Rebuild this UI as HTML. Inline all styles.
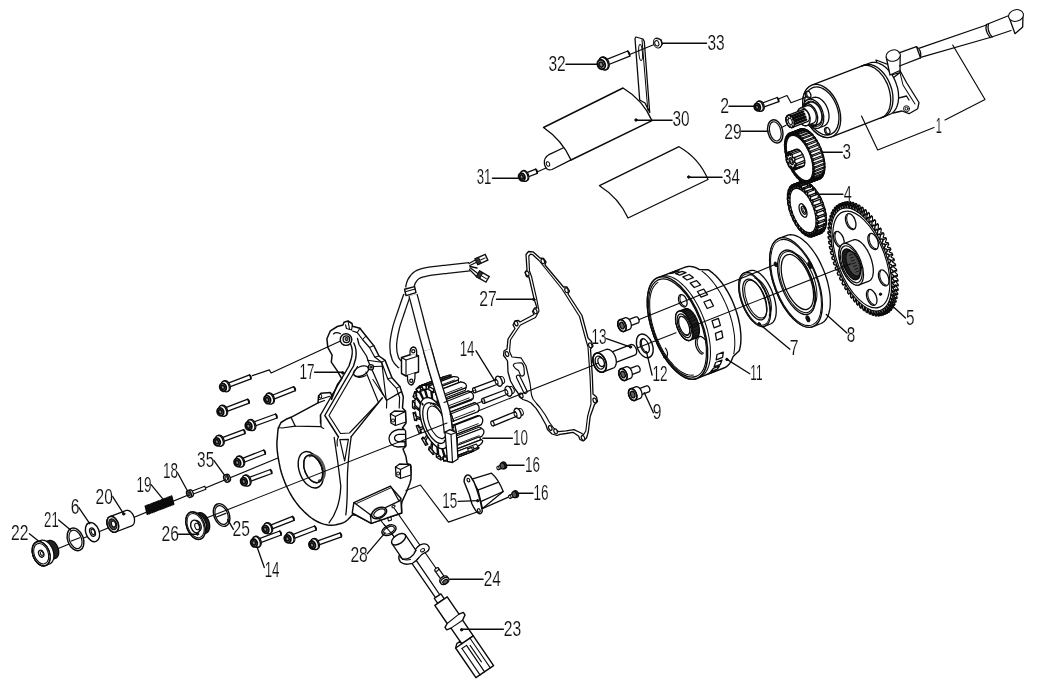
<!DOCTYPE html>
<html><head><meta charset="utf-8"><title>Exploded parts diagram</title>
<style>
html,body{margin:0;padding:0;background:#fff;}
svg{display:block;filter:grayscale(1)}
svg path,svg ellipse,svg circle,svg rect.s{stroke:#0a0a0a;stroke-linecap:round;stroke-linejoin:round}
svg text{font-family:"Liberation Sans",sans-serif;fill:#111;stroke:#fff;stroke-width:0.15px;paint-order:fill stroke}
</style></head><body>
<svg width="1052" height="691" viewBox="0 0 1052 691" fill="none">
<rect x="0" y="0" width="1052" height="691" fill="#fff" stroke="none"/>
<path d="M876.0,60.0 L899.0,68.7 L906.5,82.5 L919.0,102.5 L917.7,108.7 L909.0,113.7 L902.0,111.0 L893.0,113.0 Z" stroke-width="1.30" fill="#fff" />
<path d="M891.5,75.0 L900.0,72.5 L893.0,78.0 L896.5,98.7 L906.5,96.0 L909.0,100.0" stroke-width="1.30" fill="none" />
<path d="M899.0,68.7 L903.0,85.0 L915.0,104.0" stroke-width="1.04" fill="none" />
<circle cx="906.5" cy="108.7" r="3" fill="#fff"/>
<circle cx="906.5" cy="108.7" r="1.4" fill="none"/>
<path d="M882.9,117.1 L881.6,117.5 L880.3,117.7 L878.9,117.8 L877.4,117.7 L876.0,117.5 L874.5,117.1 L873.0,116.5 L871.5,115.8 L870.0,114.9 L868.6,113.9 L867.1,112.8 L865.7,111.5 L864.4,110.1 L863.1,108.5 L861.8,106.9 L860.7,105.2 L859.6,103.4 L858.6,101.5 L857.6,99.5 L856.8,97.5 L856.1,95.5 L855.5,93.4 L855.0,91.3 L854.6,89.3 L854.3,87.2 L854.1,85.1 L854.0,83.1 L854.1,81.2 L854.3,79.3 L854.6,77.5 L855.0,75.7 L855.5,74.1 L856.1,72.6 L856.9,71.2 L857.7,69.9 L858.6,68.7 L859.6,67.7 L860.7,66.8 L861.9,66.1 L863.2,65.5 L869.7,63.0 L871.0,62.6 L872.4,62.4 L873.8,62.3 L875.2,62.3 L876.7,62.6 L878.1,63.0 L879.6,63.6 L881.1,64.3 L882.6,65.1 L884.1,66.2 L885.5,67.3 L886.9,68.6 L888.3,70.0 L889.6,71.5 L890.8,73.2 L892.0,74.9 L893.1,76.7 L894.1,78.6 L895.0,80.5 L895.8,82.5 L896.5,84.6 L897.2,86.7 L897.7,88.7 L898.1,90.8 L898.4,92.9 L898.5,94.9 L898.6,96.9 L898.5,98.9 L898.3,100.8 L898.1,102.6 L897.6,104.3 L897.1,106.0 L896.5,107.5 L895.8,108.9 L894.9,110.2 L894.0,111.4 L893.0,112.4 L891.9,113.3 L890.7,114.0 L889.5,114.5 Z" stroke-width="1.30" fill="#fff" />
<ellipse cx="873.0" cy="91.3" rx="17.4" ry="27.6" transform="rotate(-21 873.0 91.3)" stroke-width="1.30" fill="#fff" />
<path d="M831.6,136.8 L830.3,137.2 L828.9,137.4 L827.5,137.5 L826.1,137.4 L824.6,137.2 L823.1,136.8 L821.7,136.2 L820.2,135.5 L818.7,134.6 L817.2,133.6 L815.8,132.5 L814.4,131.2 L813.0,129.8 L811.7,128.3 L810.5,126.6 L809.3,124.9 L808.2,123.1 L807.2,121.2 L806.3,119.2 L805.5,117.2 L804.7,115.2 L804.1,113.1 L803.6,111.0 L803.2,109.0 L802.9,106.9 L802.7,104.9 L802.7,102.8 L802.8,100.9 L802.9,99.0 L803.2,97.2 L803.6,95.5 L804.2,93.8 L804.8,92.3 L805.5,90.9 L806.3,89.6 L807.3,88.4 L808.3,87.4 L809.4,86.5 L810.6,85.8 L811.8,85.2 L864.1,65.2 L865.4,64.8 L866.8,64.5 L868.2,64.4 L869.6,64.5 L871.1,64.7 L872.5,65.1 L874.0,65.7 L875.5,66.4 L877.0,67.3 L878.5,68.3 L879.9,69.5 L881.3,70.7 L882.7,72.2 L884.0,73.7 L885.2,75.3 L886.4,77.0 L887.5,78.9 L888.5,80.7 L889.4,82.7 L890.2,84.7 L890.9,86.7 L891.6,88.8 L892.1,90.9 L892.5,93.0 L892.8,95.0 L892.9,97.1 L893.0,99.1 L892.9,101.0 L892.7,102.9 L892.5,104.7 L892.0,106.5 L891.5,108.1 L890.9,109.6 L890.2,111.1 L889.3,112.4 L888.4,113.5 L887.4,114.5 L886.3,115.4 L885.1,116.1 L883.9,116.7 Z" stroke-width="1.30" fill="#fff" />
<ellipse cx="821.7" cy="111.0" rx="17.4" ry="27.6" transform="rotate(-21 821.7 111.0)" stroke-width="1.30" fill="#fff" />
<path d="M881.5,117.6 L882.8,117.0 L884.0,116.3 L885.1,115.4 L886.1,114.4 L887.0,113.2 L887.8,112.0 L888.6,110.5 L889.2,109.0 L889.7,107.4 L890.1,105.6 L890.4,103.8 L890.6,101.9 L890.7,100.0 L890.6,98.0 L890.4,95.9 L890.1,93.9 L889.7,91.8 L889.2,89.7 L888.6,87.6 L887.9,85.6 L887.1,83.6 L886.1,81.6 L885.1,79.8 L884.0,77.9 L882.9,76.2 L881.6,74.6 L880.3,73.1 L879.0,71.6 L877.6,70.4 L876.1,69.2 L874.7,68.2 L873.2,67.3 L871.7,66.6 L870.2,66.0 L868.7,65.6 L867.3,65.4 L865.8,65.3 L864.4,65.4 L863.1,65.7 L861.8,66.1" stroke-width="1.30" fill="none" />
<ellipse cx="821.7" cy="111.0" rx="15.8" ry="25.0" transform="rotate(-21 821.7 111.0)" stroke-width="1.30" fill="none" />
<ellipse cx="808.2" cy="94.6" rx="2.5" ry="3.6" transform="rotate(-21 808.2 94.6)" stroke-width="1.30" fill="#fff" />
<path d="M807.5,91.5 L807.4,91.6 L807.3,91.7 L807.2,91.8 L807.1,91.9 L807.0,92.1 L806.9,92.2 L806.8,92.4 L806.8,92.6 L806.7,92.8 L806.7,93.0 L806.7,93.2 L806.7,93.4 L806.7,93.6 L806.7,93.8 L806.7,94.0 L806.7,94.2 L806.8,94.4 L806.8,94.7 L806.9,94.9 L806.9,95.1 L807.0,95.3 L807.1,95.5 L807.2,95.7 L807.3,95.9 L807.5,96.1 L807.6,96.2 L807.7,96.4 L807.9,96.5 L808.0,96.7 L808.2,96.8 L808.3,96.9 L808.5,97.0 L808.7,97.1 L808.8,97.2 L809.0,97.3 L809.2,97.3 L809.3,97.3 L809.5,97.4 L809.6,97.4 L809.8,97.4" stroke-width="1.04" fill="none" />
<ellipse cx="827.3" cy="131.0" rx="2.5" ry="3.6" transform="rotate(-21 827.3 131.0)" stroke-width="1.30" fill="#fff" />
<path d="M826.6,127.9 L826.5,128.0 L826.4,128.1 L826.3,128.2 L826.2,128.3 L826.1,128.5 L826.0,128.6 L825.9,128.8 L825.9,129.0 L825.8,129.2 L825.8,129.4 L825.8,129.6 L825.8,129.8 L825.8,130.0 L825.8,130.2 L825.8,130.4 L825.8,130.6 L825.9,130.8 L825.9,131.1 L826.0,131.3 L826.0,131.5 L826.1,131.7 L826.2,131.9 L826.3,132.1 L826.4,132.3 L826.6,132.5 L826.7,132.6 L826.8,132.8 L827.0,132.9 L827.1,133.1 L827.3,133.2 L827.4,133.3 L827.6,133.4 L827.8,133.5 L827.9,133.6 L828.1,133.7 L828.3,133.7 L828.4,133.7 L828.6,133.8 L828.7,133.8 L828.9,133.8" stroke-width="1.04" fill="none" />
<path d="M818.8,128.0 L818.1,128.2 L817.4,128.4 L816.6,128.4 L815.8,128.4 L815.0,128.2 L814.2,128.0 L813.4,127.7 L812.6,127.3 L811.7,126.8 L810.9,126.3 L810.1,125.6 L809.4,124.9 L808.6,124.1 L807.9,123.3 L807.2,122.4 L806.6,121.4 L806.0,120.4 L805.4,119.4 L804.9,118.3 L804.5,117.2 L804.1,116.1 L803.7,115.0 L803.4,113.8 L803.2,112.7 L803.1,111.5 L803.0,110.4 L802.9,109.3 L803.0,108.2 L803.1,107.2 L803.2,106.2 L803.5,105.2 L803.7,104.3 L804.1,103.5 L804.5,102.7 L804.9,102.0 L805.5,101.4 L806.0,100.8 L806.6,100.3 L807.3,99.9 L808.0,99.6 L813.1,97.6 L813.8,97.4 L814.6,97.3 L815.3,97.2 L816.1,97.3 L816.9,97.4 L817.7,97.6 L818.6,97.9 L819.4,98.3 L820.2,98.8 L821.0,99.4 L821.8,100.0 L822.6,100.7 L823.3,101.5 L824.0,102.3 L824.7,103.2 L825.4,104.2 L826.0,105.2 L826.5,106.2 L827.0,107.3 L827.5,108.4 L827.9,109.5 L828.2,110.7 L828.5,111.8 L828.7,113.0 L828.9,114.1 L829.0,115.2 L829.0,116.3 L829.0,117.4 L828.9,118.4 L828.7,119.4 L828.5,120.4 L828.2,121.3 L827.9,122.1 L827.4,122.9 L827.0,123.6 L826.5,124.3 L825.9,124.8 L825.3,125.3 L824.7,125.7 L824.0,126.0 Z" stroke-width="1.30" fill="#fff" />
<ellipse cx="813.4" cy="113.8" rx="9.6" ry="15.2" transform="rotate(-21 813.4 113.8)" stroke-width="1.30" fill="#fff" />
<ellipse cx="813.4" cy="113.8" rx="8.3" ry="13.2" transform="rotate(-21 813.4 113.8)" stroke-width="1.04" fill="none" />
<path d="M813.8,126.0 L813.3,126.2 L812.7,126.3 L812.1,126.3 L811.5,126.3 L810.9,126.2 L810.2,126.0 L809.6,125.8 L808.9,125.5 L808.3,125.1 L807.7,124.7 L807.1,124.2 L806.5,123.6 L805.9,123.0 L805.3,122.4 L804.8,121.7 L804.3,120.9 L803.8,120.2 L803.4,119.4 L803.0,118.5 L802.7,117.7 L802.3,116.8 L802.1,115.9 L801.9,115.0 L801.7,114.1 L801.6,113.2 L801.5,112.4 L801.5,111.5 L801.5,110.7 L801.6,109.9 L801.7,109.1 L801.9,108.4 L802.1,107.7 L802.4,107.0 L802.7,106.4 L803.0,105.8 L803.4,105.3 L803.9,104.9 L804.3,104.5 L804.8,104.2 L805.4,104.0 L809.6,102.4 L810.1,102.2 L810.7,102.1 L811.3,102.1 L811.9,102.1 L812.6,102.2 L813.2,102.4 L813.8,102.6 L814.5,102.9 L815.1,103.3 L815.7,103.7 L816.3,104.2 L816.9,104.8 L817.5,105.4 L818.1,106.0 L818.6,106.7 L819.1,107.4 L819.6,108.2 L820.0,109.0 L820.4,109.9 L820.7,110.7 L821.1,111.6 L821.3,112.5 L821.5,113.4 L821.7,114.3 L821.8,115.1 L821.9,116.0 L821.9,116.9 L821.9,117.7 L821.8,118.5 L821.7,119.3 L821.5,120.0 L821.3,120.7 L821.0,121.4 L820.7,122.0 L820.4,122.5 L820.0,123.0 L819.5,123.5 L819.1,123.9 L818.6,124.2 L818.0,124.4 Z" stroke-width="1.30" fill="#fff" />
<ellipse cx="809.6" cy="115.0" rx="7.4" ry="11.8" transform="rotate(-21 809.6 115.0)" stroke-width="1.30" fill="#fff" />
<path d="M806.5,103.6 L806.0,103.8 L805.5,104.1 L805.0,104.5 L804.6,104.9 L804.2,105.4 L803.8,106.0 L803.5,106.6 L803.2,107.2 L803.0,107.9 L802.8,108.7 L802.7,109.4 L802.6,110.3 L802.6,111.1 L802.6,111.9 L802.7,112.8 L802.8,113.7 L803.0,114.6 L803.2,115.5 L803.5,116.4 L803.8,117.2 L804.1,118.1 L804.5,118.9 L805.0,119.7 L805.4,120.5 L805.9,121.2 L806.5,121.9 L807.0,122.6 L807.6,123.2 L808.2,123.8 L808.8,124.2 L809.4,124.7 L810.1,125.0 L810.7,125.4 L811.3,125.6 L812.0,125.8 L812.6,125.9 L813.2,125.9 L813.8,125.9 L814.4,125.8 L814.9,125.6" stroke-width="1.17" fill="none" />
<path d="M807.6,103.1 L807.1,103.4 L806.6,103.7 L806.1,104.0 L805.7,104.5 L805.3,105.0 L804.9,105.5 L804.6,106.1 L804.3,106.8 L804.1,107.5 L803.9,108.2 L803.8,109.0 L803.7,109.8 L803.7,110.7 L803.7,111.5 L803.8,112.4 L803.9,113.3 L804.1,114.2 L804.3,115.0 L804.6,115.9 L804.9,116.8 L805.3,117.7 L805.6,118.5 L806.1,119.3 L806.5,120.1 L807.0,120.8 L807.6,121.5 L808.1,122.2 L808.7,122.8 L809.3,123.3 L809.9,123.8 L810.5,124.2 L811.2,124.6 L811.8,124.9 L812.5,125.2 L813.1,125.3 L813.7,125.4 L814.3,125.5 L814.9,125.4 L815.5,125.3 L816.1,125.2" stroke-width="1.17" fill="none" />
<path d="M808.7,102.7 L808.2,102.9 L807.7,103.2 L807.2,103.6 L806.8,104.1 L806.4,104.6 L806.0,105.1 L805.7,105.7 L805.5,106.4 L805.2,107.1 L805.1,107.8 L804.9,108.6 L804.9,109.4 L804.8,110.2 L804.9,111.1 L804.9,112.0 L805.1,112.8 L805.2,113.7 L805.4,114.6 L805.7,115.5 L806.0,116.4 L806.4,117.2 L806.8,118.1 L807.2,118.9 L807.7,119.6 L808.2,120.4 L808.7,121.1 L809.3,121.7 L809.8,122.3 L810.4,122.9 L811.0,123.4 L811.7,123.8 L812.3,124.2 L812.9,124.5 L813.6,124.7 L814.2,124.9 L814.8,125.0 L815.5,125.0 L816.1,125.0 L816.6,124.9 L817.2,124.7" stroke-width="1.17" fill="none" />
<path d="M807.1,125.5 L806.7,125.6 L806.2,125.7 L805.8,125.7 L805.3,125.7 L804.8,125.6 L804.3,125.5 L803.8,125.3 L803.3,125.1 L802.8,124.8 L802.3,124.4 L801.8,124.0 L801.3,123.6 L800.9,123.1 L800.4,122.6 L800.0,122.1 L799.6,121.5 L799.3,120.9 L798.9,120.2 L798.6,119.6 L798.3,118.9 L798.1,118.2 L797.9,117.5 L797.7,116.8 L797.6,116.1 L797.5,115.4 L797.4,114.7 L797.4,114.1 L797.4,113.4 L797.5,112.8 L797.6,112.1 L797.7,111.6 L797.9,111.0 L798.1,110.5 L798.3,110.0 L798.6,109.6 L798.9,109.2 L799.3,108.8 L799.7,108.6 L800.0,108.3 L800.5,108.1 L806.5,105.8 L807.0,105.7 L807.4,105.6 L807.9,105.5 L808.4,105.6 L808.9,105.6 L809.4,105.8 L809.9,106.0 L810.4,106.2 L810.9,106.5 L811.4,106.8 L811.9,107.2 L812.3,107.7 L812.8,108.1 L813.2,108.7 L813.6,109.2 L814.0,109.8 L814.4,110.4 L814.7,111.0 L815.1,111.7 L815.3,112.4 L815.6,113.1 L815.8,113.8 L816.0,114.5 L816.1,115.2 L816.2,115.9 L816.3,116.5 L816.3,117.2 L816.3,117.9 L816.2,118.5 L816.1,119.1 L816.0,119.7 L815.8,120.3 L815.6,120.8 L815.3,121.3 L815.0,121.7 L814.7,122.1 L814.4,122.4 L814.0,122.7 L813.6,123.0 L813.2,123.2 Z" stroke-width="1.30" fill="#fff" />
<ellipse cx="803.8" cy="116.8" rx="5.9" ry="9.3" transform="rotate(-21 803.8 116.8)" stroke-width="1.30" fill="#fff" />
<path d="M792.5,127.4 L792.2,127.5 L791.9,127.5 L791.6,127.5 L791.3,127.5 L790.9,127.4 L790.6,127.3 L790.3,127.2 L789.9,127.0 L789.6,126.8 L789.3,126.6 L789.0,126.3 L788.6,126.0 L788.3,125.7 L788.0,125.3 L787.8,125.0 L787.5,124.6 L787.2,124.1 L787.0,123.7 L786.8,123.2 L786.6,122.8 L786.4,122.3 L786.3,121.8 L786.2,121.3 L786.1,120.9 L786.0,120.4 L786.0,119.9 L785.9,119.5 L786.0,119.0 L786.0,118.6 L786.0,118.1 L786.1,117.8 L786.2,117.4 L786.4,117.0 L786.5,116.7 L786.7,116.4 L786.9,116.1 L787.1,115.9 L787.4,115.7 L787.6,115.6 L787.9,115.4 L802.8,109.7 L803.1,109.6 L803.4,109.5 L803.7,109.5 L804.1,109.6 L804.4,109.6 L804.7,109.7 L805.1,109.9 L805.4,110.0 L805.7,110.2 L806.1,110.5 L806.4,110.7 L806.7,111.0 L807.0,111.4 L807.3,111.7 L807.6,112.1 L807.8,112.5 L808.1,112.9 L808.3,113.4 L808.5,113.8 L808.7,114.3 L808.9,114.8 L809.0,115.2 L809.2,115.7 L809.3,116.2 L809.3,116.7 L809.4,117.2 L809.4,117.6 L809.4,118.1 L809.4,118.5 L809.3,118.9 L809.2,119.3 L809.1,119.7 L809.0,120.0 L808.8,120.4 L808.6,120.7 L808.4,120.9 L808.2,121.2 L808.0,121.4 L807.7,121.5 L807.4,121.6 Z" stroke-width="1.30" fill="#fff" />
<ellipse cx="790.2" cy="121.4" rx="3.8" ry="6.4" transform="rotate(-21 790.2 121.4)" stroke-width="1.30" fill="#fff" />
<path d="M790.0,116.8 L803.1,111.7" stroke-width="2.47" />
<path d="M791.0,119.2 L804.0,114.2" stroke-width="2.99" />
<path d="M792.0,122.0 L805.1,117.0" stroke-width="2.99" />
<path d="M793.0,124.6 L806.1,119.6" stroke-width="2.47" />
<ellipse cx="790.2" cy="121.4" rx="3.8" ry="6.4" transform="rotate(-21 790.2 121.4)" stroke-width="1.43" fill="#fff" />
<path d="M791.7,124.4 L793.0,126.9" stroke-width="1.04" />
<path d="M792.5,122.6 L794.3,123.6" stroke-width="1.04" />
<path d="M791.9,120.1 L793.2,119.1" stroke-width="1.04" />
<path d="M790.3,118.4 L790.4,115.9" stroke-width="1.04" />
<path d="M788.7,118.4 L787.4,115.9" stroke-width="1.04" />
<path d="M787.9,120.2 L786.1,119.2" stroke-width="1.04" />
<path d="M788.5,122.7 L787.2,123.7" stroke-width="1.04" />
<path d="M790.1,124.4 L790.0,126.9" stroke-width="1.04" />
<ellipse cx="790.2" cy="121.4" rx="1.9" ry="3.2" transform="rotate(-21 790.2 121.4)" stroke-width="1.04" fill="#fff" />
<path d="M886.2,57.0 L890.0,75.0 L900.0,70.5 L900.2,55.0 Z" stroke-width="1.30" fill="#fff" />
<ellipse cx="893.2" cy="55.6" rx="7.2" ry="5.6" transform="rotate(-15 893.2 55.6)" fill="#fff"/>
<path d="M899.0,52.8 L916.5,46.7 L920.5,57.8 L899.5,66.0" stroke-width="1.30" fill="none" />
<path d="M916.5,46.7 Q922,50 920.5,57.8" stroke-width="1.30" fill="none" />
<path d="M919.5,48.2 L986.5,25.0" stroke-width="1.30" />
<path d="M921.5,57.2 L990.0,37.5" stroke-width="1.30" />
<path d="M986.5,24.5 L1009.0,15.5" stroke-width="1.30" fill="none" />
<path d="M990.2,37.5 L1011.0,30.5" stroke-width="1.30" fill="none" />
<path d="M986.5,24.5 Q984.5,31 990.2,37.5" stroke-width="1.30" fill="none" />
<path d="M988.5,24 Q986.5,30.5 992.2,37" stroke-width="1.30" fill="none" />
<path d="M1009.0,17.0 L1015.0,33.7 L1022.7,27.0 L1023.0,14.0 Z" stroke-width="1.30" fill="#fff" />
<ellipse cx="1016" cy="15.5" rx="7.5" ry="5.8" transform="rotate(-15 1016 15.5)" fill="#fff"/>
<path d="M635.0,38.5 L636.0,37.0 L643.0,39.0 L644.3,41.5 L649.7,112.5 L645.0,103.0 L639.7,100.0 Z" stroke-width="1.30" fill="#fff" />
<path d="M642.0,39.5 L647.8,110.0" stroke-width="1.04" />
<ellipse cx="640.6" cy="52.5" rx="1.8" ry="8" transform="rotate(-4 640.6 52.5)" fill="#fff"/>
<path d="M563,148 L549.5,154.3 Q543,158 544.5,164.5 Q546.5,171.5 552,169.5 L571.5,159.7" stroke-width="1.30" fill="#fff" />
<ellipse cx="548" cy="164" rx="1.6" ry="2.4" transform="rotate(-20 548 164)"/>
<path d="M543.5,127.5 L623,88 Q643,100 652,120.7 L571,160 Q562,140 543.5,127.5 Z" stroke-width="1.43" fill="#fff" />
<path d="M599.5,185.7 L679,146.7 Q699,158 708,179.5 L628,218 Q619,198 599.5,185.7 Z" stroke-width="1.30" fill="#fff" />
<path d="M629.7,54.5 L656.0,43.7" stroke-width="1.17" />
<path d="M606.3,65.5 L629.8,56.2 L627.8,51.0 L604.3,60.3" stroke-width="1.30" fill="#fff" />
<path d="M629.8,56.2 Q630.2,53.0 627.8,51.0" stroke-width="1.30" fill="none" />
<ellipse cx="604.5" cy="63.2" rx="4.4" ry="6.6" transform="rotate(-21.6 604.5 63.2)" fill="#fff" stroke-width="1.30"/>
<ellipse cx="603.6" cy="63.6" rx="4.4" ry="6.6" transform="rotate(-21.6 603.6 63.6)" fill="#fff" stroke-width="1.43"/>
<ellipse cx="601.3" cy="64.5" rx="3.7" ry="4.8" transform="rotate(-21.6 601.3 64.5)" fill="#fff" stroke-width="1.95"/>
<ellipse cx="601.1" cy="64.6" rx="2.0" ry="2.6" transform="rotate(-21.6 601.1 64.6)" fill="#888" stroke-width="1.56"/>
<ellipse cx="657.5" cy="43" rx="4" ry="5" transform="rotate(-20 657.5 43)" fill="#fff"/>
<ellipse cx="656.8" cy="43.3" rx="2" ry="2.8" transform="rotate(-20 656.8 43.3)" fill="none"/>
<path d="M656,38.5 L661,39.5 L662.5,44 L660,47.5" stroke-width="1.17" fill="none" />
<path d="M537.0,172.0 L546.0,168.0" stroke-width="1.17" />
<path d="M526.6,177.5 L537.3,173.3 L535.7,169.1 L525.0,173.3" stroke-width="1.30" fill="#fff" />
<path d="M537.3,173.3 Q537.9,170.7 535.7,169.1" stroke-width="1.30" fill="none" />
<ellipse cx="525.0" cy="175.7" rx="3.6" ry="5.4" transform="rotate(-21.4 525.0 175.7)" fill="#fff" stroke-width="1.30"/>
<ellipse cx="524.1" cy="176.1" rx="3.6" ry="5.4" transform="rotate(-21.4 524.1 176.1)" fill="#fff" stroke-width="1.43"/>
<ellipse cx="521.8" cy="177.0" rx="3.0" ry="3.9" transform="rotate(-21.4 521.8 177.0)" fill="#fff" stroke-width="1.95"/>
<ellipse cx="521.6" cy="177.0" rx="1.6" ry="2.2" transform="rotate(-21.4 521.6 177.0)" fill="#888" stroke-width="1.56"/>
<path d="M762.1,107.7 L778.8,101.7 L777.2,97.5 L760.6,103.6" stroke-width="1.30" fill="#fff" />
<path d="M778.8,101.7 Q779.4,99.1 777.2,97.5" stroke-width="1.30" fill="none" />
<ellipse cx="760.6" cy="105.9" rx="3.4" ry="5.2" transform="rotate(-20.0 760.6 105.9)" fill="#fff" stroke-width="1.30"/>
<ellipse cx="759.6" cy="106.3" rx="3.4" ry="5.2" transform="rotate(-20.0 759.6 106.3)" fill="#fff" stroke-width="1.43"/>
<ellipse cx="757.3" cy="107.1" rx="2.9" ry="3.7" transform="rotate(-20.0 757.3 107.1)" fill="#fff" stroke-width="1.95"/>
<ellipse cx="757.1" cy="107.2" rx="1.6" ry="2.1" transform="rotate(-20.0 757.1 107.2)" fill="#888" stroke-width="1.56"/>
<path d="M779.5,98.5 L787.0,95.5 L791.0,102.8 L805.0,97.5" stroke-width="1.17" fill="none" />
<ellipse cx="775.3" cy="131.4" rx="7.4" ry="11.8" transform="rotate(-14 775.3 131.4)" fill="#fff" stroke-width="1.43"/>
<ellipse cx="775.3" cy="131.4" rx="5.6" ry="9.8" transform="rotate(-14 775.3 131.4)" fill="none" stroke-width="1.17"/>
<path d="M781.0,127.8 L786.0,125.3" stroke-width="1.17" />
<path d="M884.5,309.4 L886.8,313.4 L887.6,313.0 L886.4,308.5 L886.7,308.3 L889.1,312.1 L889.8,311.6 L888.3,307.0 L888.6,306.8 L891.1,310.3 L891.8,309.6 L890.1,305.1 L890.4,304.8 L892.9,308.1 L893.5,307.2 L891.7,302.7 L891.9,302.4 L894.5,305.3 L895.0,304.3 L893.0,300.0 L893.1,299.5 L895.8,302.2 L896.2,301.0 L894.0,296.9 L894.1,296.4 L896.8,298.6 L897.1,297.3 L894.8,293.4 L894.9,292.8 L897.6,294.7 L897.7,293.3 L895.3,289.6 L895.4,289.0 L898.0,290.5 L898.1,288.9 L895.5,285.5 L895.5,284.9 L898.1,285.9 L898.1,284.3 L895.5,281.2 L895.5,280.5 L898.0,281.2 L897.8,279.4 L895.2,276.6 L895.1,275.9 L897.5,276.2 L897.3,274.4 L894.6,271.9 L894.5,271.2 L896.7,271.0 L896.4,269.2 L893.7,267.1 L893.6,266.3 L895.7,265.7 L895.2,263.8 L892.6,262.2 L892.4,261.4 L894.3,260.4 L893.8,258.5 L891.2,257.2 L891.0,256.5 L892.8,255.0 L892.1,253.1 L889.6,252.3 L889.3,251.5 L890.9,249.7 L890.2,247.8 L887.8,247.4 L887.5,246.7 L888.8,244.4 L888.0,242.6 L885.7,242.6 L885.4,241.9 L886.5,239.3 L885.7,237.5 L883.5,237.9 L883.1,237.3 L884.0,234.3 L883.1,232.6 L881.1,233.5 L880.7,232.8 L881.3,229.5 L880.4,227.9 L878.5,229.2 L878.1,228.6 L878.5,225.0 L877.5,223.5 L875.8,225.2 L875.4,224.7 L875.6,220.9 L874.5,219.5 L873.1,221.6 L872.6,221.0 L872.5,217.0 L871.4,215.7 L870.2,218.2 L869.8,217.7 L869.4,213.5 L868.3,212.4 L867.3,215.2 L866.9,214.8 L866.3,210.4 L865.1,209.5 L864.4,212.6 L864.0,212.3 L863.1,207.8 L862.0,207.0 L861.5,210.4 L861.0,210.1 L859.9,205.6 L858.8,204.9 L858.6,208.7 L858.2,208.4 L856.8,203.9 L855.8,203.4 L855.8,207.3 L855.3,207.2 L853.8,202.7 L852.8,202.4 L853.0,206.5 L852.6,206.4 L850.9,201.9 L849.9,201.8 L850.4,206.1 L850.0,206.1 L848.1,201.7 L847.1,201.8 L847.9,206.2 L847.5,206.3 L845.4,202.0 L844.5,202.3 L845.5,206.8 L845.2,206.9 L842.9,202.8 L842.1,203.2 L843.3,207.8 L843.0,208.0 L840.6,204.1 L839.9,204.7 L841.3,209.3 L841.1,209.5 L838.6,205.9 L837.9,206.7 L839.6,211.2 L839.3,211.5 L836.8,208.2 L836.2,209.1 L838.0,213.5 L837.8,213.9 L835.2,210.9 L834.7,212.0 L836.7,216.3 L836.6,216.7 L833.9,214.1 L833.5,215.3 L835.7,219.4 L835.5,219.9 L832.9,217.6 L832.6,219.0 L834.9,222.9 L834.8,223.4 L832.1,221.5 L832.0,223.0 L834.4,226.7 L834.3,227.3 L831.7,225.8 L831.6,227.4 L834.2,230.8 L834.1,231.4 L831.6,230.3 L831.6,232.0 L834.2,235.1 L834.2,235.8 L831.7,235.1 L831.9,236.9 L834.5,239.7 L834.6,240.3 L832.2,240.1 L832.4,241.9 L835.1,244.4 L835.2,245.1 L833.0,245.3 L833.3,247.1 L836.0,249.2 L836.1,249.9 L834.0,250.6 L834.5,252.4 L837.1,254.1 L837.3,254.8 L835.3,255.9 L835.9,257.8 L838.5,259.1 L838.7,259.8 L836.9,261.3 L837.6,263.2 L840.1,264.0 L840.4,264.7 L838.8,266.6 L839.5,268.5 L841.9,268.9 L842.2,269.6 L840.9,271.9 L841.7,273.7 L844.0,273.7 L844.3,274.4 L843.2,277.0 L844.0,278.8 L846.2,278.3 L846.6,279.0 L845.7,282.0 L846.6,283.7 L848.6,282.8 L849.0,283.5 L848.4,286.7 L849.3,288.3 L851.2,287.0 L851.6,287.7 L851.2,291.2 L852.2,292.7 L853.9,291.0 L854.3,291.6 L854.1,295.4 L855.2,296.8 L856.6,294.7 L857.1,295.2 L857.2,299.3 L858.3,300.5 L859.5,298.1 L859.9,298.5 L860.3,302.8 L861.4,303.9 L862.4,301.1 L862.8,301.5 L863.4,305.8 L864.5,306.8 L865.3,303.7 L865.7,304.0 L866.6,308.5 L867.7,309.3 L868.2,305.9 L868.7,306.1 L869.8,310.7 L870.8,311.3 L871.1,307.6 L871.5,307.8 L872.9,312.4 L873.9,312.9 L873.9,308.9 L874.4,309.1 L875.9,313.6 L876.9,313.9 L876.7,309.8 L877.1,309.9 L878.8,314.3 L879.8,314.5 L879.3,310.2 L879.7,310.2 L881.6,314.5 L882.6,314.5 L881.8,310.1 L882.2,310.0 L884.3,314.2 L885.2,314.0 L884.2,309.5 Z" stroke-width="1.17" fill="#fff" />
<path d="M883.6,314.6 L887.2,313.2" stroke-width="1.30" />
<path d="M885.9,313.2 L889.4,311.9" stroke-width="1.30" />
<path d="M887.9,311.3 L891.4,310.0" stroke-width="1.30" />
<path d="M889.7,309.0 L893.2,307.6" stroke-width="1.30" />
<path d="M891.2,306.2 L894.7,304.8" stroke-width="1.30" />
<path d="M892.5,303.0 L896.0,301.6" stroke-width="1.30" />
<path d="M893.4,299.4 L897.0,298.0" stroke-width="1.30" />
<path d="M894.1,295.4 L897.7,294.0" stroke-width="1.30" />
<path d="M894.5,291.1 L898.0,289.7" stroke-width="1.30" />
<path d="M894.6,286.5 L898.1,285.1" stroke-width="1.30" />
<path d="M894.4,281.7 L897.9,280.3" stroke-width="1.30" />
<path d="M893.8,276.6 L897.4,275.3" stroke-width="1.30" />
<path d="M893.0,271.5 L896.6,270.1" stroke-width="1.30" />
<path d="M891.9,266.2 L895.5,264.8" stroke-width="1.30" />
<path d="M890.5,260.8 L894.1,259.4" stroke-width="1.30" />
<path d="M888.9,255.4 L892.5,254.1" stroke-width="1.30" />
<path d="M887.0,250.1 L890.6,248.8" stroke-width="1.30" />
<path d="M884.9,244.9 L888.4,243.5" stroke-width="1.30" />
<path d="M882.6,239.8 L886.1,238.4" stroke-width="1.30" />
<path d="M880.0,234.8 L883.6,233.5" stroke-width="1.30" />
<path d="M877.3,230.1 L880.9,228.8" stroke-width="1.30" />
<path d="M874.5,225.7 L878.0,224.3" stroke-width="1.30" />
<path d="M871.5,221.5 L875.1,220.2" stroke-width="1.30" />
<path d="M868.5,217.7 L872.0,216.4" stroke-width="1.30" />
<path d="M865.3,214.3 L868.9,213.0" stroke-width="1.30" />
<path d="M862.2,211.3 L865.7,210.0" stroke-width="1.30" />
<path d="M859.0,208.7 L862.6,207.4" stroke-width="1.30" />
<path d="M855.9,206.6 L859.4,205.3" stroke-width="1.30" />
<path d="M852.8,205.0 L856.3,203.6" stroke-width="1.30" />
<path d="M849.7,203.9 L853.3,202.5" stroke-width="1.30" />
<path d="M846.8,203.2 L850.4,201.9" stroke-width="1.30" />
<path d="M844.0,203.1 L847.6,201.7" stroke-width="1.30" />
<path d="M841.4,203.5 L845.0,202.1" stroke-width="1.30" />
<path d="M839.0,204.4 L842.5,203.0" stroke-width="1.30" />
<path d="M836.7,205.8 L840.3,204.4" stroke-width="1.30" />
<path d="M834.7,207.7 L838.3,206.3" stroke-width="1.30" />
<path d="M875.8,315.8 L879.3,314.4" stroke-width="1.30" />
<path d="M878.6,315.9 L882.1,314.5" stroke-width="1.30" />
<path d="M881.2,315.5 L884.7,314.1" stroke-width="1.30" />
<path d="M881.0,310.8 L883.2,314.8 L884.0,314.4 L882.8,309.9 L883.1,309.7 L885.5,313.5 L886.3,312.9 L884.8,308.4 L885.1,308.1 L887.6,311.7 L888.2,311.0 L886.6,306.5 L886.8,306.1 L889.4,309.4 L890.0,308.5 L888.1,304.1 L888.3,303.7 L891.0,306.7 L891.4,305.6 L889.4,301.4 L889.6,300.9 L892.3,303.6 L892.6,302.4 L890.5,298.2 L890.6,297.7 L893.3,300.0 L893.6,298.7 L891.2,294.7 L891.3,294.2 L894.0,296.1 L894.2,294.6 L891.8,290.9 L891.8,290.3 L894.4,291.8 L894.5,290.3 L892.0,286.9 L892.0,286.2 L894.6,287.3 L894.6,285.7 L891.9,282.5 L891.9,281.9 L894.4,282.5 L894.3,280.8 L891.6,278.0 L891.6,277.3 L893.9,277.5 L893.7,275.7 L891.0,273.3 L890.9,272.6 L893.2,272.3 L892.8,270.5 L890.2,268.4 L890.0,267.7 L892.1,267.1 L891.7,265.2 L889.0,263.5 L888.9,262.8 L890.8,261.7 L890.3,259.8 L887.7,258.6 L887.4,257.8 L889.2,256.4 L888.6,254.5 L886.0,253.6 L885.8,252.9 L887.4,251.0 L886.6,249.2 L884.2,248.7 L883.9,248.0 L885.3,245.8 L884.5,243.9 L882.2,244.0 L881.8,243.2 L883.0,240.6 L882.1,238.9 L879.9,239.3 L879.6,238.6 L880.5,235.6 L879.5,234.0 L877.5,234.8 L877.1,234.2 L877.8,230.9 L876.8,229.3 L875.0,230.6 L874.6,230.0 L875.0,226.4 L873.9,224.9 L872.3,226.6 L871.9,226.0 L872.0,222.2 L871.0,220.8 L869.5,222.9 L869.1,222.4 L869.0,218.4 L867.9,217.1 L866.7,219.6 L866.2,219.1 L865.9,214.9 L864.8,213.8 L863.8,216.6 L863.3,216.2 L862.7,211.8 L861.6,210.8 L860.8,214.0 L860.4,213.6 L859.5,209.2 L858.4,208.3 L857.9,211.8 L857.5,211.5 L856.4,207.0 L855.3,206.3 L855.0,210.0 L854.6,209.8 L853.3,205.2 L852.2,204.8 L852.2,208.7 L851.8,208.6 L850.3,204.0 L849.2,203.7 L849.5,207.9 L849.1,207.8 L847.3,203.3 L846.3,203.2 L846.8,207.5 L846.4,207.5 L844.5,203.1 L843.6,203.1 L844.3,207.6 L844.0,207.6 L841.9,203.4 L841.0,203.6 L842.0,208.1 L841.6,208.2 L839.4,204.2 L838.6,204.6 L839.8,209.1 L839.5,209.3 L837.1,205.5 L836.3,206.1 L837.8,210.6 L837.5,210.9 L835.0,207.3 L834.4,208.0 L836.0,212.5 L835.8,212.9 L833.2,209.6 L832.6,210.5 L834.5,214.9 L834.3,215.3 L831.6,212.3 L831.2,213.4 L833.2,217.6 L833.0,218.1 L830.3,215.4 L830.0,216.6 L832.1,220.8 L832.0,221.3 L829.3,219.0 L829.0,220.3 L831.4,224.3 L831.3,224.8 L828.6,222.9 L828.4,224.4 L830.8,228.1 L830.8,228.7 L828.2,227.2 L828.1,228.7 L830.6,232.1 L830.6,232.8 L828.0,231.7 L828.0,233.3 L830.7,236.5 L830.7,237.1 L828.2,236.5 L828.3,238.2 L831.0,241.0 L831.0,241.7 L828.7,241.5 L828.9,243.3 L831.6,245.7 L831.7,246.4 L829.4,246.7 L829.8,248.5 L832.4,250.6 L832.6,251.3 L830.5,251.9 L830.9,253.8 L833.6,255.5 L833.7,256.2 L831.8,257.3 L832.3,259.2 L834.9,260.4 L835.2,261.2 L833.4,262.6 L834.0,264.5 L836.6,265.4 L836.8,266.1 L835.2,268.0 L836.0,269.8 L838.4,270.3 L838.7,271.0 L837.3,273.2 L838.1,275.1 L840.4,275.0 L840.8,275.8 L839.6,278.4 L840.5,280.1 L842.7,279.7 L843.0,280.4 L842.1,283.4 L843.1,285.0 L845.1,284.2 L845.5,284.8 L844.8,288.1 L845.8,289.7 L847.6,288.4 L848.0,289.0 L847.6,292.6 L848.7,294.1 L850.3,292.4 L850.7,293.0 L850.6,296.8 L851.6,298.2 L853.1,296.1 L853.5,296.6 L853.6,300.6 L854.7,301.9 L855.9,299.4 L856.4,299.9 L856.7,304.1 L857.8,305.2 L858.8,302.4 L859.3,302.8 L859.9,307.2 L861.0,308.2 L861.8,305.0 L862.2,305.4 L863.1,309.8 L864.2,310.7 L864.7,307.2 L865.1,307.5 L866.2,312.0 L867.3,312.7 L867.6,309.0 L868.0,309.2 L869.3,313.8 L870.4,314.2 L870.4,310.3 L870.8,310.4 L872.3,315.0 L873.4,315.3 L873.1,311.1 L873.5,311.2 L875.3,315.7 L876.3,315.8 L875.8,311.5 L876.2,311.5 L878.1,315.9 L879.0,315.9 L878.3,311.4 L878.6,311.4 L880.7,315.6 L881.6,315.4 L880.6,310.9 Z" stroke-width="1.43" fill="#fff" />
<ellipse cx="861.3" cy="259.5" rx="25.0" ry="54.3" transform="rotate(-21 861.3 259.5)" stroke-width="1.17" fill="none" />
<ellipse cx="861.3" cy="259.5" rx="23.5" ry="51.0" transform="rotate(-21 861.3 259.5)" stroke-width="1.17" fill="none" />
<ellipse cx="850.7" cy="221.6" rx="4.7" ry="8.4" transform="rotate(-21 850.7 221.6)" stroke-width="1.30" fill="#fff" />
<path d="M847.7,214.7 L847.5,215.0 L847.3,215.2 L847.2,215.5 L847.1,215.9 L847.0,216.2 L846.9,216.6 L846.8,217.0 L846.8,217.4 L846.7,217.8 L846.7,218.2 L846.7,218.6 L846.8,219.1 L846.8,219.5 L846.9,220.0 L846.9,220.4 L847.0,220.9 L847.2,221.4 L847.3,221.8 L847.4,222.3 L847.6,222.8 L847.8,223.2 L848.0,223.7 L848.2,224.1 L848.4,224.5 L848.7,224.9 L848.9,225.3 L849.2,225.7 L849.5,226.1 L849.7,226.4 L850.0,226.8 L850.3,227.1 L850.6,227.4 L850.9,227.6 L851.2,227.9 L851.5,228.1 L851.8,228.3 L852.1,228.4 L852.5,228.5 L852.8,228.7 L853.1,228.7" stroke-width="1.04" fill="none" />
<ellipse cx="873.1" cy="241.5" rx="4.7" ry="8.4" transform="rotate(-21 873.1 241.5)" stroke-width="1.30" fill="#fff" />
<path d="M870.1,234.6 L869.9,234.8 L869.7,235.1 L869.6,235.4 L869.5,235.7 L869.4,236.1 L869.3,236.4 L869.2,236.8 L869.2,237.2 L869.1,237.6 L869.1,238.1 L869.1,238.5 L869.2,238.9 L869.2,239.4 L869.3,239.8 L869.3,240.3 L869.4,240.8 L869.6,241.2 L869.7,241.7 L869.8,242.2 L870.0,242.6 L870.2,243.1 L870.4,243.5 L870.6,244.0 L870.8,244.4 L871.1,244.8 L871.3,245.2 L871.6,245.6 L871.8,245.9 L872.1,246.3 L872.4,246.6 L872.7,246.9 L873.0,247.2 L873.3,247.5 L873.6,247.7 L873.9,247.9 L874.2,248.1 L874.5,248.3 L874.9,248.4 L875.2,248.5 L875.5,248.6" stroke-width="1.04" fill="none" />
<ellipse cx="883.7" cy="277.9" rx="4.7" ry="8.4" transform="rotate(-21 883.7 277.9)" stroke-width="1.30" fill="#fff" />
<path d="M880.7,271.0 L880.5,271.2 L880.3,271.5 L880.2,271.8 L880.1,272.2 L880.0,272.5 L879.9,272.9 L879.8,273.2 L879.8,273.6 L879.7,274.1 L879.7,274.5 L879.7,274.9 L879.8,275.4 L879.8,275.8 L879.9,276.3 L879.9,276.7 L880.0,277.2 L880.2,277.7 L880.3,278.1 L880.4,278.6 L880.6,279.1 L880.8,279.5 L881.0,280.0 L881.2,280.4 L881.4,280.8 L881.7,281.2 L881.9,281.6 L882.2,282.0 L882.4,282.4 L882.7,282.7 L883.0,283.0 L883.3,283.4 L883.6,283.6 L883.9,283.9 L884.2,284.1 L884.5,284.3 L884.8,284.5 L885.1,284.7 L885.4,284.8 L885.8,284.9 L886.1,285.0" stroke-width="1.04" fill="none" />
<ellipse cx="871.7" cy="297.4" rx="4.7" ry="8.4" transform="rotate(-21 871.7 297.4)" stroke-width="1.30" fill="#fff" />
<path d="M868.7,290.5 L868.6,290.8 L868.4,291.0 L868.3,291.3 L868.2,291.7 L868.0,292.0 L868.0,292.4 L867.9,292.8 L867.8,293.2 L867.8,293.6 L867.8,294.0 L867.8,294.4 L867.8,294.9 L867.9,295.3 L867.9,295.8 L868.0,296.3 L868.1,296.7 L868.2,297.2 L868.4,297.7 L868.5,298.1 L868.7,298.6 L868.9,299.0 L869.1,299.5 L869.3,299.9 L869.5,300.3 L869.7,300.7 L870.0,301.1 L870.3,301.5 L870.5,301.9 L870.8,302.2 L871.1,302.6 L871.4,302.9 L871.7,303.2 L872.0,303.4 L872.3,303.7 L872.6,303.9 L872.9,304.1 L873.2,304.2 L873.5,304.4 L873.8,304.5 L874.1,304.5" stroke-width="1.04" fill="none" />
<ellipse cx="838.9" cy="239.4" rx="4.7" ry="8.4" transform="rotate(-21 838.9 239.4)" stroke-width="1.30" fill="#fff" />
<path d="M835.9,232.5 L835.8,232.8 L835.6,233.1 L835.5,233.4 L835.3,233.7 L835.2,234.0 L835.2,234.4 L835.1,234.8 L835.0,235.2 L835.0,235.6 L835.0,236.0 L835.0,236.4 L835.0,236.9 L835.1,237.3 L835.1,237.8 L835.2,238.3 L835.3,238.7 L835.4,239.2 L835.6,239.7 L835.7,240.1 L835.9,240.6 L836.1,241.0 L836.3,241.5 L836.5,241.9 L836.7,242.3 L836.9,242.8 L837.2,243.2 L837.4,243.5 L837.7,243.9 L838.0,244.3 L838.3,244.6 L838.6,244.9 L838.9,245.2 L839.2,245.4 L839.5,245.7 L839.8,245.9 L840.1,246.1 L840.4,246.2 L840.7,246.4 L841.0,246.5 L841.3,246.6" stroke-width="1.04" fill="none" />
<path d="M859.1,284.8 L858.3,285.1 L857.5,285.2 L856.7,285.1 L855.8,285.0 L854.9,284.7 L853.9,284.2 L853.0,283.7 L852.0,283.0 L851.1,282.3 L850.1,281.4 L849.1,280.4 L848.2,279.3 L847.3,278.1 L846.4,276.9 L845.5,275.5 L844.7,274.1 L843.9,272.6 L843.1,271.1 L842.4,269.5 L841.8,267.9 L841.2,266.3 L840.6,264.7 L840.2,263.0 L839.8,261.4 L839.5,259.8 L839.2,258.2 L839.0,256.7 L838.9,255.2 L838.9,253.7 L838.9,252.3 L839.1,251.0 L839.3,249.8 L839.5,248.7 L839.9,247.6 L840.3,246.7 L840.8,245.9 L841.3,245.2 L841.9,244.6 L842.6,244.1 L843.3,243.8 L853.1,240.0 L853.9,239.8 L854.7,239.7 L855.5,239.7 L856.4,239.9 L857.3,240.2 L858.3,240.6 L859.2,241.1 L860.2,241.8 L861.1,242.6 L862.1,243.4 L863.1,244.4 L864.0,245.5 L864.9,246.7 L865.8,248.0 L866.7,249.3 L867.6,250.7 L868.3,252.2 L869.1,253.7 L869.8,255.3 L870.5,256.9 L871.0,258.5 L871.6,260.2 L872.0,261.8 L872.4,263.4 L872.7,265.0 L873.0,266.6 L873.2,268.2 L873.3,269.7 L873.3,271.1 L873.3,272.5 L873.1,273.8 L872.9,275.0 L872.7,276.2 L872.3,277.2 L871.9,278.1 L871.4,278.9 L870.9,279.7 L870.3,280.3 L869.6,280.7 L868.9,281.1 Z" stroke-width="1.30" fill="#fff" />
<ellipse cx="851.2" cy="264.3" rx="10.1" ry="22.0" transform="rotate(-21 851.2 264.3)" stroke-width="1.30" fill="#fff" />
<ellipse cx="851.2" cy="264.3" rx="9.0" ry="19.5" transform="rotate(-21 851.2 264.3)" stroke-width="1.17" fill="none" />
<ellipse cx="851.2" cy="264.3" rx="7.5" ry="16.3" transform="rotate(-21 851.2 264.3)" stroke-width="1.30" fill="#1a1a1a" />
<ellipse cx="853.3" cy="263.5" rx="6.1" ry="13.2" transform="rotate(-21 853.3 263.5)" stroke-width="1.04" fill="#4a4a4a" />
<path d="M858.7,277.1 L859.5,274.2" stroke-width="0.91" stroke="#ddd"/>
<path d="M859.3,275.8 L860.0,273.1" stroke-width="0.91" stroke="#ddd"/>
<path d="M859.7,274.2 L860.4,271.8" stroke-width="0.91" stroke="#ddd"/>
<path d="M859.9,272.4 L860.5,270.2" stroke-width="0.91" stroke="#ddd"/>
<path d="M859.9,270.3 L860.5,268.5" stroke-width="0.91" stroke="#ddd"/>
<path d="M859.6,268.1 L860.3,266.7" stroke-width="0.91" stroke="#ddd"/>
<path d="M859.2,265.8 L859.9,264.8" stroke-width="0.91" stroke="#ddd"/>
<path d="M858.5,263.5 L859.4,262.9" stroke-width="0.91" stroke="#ddd"/>
<path d="M857.7,261.2 L858.7,260.9" stroke-width="0.91" stroke="#ddd"/>
<path d="M856.7,259.0 L857.8,259.1" stroke-width="0.91" stroke="#ddd"/>
<path d="M855.6,256.9 L856.9,257.3" stroke-width="0.91" stroke="#ddd"/>
<path d="M854.3,255.0 L855.9,255.8" stroke-width="0.91" stroke="#ddd"/>
<path d="M853.0,253.3 L854.8,254.4" stroke-width="0.91" stroke="#ddd"/>
<path d="M851.7,251.9 L853.7,253.2" stroke-width="0.91" stroke="#ddd"/>
<path d="M850.3,250.8 L852.5,252.3" stroke-width="0.91" stroke="#ddd"/>
<path d="M849.0,250.0 L851.4,251.6" stroke-width="0.91" stroke="#ddd"/>
<path d="M847.7,249.6 L850.3,251.3" stroke-width="0.91" stroke="#ddd"/>
<path d="M846.5,249.5 L849.3,251.2" stroke-width="0.91" stroke="#ddd"/>
<path d="M849.4,255.4 L852.2,254.3" stroke-width="0.91" stroke="#ddd"/>
<path d="M850.5,258.2 L853.3,257.1" stroke-width="0.91" stroke="#ddd"/>
<path d="M851.5,261.0 L854.3,259.9" stroke-width="0.91" stroke="#ddd"/>
<path d="M852.6,263.8 L855.4,262.7" stroke-width="0.91" stroke="#ddd"/>
<path d="M853.7,266.6 L856.5,265.5" stroke-width="0.91" stroke="#ddd"/>
<path d="M854.8,269.4 L857.6,268.3" stroke-width="0.91" stroke="#ddd"/>
<path d="M855.8,272.2 L858.6,271.1" stroke-width="0.91" stroke="#ddd"/>
<path d="M813.0,236.5 L812.0,236.7 L811.0,236.9 L809.9,236.8 L808.8,236.6 L807.6,236.2 L806.5,235.7 L805.3,235.0 L804.0,234.2 L802.8,233.2 L801.6,232.1 L800.4,230.8 L799.2,229.5 L798.0,228.0 L796.9,226.4 L795.8,224.7 L794.7,222.9 L793.7,221.0 L792.8,219.1 L791.9,217.1 L791.1,215.1 L790.3,213.0 L789.6,211.0 L789.1,208.9 L788.6,206.8 L788.2,204.8 L787.8,202.8 L787.6,200.8 L787.5,199.0 L787.5,197.1 L787.5,195.4 L787.7,193.7 L787.9,192.2 L788.3,190.8 L788.7,189.5 L789.2,188.3 L789.8,187.2 L790.5,186.3 L791.3,185.6 L792.1,185.0 L793.0,184.5 L801.0,181.5 L801.9,181.2 L803.0,181.1 L804.0,181.1 L805.1,181.4 L806.3,181.7 L807.5,182.2 L808.7,182.9 L809.9,183.8 L811.1,184.7 L812.3,185.9 L813.5,187.1 L814.7,188.5 L815.9,190.0 L817.0,191.6 L818.2,193.3 L819.2,195.1 L820.2,196.9 L821.2,198.9 L822.1,200.8 L822.9,202.9 L823.6,204.9 L824.3,207.0 L824.9,209.1 L825.4,211.1 L825.8,213.2 L826.1,215.2 L826.3,217.1 L826.4,219.0 L826.5,220.8 L826.4,222.6 L826.3,224.2 L826.0,225.8 L825.7,227.2 L825.2,228.5 L824.7,229.7 L824.1,230.7 L823.4,231.6 L822.6,232.4 L821.8,233.0 L820.9,233.4 Z" stroke-width="1.30" fill="#fff" />
<path d="M819.5,229.8 L821.5,233.1 L822.3,232.6 L821.2,228.7 L821.4,228.5 L823.6,231.3 L824.3,230.5 L822.7,226.6 L822.9,226.2 L825.2,228.5 L825.6,227.3 L823.8,223.7 L823.9,223.2 L826.2,224.7 L826.4,223.2 L824.3,220.1 L824.3,219.5 L826.5,220.2 L826.4,218.5 L824.2,215.9 L824.1,215.2 L826.1,215.2 L825.8,213.3 L823.5,211.3 L823.3,210.6 L825.0,209.7 L824.5,207.8 L822.3,206.6 L822.0,205.9 L823.4,204.2 L822.7,202.3 L820.5,201.9 L820.2,201.2 L821.2,198.9 L820.3,197.1 L818.4,197.4 L818.1,196.8 L818.5,193.9 L817.5,192.3 L815.9,193.4 L815.5,192.9 L815.5,189.5 L814.4,188.1 L813.2,190.0 L812.8,189.6 L812.3,185.9 L811.2,184.8 L810.5,187.4 L810.0,187.1 L809.1,183.2 L808.0,182.5 L807.7,185.7 L807.3,185.5 L805.9,181.6 L804.8,181.3 L805.1,184.8 L804.7,184.8 L803.0,181.1 L802.0,181.2 L802.7,185.0 L802.4,185.1 L800.4,181.8 L799.6,182.3 L800.7,186.2 L800.4,186.4 L798.2,183.6 L797.6,184.5 L799.1,188.3 L798.9,188.7 L796.6,186.4 L796.2,187.6 L798.1,191.2 L798.0,191.7 L795.7,190.2 L795.5,191.7 L797.6,194.9 L797.6,195.5 L795.4,194.7 L795.4,196.4 L797.7,199.0 L797.8,199.7 L795.8,199.8 L796.1,201.6 L798.4,203.6 L798.5,204.3 L796.8,205.2 L797.3,207.1 L799.6,208.3 L799.8,209.0 L798.5,210.7 L799.2,212.6 L801.3,213.0 L801.6,213.7 L800.7,216.0 L801.6,217.8 L803.5,217.5 L803.8,218.1 L803.4,221.0 L804.4,222.7 L805.9,221.5 L806.3,222.0 L806.3,225.4 L807.4,226.8 L808.6,224.9 L809.0,225.3 L809.5,229.0 L810.7,230.1 L811.4,227.5 L811.8,227.8 L812.8,231.7 L813.9,232.4 L814.2,229.3 L814.6,229.4 L816.0,233.3 L817.0,233.6 L816.8,230.1 L817.2,230.1 L818.9,233.8 L819.9,233.7 L819.2,229.9 Z" stroke-width="1.17" fill="#fff" />
<path d="M813.6,236.2 L821.5,233.1" stroke-width="1.30" />
<path d="M814.4,235.7 L822.3,232.6" stroke-width="1.30" />
<path d="M815.7,234.4 L823.6,231.3" stroke-width="1.30" />
<path d="M816.3,233.5 L824.3,230.5" stroke-width="1.30" />
<path d="M817.3,231.5 L825.2,228.5" stroke-width="1.30" />
<path d="M817.7,230.3 L825.6,227.3" stroke-width="1.30" />
<path d="M818.3,227.8 L826.2,224.7" stroke-width="1.30" />
<path d="M818.4,226.3 L826.4,223.2" stroke-width="1.30" />
<path d="M818.5,223.3 L826.5,220.2" stroke-width="1.30" />
<path d="M818.5,221.5 L826.4,218.5" stroke-width="1.30" />
<path d="M818.2,218.2 L826.1,215.2" stroke-width="1.30" />
<path d="M817.9,216.3 L825.8,213.3" stroke-width="1.30" />
<path d="M817.1,212.8 L825.0,209.7" stroke-width="1.30" />
<path d="M816.6,210.9 L824.5,207.8" stroke-width="1.30" />
<path d="M815.4,207.3 L823.4,204.2" stroke-width="1.30" />
<path d="M814.7,205.4 L822.7,202.3" stroke-width="1.30" />
<path d="M813.2,201.9 L821.2,198.9" stroke-width="1.30" />
<path d="M812.3,200.1 L820.3,197.1" stroke-width="1.30" />
<path d="M810.6,196.9 L818.5,193.9" stroke-width="1.30" />
<path d="M809.6,195.3 L817.5,192.3" stroke-width="1.30" />
<path d="M807.6,192.5 L815.5,189.5" stroke-width="1.30" />
<path d="M806.5,191.2 L814.4,188.1" stroke-width="1.30" />
<path d="M804.4,188.9 L812.3,185.9" stroke-width="1.30" />
<path d="M803.3,187.9 L811.2,184.8" stroke-width="1.30" />
<path d="M801.1,186.2 L809.1,183.2" stroke-width="1.30" />
<path d="M800.0,185.5 L808.0,182.5" stroke-width="1.30" />
<path d="M798.0,184.6 L805.9,181.6" stroke-width="1.30" />
<path d="M796.9,184.3 L804.8,181.3" stroke-width="1.30" />
<path d="M795.0,184.1 L803.0,181.1" stroke-width="1.30" />
<path d="M794.1,184.3 L802.0,181.2" stroke-width="1.30" />
<path d="M792.4,184.8 L800.4,181.8" stroke-width="1.30" />
<path d="M791.6,185.3 L799.6,182.3" stroke-width="1.30" />
<path d="M790.3,186.6 L798.2,183.6" stroke-width="1.30" />
<path d="M809.1,236.7 L817.0,233.6" stroke-width="1.30" />
<path d="M811.0,236.9 L818.9,233.8" stroke-width="1.30" />
<path d="M811.9,236.7 L819.9,233.7" stroke-width="1.30" />
<path d="M811.6,232.8 L813.6,236.2 L814.4,235.7 L813.2,231.8 L813.5,231.5 L815.7,234.4 L816.3,233.5 L814.8,229.7 L815.0,229.3 L817.3,231.5 L817.7,230.3 L815.9,226.7 L816.0,226.2 L818.3,227.8 L818.4,226.3 L816.3,223.1 L816.4,222.5 L818.5,223.3 L818.5,221.5 L816.2,218.9 L816.2,218.2 L818.2,218.2 L817.9,216.3 L815.6,214.4 L815.4,213.6 L817.1,212.8 L816.6,210.9 L814.3,209.6 L814.1,208.9 L815.4,207.3 L814.7,205.4 L812.6,204.9 L812.3,204.2 L813.2,201.9 L812.3,200.1 L810.5,200.5 L810.1,199.9 L810.6,196.9 L809.6,195.3 L808.0,196.5 L807.6,195.9 L807.6,192.5 L806.5,191.2 L805.3,193.1 L804.9,192.6 L804.4,188.9 L803.3,187.9 L802.5,190.5 L802.1,190.1 L801.1,186.2 L800.0,185.5 L799.8,188.7 L799.4,188.5 L798.0,184.6 L796.9,184.3 L797.1,187.9 L796.8,187.9 L795.0,184.1 L794.1,184.3 L794.8,188.1 L794.4,188.2 L792.4,184.8 L791.6,185.3 L792.8,189.2 L792.5,189.5 L790.3,186.6 L789.7,187.5 L791.2,191.3 L791.0,191.7 L788.7,189.5 L788.3,190.7 L790.1,194.3 L790.0,194.8 L787.7,193.2 L787.6,194.7 L789.7,197.9 L789.6,198.5 L787.5,197.7 L787.5,199.5 L789.8,202.1 L789.8,202.8 L787.8,202.8 L788.1,204.7 L790.4,206.6 L790.6,207.4 L788.9,208.2 L789.4,210.1 L791.7,211.4 L791.9,212.1 L790.6,213.7 L791.3,215.6 L793.4,216.1 L793.7,216.8 L792.8,219.1 L793.7,220.9 L795.5,220.5 L795.9,221.1 L795.4,224.1 L796.4,225.7 L798.0,224.5 L798.4,225.1 L798.4,228.5 L799.5,229.8 L800.7,227.9 L801.1,228.4 L801.6,232.1 L802.7,233.1 L803.5,230.5 L803.9,230.9 L804.9,234.8 L806.0,235.5 L806.2,232.3 L806.6,232.5 L808.0,236.4 L809.1,236.7 L808.9,233.1 L809.2,233.1 L811.0,236.9 L811.9,236.7 L811.2,232.9 Z" stroke-width="1.56" fill="#fff" />
<ellipse cx="803.0" cy="210.5" rx="10.8" ry="23.4" transform="rotate(-21 803.0 210.5)" stroke-width="1.30" fill="none" />
<ellipse cx="803.0" cy="210.5" rx="3.3" ry="7.2" transform="rotate(-21 803.0 210.5)" stroke-width="1.30" fill="none" />
<ellipse cx="803.7" cy="210.2" rx="1.9" ry="4.2" transform="rotate(-21 803.7 210.2)" stroke-width="1.30" fill="none" />
<ellipse cx="804.1" cy="210.1" rx="1.1" ry="2.4" transform="rotate(-21 804.1 210.1)" stroke-width="1.04" fill="none" />
<path d="M809.2,183.0 L808.3,183.3 L807.3,183.4 L806.3,183.4 L805.2,183.2 L804.1,182.8 L802.9,182.3 L801.8,181.6 L800.6,180.8 L799.4,179.9 L798.3,178.8 L797.1,177.6 L795.9,176.3 L794.8,174.8 L793.7,173.3 L792.6,171.7 L791.6,169.9 L790.7,168.1 L789.7,166.3 L788.9,164.4 L788.1,162.4 L787.4,160.4 L786.7,158.4 L786.2,156.5 L785.7,154.5 L785.3,152.5 L785.0,150.6 L784.8,148.7 L784.6,146.9 L784.6,145.1 L784.7,143.4 L784.8,141.8 L785.1,140.4 L785.4,139.0 L785.8,137.7 L786.3,136.6 L786.9,135.6 L787.6,134.7 L788.3,134.0 L789.1,133.4 L790.0,133.0 L800.3,129.0 L801.2,128.8 L802.2,128.7 L803.2,128.7 L804.3,128.9 L805.4,129.3 L806.5,129.8 L807.7,130.4 L808.9,131.2 L810.0,132.2 L811.2,133.2 L812.4,134.4 L813.5,135.8 L814.7,137.2 L815.8,138.8 L816.8,140.4 L817.8,142.1 L818.8,143.9 L819.7,145.8 L820.6,147.7 L821.4,149.6 L822.1,151.6 L822.7,153.6 L823.3,155.6 L823.8,157.6 L824.2,159.6 L824.5,161.5 L824.7,163.4 L824.8,165.2 L824.9,166.9 L824.8,168.6 L824.6,170.2 L824.4,171.7 L824.1,173.1 L823.7,174.3 L823.1,175.5 L822.6,176.5 L821.9,177.4 L821.2,178.1 L820.3,178.7 L819.5,179.1 Z" stroke-width="1.30" fill="#fff" />
<path d="M818.6,176.8 L819.9,178.9 L820.5,178.6 L819.9,176.1 L820.1,175.9 L821.5,177.7 L822.0,177.2 L821.2,174.7 L821.4,174.5 L822.9,176.0 L823.3,175.3 L822.3,172.9 L822.4,172.5 L823.9,173.7 L824.1,172.8 L823.0,170.5 L823.1,170.1 L824.5,171.0 L824.7,169.9 L823.4,167.8 L823.5,167.3 L824.8,167.8 L824.9,166.6 L823.5,164.7 L823.5,164.2 L824.8,164.3 L824.7,163.0 L823.2,161.3 L823.2,160.8 L824.3,160.5 L824.1,159.2 L822.7,157.8 L822.5,157.3 L823.6,156.6 L823.2,155.2 L821.7,154.2 L821.6,153.6 L822.4,152.6 L822.0,151.2 L820.6,150.6 L820.3,150.0 L821.0,148.7 L820.4,147.3 L819.1,147.0 L818.9,146.5 L819.3,144.8 L818.6,143.6 L817.4,143.7 L817.1,143.2 L817.3,141.3 L816.6,140.1 L815.5,140.6 L815.2,140.1 L815.2,138.0 L814.4,136.9 L813.5,137.8 L813.2,137.4 L813.0,135.1 L812.2,134.2 L811.4,135.4 L811.1,135.1 L810.6,132.7 L809.8,132.0 L809.3,133.5 L809.0,133.3 L808.3,130.8 L807.5,130.3 L807.1,132.1 L806.8,131.9 L806.0,129.5 L805.2,129.2 L805.1,131.2 L804.8,131.2 L803.7,128.8 L803.0,128.7 L803.2,130.9 L802.9,130.9 L801.7,128.7 L801.0,128.8 L801.4,131.2 L801.1,131.3 L799.8,129.2 L799.2,129.6 L799.8,132.0 L799.6,132.2 L798.2,130.4 L797.7,130.9 L798.5,133.4 L798.3,133.6 L796.9,132.1 L796.5,132.9 L797.5,135.3 L797.3,135.6 L795.9,134.4 L795.6,135.3 L796.7,137.6 L796.6,138.0 L795.2,137.1 L795.1,138.2 L796.3,140.4 L796.3,140.8 L794.9,140.3 L794.9,141.5 L796.2,143.4 L796.3,143.9 L795.0,143.8 L795.1,145.1 L796.5,146.8 L796.6,147.3 L795.4,147.6 L795.6,149.0 L797.1,150.3 L797.2,150.8 L796.2,151.5 L796.5,152.9 L798.0,153.9 L798.2,154.5 L797.3,155.5 L797.8,156.9 L799.2,157.5 L799.4,158.1 L798.7,159.5 L799.3,160.8 L800.6,161.1 L800.9,161.6 L800.5,163.3 L801.1,164.6 L802.3,164.4 L802.6,164.9 L802.4,166.9 L803.1,168.0 L804.2,167.5 L804.5,168.0 L804.5,170.1 L805.3,171.2 L806.2,170.3 L806.5,170.7 L806.8,173.0 L807.6,173.9 L808.3,172.7 L808.6,173.0 L809.1,175.4 L809.9,176.2 L810.5,174.6 L810.8,174.9 L811.5,177.3 L812.3,177.8 L812.6,176.0 L812.9,176.2 L813.8,178.6 L814.6,178.9 L814.6,176.9 L814.9,177.0 L816.0,179.3 L816.7,179.4 L816.6,177.2 L816.9,177.2 L818.1,179.4 L818.7,179.3 L818.4,176.9 Z" stroke-width="1.17" fill="#fff" />
<path d="M809.6,182.8 L819.9,178.9" stroke-width="1.10" />
<path d="M810.2,182.5 L820.5,178.6" stroke-width="1.10" />
<path d="M811.3,181.7 L821.5,177.7" stroke-width="1.10" />
<path d="M811.8,181.1 L822.0,177.2" stroke-width="1.10" />
<path d="M812.6,179.9 L822.9,176.0" stroke-width="1.10" />
<path d="M813.0,179.2 L823.3,175.3" stroke-width="1.10" />
<path d="M813.6,177.7 L823.9,173.7" stroke-width="1.10" />
<path d="M813.9,176.8 L824.1,172.8" stroke-width="1.10" />
<path d="M814.3,174.9 L824.5,171.0" stroke-width="1.10" />
<path d="M814.4,173.8 L824.7,169.9" stroke-width="1.10" />
<path d="M814.6,171.7 L824.8,167.8" stroke-width="1.10" />
<path d="M814.6,170.5 L824.9,166.6" stroke-width="1.10" />
<path d="M814.5,168.2 L824.8,164.3" stroke-width="1.10" />
<path d="M814.4,166.9 L824.7,163.0" stroke-width="1.10" />
<path d="M814.1,164.5 L824.3,160.5" stroke-width="1.10" />
<path d="M813.8,163.1 L824.1,159.2" stroke-width="1.10" />
<path d="M813.3,160.5 L823.6,156.6" stroke-width="1.10" />
<path d="M812.9,159.1 L823.2,155.2" stroke-width="1.10" />
<path d="M812.2,156.6 L822.4,152.6" stroke-width="1.10" />
<path d="M811.7,155.2 L822.0,151.2" stroke-width="1.10" />
<path d="M810.7,152.6 L821.0,148.7" stroke-width="1.10" />
<path d="M810.2,151.2 L820.4,147.3" stroke-width="1.10" />
<path d="M809.0,148.8 L819.3,144.8" stroke-width="1.10" />
<path d="M808.4,147.5 L818.6,143.6" stroke-width="1.10" />
<path d="M807.1,145.2 L817.3,141.3" stroke-width="1.10" />
<path d="M806.3,144.0 L816.6,140.1" stroke-width="1.10" />
<path d="M804.9,141.9 L815.2,138.0" stroke-width="1.10" />
<path d="M804.2,140.9 L814.4,136.9" stroke-width="1.10" />
<path d="M802.7,139.0 L813.0,135.1" stroke-width="1.10" />
<path d="M801.9,138.1 L812.2,134.2" stroke-width="1.10" />
<path d="M800.4,136.6 L810.6,132.7" stroke-width="1.10" />
<path d="M799.5,135.9 L809.8,132.0" stroke-width="1.10" />
<path d="M798.0,134.7 L808.3,130.8" stroke-width="1.10" />
<path d="M797.2,134.2 L807.5,130.3" stroke-width="1.10" />
<path d="M795.7,133.4 L806.0,129.5" stroke-width="1.10" />
<path d="M794.9,133.1 L805.2,129.2" stroke-width="1.10" />
<path d="M793.5,132.7 L803.7,128.8" stroke-width="1.10" />
<path d="M792.7,132.6 L803.0,128.7" stroke-width="1.10" />
<path d="M791.4,132.6 L801.7,128.7" stroke-width="1.10" />
<path d="M790.7,132.8 L801.0,128.8" stroke-width="1.10" />
<path d="M789.6,133.2 L799.8,129.2" stroke-width="1.10" />
<path d="M789.0,133.5 L799.2,129.6" stroke-width="1.10" />
<path d="M787.9,134.3 L798.2,130.4" stroke-width="1.10" />
<path d="M787.4,134.9 L797.7,130.9" stroke-width="1.10" />
<path d="M805.7,183.3 L816.0,179.3" stroke-width="1.10" />
<path d="M806.5,183.4 L816.7,179.4" stroke-width="1.10" />
<path d="M807.8,183.4 L818.1,179.4" stroke-width="1.10" />
<path d="M808.5,183.2 L818.7,179.3" stroke-width="1.10" />
<path d="M808.3,180.8 L809.6,182.8 L810.2,182.5 L809.7,180.0 L809.9,179.9 L811.3,181.7 L811.8,181.1 L811.0,178.7 L811.2,178.4 L812.6,179.9 L813.0,179.2 L812.0,176.8 L812.1,176.5 L813.6,177.7 L813.9,176.8 L812.8,174.5 L812.8,174.1 L814.3,174.9 L814.4,173.8 L813.2,171.7 L813.2,171.3 L814.6,171.7 L814.6,170.5 L813.2,168.6 L813.2,168.1 L814.5,168.2 L814.4,166.9 L813.0,165.3 L812.9,164.8 L814.1,164.5 L813.8,163.1 L812.4,161.8 L812.3,161.2 L813.3,160.5 L812.9,159.1 L811.5,158.1 L811.3,157.6 L812.2,156.6 L811.7,155.2 L810.3,154.5 L810.1,154.0 L810.7,152.6 L810.2,151.2 L808.8,151.0 L808.6,150.5 L809.0,148.8 L808.4,147.5 L807.1,147.6 L806.9,147.1 L807.1,145.2 L806.3,144.0 L805.3,144.5 L805.0,144.1 L804.9,141.9 L804.2,140.9 L803.2,141.7 L802.9,141.4 L802.7,139.0 L801.9,138.1 L801.1,139.4 L800.8,139.0 L800.4,136.6 L799.5,135.9 L799.0,137.5 L798.7,137.2 L798.0,134.7 L797.2,134.2 L796.9,136.0 L796.6,135.9 L795.7,133.4 L794.9,133.1 L794.8,135.2 L794.5,135.1 L793.5,132.7 L792.7,132.6 L792.9,134.9 L792.6,134.9 L791.4,132.6 L790.7,132.8 L791.1,135.1 L790.9,135.2 L789.6,133.2 L789.0,133.5 L789.5,136.0 L789.3,136.1 L787.9,134.3 L787.4,134.9 L788.2,137.3 L788.0,137.6 L786.6,136.1 L786.2,136.8 L787.2,139.2 L787.1,139.5 L785.6,138.3 L785.3,139.2 L786.4,141.5 L786.4,141.9 L784.9,141.1 L784.8,142.2 L786.0,144.3 L786.0,144.7 L784.6,144.3 L784.6,145.5 L786.0,147.4 L786.0,147.9 L784.7,147.8 L784.8,149.1 L786.2,150.7 L786.3,151.2 L785.1,151.5 L785.4,152.9 L786.8,154.2 L786.9,154.8 L785.9,155.5 L786.3,156.9 L787.7,157.9 L787.9,158.4 L787.0,159.4 L787.5,160.8 L788.9,161.5 L789.1,162.0 L788.5,163.4 L789.0,164.8 L790.4,165.0 L790.6,165.5 L790.2,167.2 L790.8,168.5 L792.1,168.4 L792.3,168.9 L792.1,170.8 L792.9,172.0 L793.9,171.5 L794.2,171.9 L794.3,174.1 L795.0,175.1 L796.0,174.3 L796.3,174.6 L796.5,177.0 L797.3,177.9 L798.1,176.6 L798.4,177.0 L798.8,179.4 L799.7,180.1 L800.2,178.5 L800.5,178.8 L801.2,181.3 L802.0,181.8 L802.3,180.0 L802.6,180.1 L803.5,182.6 L804.3,182.9 L804.4,180.8 L804.7,180.9 L805.7,183.3 L806.5,183.4 L806.3,181.1 L806.6,181.1 L807.8,183.4 L808.5,183.2 L808.1,180.9 Z" stroke-width="1.56" fill="#fff" />
<ellipse cx="799.6" cy="158.0" rx="11.0" ry="23.9" transform="rotate(-21 799.6 158.0)" stroke-width="1.30" fill="none" />
<path d="M794.5,169.9 L794.2,170.0 L793.9,170.0 L793.5,170.0 L793.1,170.0 L792.7,169.8 L792.4,169.7 L792.0,169.4 L791.5,169.2 L791.1,168.8 L790.7,168.4 L790.3,168.0 L789.9,167.6 L789.5,167.1 L789.2,166.5 L788.8,166.0 L788.4,165.4 L788.1,164.7 L787.8,164.1 L787.5,163.4 L787.2,162.8 L787.0,162.1 L786.7,161.4 L786.5,160.7 L786.4,160.0 L786.2,159.3 L786.1,158.6 L786.1,158.0 L786.0,157.4 L786.0,156.8 L786.0,156.2 L786.1,155.6 L786.2,155.1 L786.3,154.6 L786.4,154.2 L786.6,153.8 L786.8,153.4 L787.0,153.1 L787.3,152.9 L787.6,152.7 L787.9,152.5 L796.3,149.3 L796.6,149.2 L796.9,149.2 L797.3,149.2 L797.7,149.3 L798.0,149.4 L798.4,149.6 L798.8,149.8 L799.3,150.1 L799.7,150.4 L800.1,150.8 L800.5,151.2 L800.9,151.7 L801.3,152.2 L801.6,152.7 L802.0,153.3 L802.4,153.9 L802.7,154.5 L803.0,155.1 L803.3,155.8 L803.6,156.5 L803.8,157.2 L804.1,157.8 L804.3,158.5 L804.4,159.2 L804.6,159.9 L804.7,160.6 L804.7,161.2 L804.8,161.9 L804.8,162.5 L804.8,163.1 L804.7,163.6 L804.6,164.1 L804.5,164.6 L804.4,165.0 L804.2,165.4 L804.0,165.8 L803.8,166.1 L803.5,166.3 L803.2,166.5 L802.9,166.7 Z" stroke-width="1.30" fill="#fff" />
<path d="M795.2,169.5 L803.6,166.3" stroke-width="1.17" />
<path d="M795.9,168.5 L804.3,165.3" stroke-width="1.17" />
<path d="M796.4,165.6 L804.8,162.4" stroke-width="1.17" />
<path d="M796.2,163.7 L804.7,160.4" stroke-width="1.17" />
<path d="M795.2,159.7 L803.6,156.5" stroke-width="1.17" />
<path d="M794.3,157.6 L802.7,154.4" stroke-width="1.17" />
<path d="M792.1,154.5 L800.5,151.2" stroke-width="1.17" />
<path d="M790.8,153.3 L799.3,150.1" stroke-width="1.17" />
<path d="M788.6,152.4 L797.0,149.2" stroke-width="1.17" />
<path d="M787.6,152.7 L796.0,149.4" stroke-width="1.17" />
<path d="M792.1,169.5 L800.5,166.3" stroke-width="1.17" />
<path d="M793.3,170.0 L801.7,166.8" stroke-width="1.17" />
<path d="M793.5,167.2 L795.2,169.6 L795.9,168.6 L794.6,165.6 L794.7,165.1 L796.5,165.7 L796.3,163.7 L794.5,161.9 L794.3,161.2 L795.2,159.7 L794.3,157.6 L792.8,157.8 L792.4,157.3 L792.1,154.4 L790.8,153.2 L790.3,155.4 L790.0,155.2 L788.6,152.3 L787.6,152.6 L788.3,155.7 L788.1,156.0 L786.3,154.4 L786.0,156.0 L787.6,158.6 L787.7,159.2 L786.3,159.7 L786.8,161.8 L788.6,162.7 L788.9,163.3 L788.6,165.7 L789.7,167.4 L790.8,166.1 L791.2,166.5 L792.1,169.6 L793.3,170.1 L793.2,167.3 Z" stroke-width="1.56" fill="#fff" />
<ellipse cx="791.2" cy="161.2" rx="1.7" ry="3.6" transform="rotate(-21 791.2 161.2)" stroke-width="1.30" fill="none" />
<ellipse cx="791.2" cy="161.2" rx="1.0" ry="2.2" transform="rotate(-21 791.2 161.2)" stroke-width="1.04" fill="none" />
<path d="M812.9,326.6 L811.3,327.0 L809.5,327.2 L807.7,327.2 L805.8,326.8 L803.9,326.2 L801.9,325.3 L799.8,324.1 L797.8,322.7 L795.7,321.1 L793.6,319.2 L791.6,317.0 L789.5,314.7 L787.6,312.2 L785.6,309.4 L783.7,306.6 L781.9,303.5 L780.2,300.4 L778.6,297.1 L777.1,293.7 L775.7,290.3 L774.5,286.8 L773.3,283.3 L772.3,279.8 L771.5,276.3 L770.8,272.8 L770.3,269.4 L769.9,266.1 L769.7,262.9 L769.6,259.8 L769.7,256.8 L770.0,254.0 L770.4,251.4 L771.0,249.0 L771.7,246.8 L772.6,244.8 L773.6,243.0 L774.8,241.5 L776.1,240.2 L777.5,239.2 L779.1,238.4 L787.0,235.4 L788.7,234.9 L790.4,234.7 L792.2,234.8 L794.1,235.1 L796.1,235.8 L798.1,236.7 L800.1,237.8 L802.2,239.2 L804.2,240.9 L806.3,242.8 L808.4,244.9 L810.4,247.3 L812.4,249.8 L814.3,252.5 L816.2,255.4 L818.0,258.4 L819.7,261.6 L821.3,264.9 L822.8,268.2 L824.2,271.7 L825.5,275.2 L826.6,278.7 L827.6,282.2 L828.4,285.7 L829.1,289.1 L829.7,292.5 L830.1,295.8 L830.3,299.1 L830.3,302.2 L830.2,305.1 L830.0,307.9 L829.5,310.5 L828.9,313.0 L828.2,315.2 L827.3,317.2 L826.3,319.0 L825.1,320.5 L823.8,321.8 L822.4,322.8 L820.9,323.5 Z" stroke-width="1.30" fill="#fff" />
<ellipse cx="796.0" cy="282.5" rx="21.7" ry="47.2" transform="rotate(-21 796.0 282.5)" stroke-width="1.30" fill="#fff" />
<ellipse cx="796.0" cy="282.5" rx="20.9" ry="45.4" transform="rotate(-21 796.0 282.5)" stroke-width="1.04" fill="none" />
<ellipse cx="796.5" cy="282.3" rx="15.6" ry="34.0" transform="rotate(-21 796.5 282.3)" stroke-width="1.30" fill="none" />
<ellipse cx="796.9" cy="282.1" rx="14.8" ry="32.2" transform="rotate(-21 796.9 282.1)" stroke-width="1.04" fill="none" />
<ellipse cx="797.4" cy="282.0" rx="13.3" ry="29.0" transform="rotate(-21 797.4 282.0)" stroke-width="1.30" fill="none" />
<path d="M814.7,304.5 L815.2,303.6 L815.6,302.7 L815.9,301.6 L816.2,300.5 L816.5,299.3 L816.7,298.0 L816.8,296.7 L816.9,295.3 L816.9,293.8 L816.8,292.3 L816.7,290.8 L816.5,289.2 L816.3,287.6 L816.0,285.9 L815.7,284.3 L815.3,282.6 L814.8,280.9 L814.3,279.3 L813.7,277.6 L813.1,275.9 L812.5,274.3 L811.8,272.7 L811.0,271.1 L810.2,269.5 L809.4,268.0 L808.6,266.5 L807.7,265.1 L806.8,263.8 L805.9,262.5 L804.9,261.3 L803.9,260.1 L803.0,259.0 L802.0,258.0 L801.0,257.1 L800.0,256.3 L799.0,255.6 L798.0,255.0 L797.1,254.4 L796.1,254.0 L795.2,253.6" stroke-width="1.04" fill="none" />
<ellipse cx="810" cy="265.1" rx="1.8199999999999998" ry="3.3800000000000003" transform="rotate(-21 810 265.1)" fill="#111" stroke="none"/>
<ellipse cx="775.6" cy="264.3" rx="1.26" ry="2.3400000000000003" transform="rotate(-21 775.6 264.3)" fill="#111" stroke="none"/>
<ellipse cx="807.9" cy="318.8" rx="1.68" ry="3.12" transform="rotate(-21 807.9 318.8)" fill="#111" stroke="none"/>
<path d="M764.9,326.1 L763.9,326.4 L762.9,326.5 L761.8,326.5 L760.6,326.3 L759.5,325.9 L758.2,325.3 L757.0,324.6 L755.8,323.8 L754.5,322.8 L753.3,321.6 L752.0,320.4 L750.8,318.9 L749.6,317.4 L748.4,315.8 L747.3,314.0 L746.2,312.2 L745.2,310.3 L744.2,308.3 L743.3,306.3 L742.5,304.2 L741.7,302.1 L741.0,300.0 L740.4,297.9 L739.9,295.7 L739.5,293.7 L739.2,291.6 L738.9,289.6 L738.8,287.7 L738.8,285.8 L738.8,284.0 L739.0,282.3 L739.2,280.7 L739.6,279.3 L740.0,277.9 L740.6,276.7 L741.2,275.6 L741.9,274.7 L742.7,274.0 L743.6,273.3 L744.5,272.9 L750.1,270.7 L751.1,270.5 L752.1,270.3 L753.2,270.4 L754.4,270.6 L755.5,271.0 L756.8,271.5 L758.0,272.2 L759.2,273.1 L760.5,274.1 L761.7,275.2 L763.0,276.5 L764.2,277.9 L765.4,279.4 L766.6,281.1 L767.7,282.8 L768.8,284.7 L769.8,286.6 L770.8,288.5 L771.7,290.6 L772.5,292.7 L773.3,294.8 L774.0,296.9 L774.6,299.0 L775.1,301.1 L775.5,303.2 L775.8,305.2 L776.1,307.2 L776.2,309.2 L776.2,311.1 L776.2,312.8 L776.0,314.5 L775.8,316.1 L775.4,317.6 L775.0,318.9 L774.4,320.1 L773.8,321.2 L773.1,322.1 L772.3,322.9 L771.4,323.5 L770.5,324.0 Z" stroke-width="1.30" fill="#fff" />
<ellipse cx="754.7" cy="299.5" rx="13.1" ry="28.5" transform="rotate(-21 754.7 299.5)" stroke-width="1.30" fill="#fff" />
<ellipse cx="754.7" cy="299.5" rx="12.4" ry="27.0" transform="rotate(-21 754.7 299.5)" stroke-width="0.91" fill="none" />
<ellipse cx="754.7" cy="299.5" rx="9.9" ry="21.5" transform="rotate(-21 754.7 299.5)" stroke-width="1.30" fill="none" />
<ellipse cx="755.8" cy="299.1" rx="9.2" ry="20.0" transform="rotate(-21 755.8 299.1)" stroke-width="1.04" fill="none" />
<path d="M769.2,315.1 L769.6,314.6 L770.0,313.9 L770.3,313.2 L770.6,312.4 L770.8,311.6 L771.0,310.7 L771.2,309.7 L771.3,308.7 L771.3,307.6 L771.3,306.5 L771.2,305.4 L771.1,304.2 L771.0,303.0 L770.8,301.7 L770.5,300.5 L770.2,299.2 L769.9,297.9 L769.5,296.7 L769.1,295.4 L768.6,294.1 L768.1,292.9 L767.6,291.7 L767.0,290.5 L766.4,289.3 L765.8,288.2 L765.2,287.1 L764.5,286.0 L763.8,285.0 L763.1,284.1 L762.3,283.2 L761.6,282.4 L760.9,281.6 L760.1,280.9 L759.4,280.3 L758.6,279.7 L757.9,279.3 L757.1,278.9 L756.4,278.6 L755.7,278.3 L755.0,278.2" stroke-width="1.17" fill="none" />
<path d="M696.9,378.4 L695.0,379.0 L693.0,379.2 L690.9,379.1 L688.7,378.7 L686.5,378.0 L684.2,377.0 L681.9,375.6 L679.5,374.0 L677.2,372.1 L674.8,369.9 L672.4,367.5 L670.1,364.8 L667.8,361.9 L665.6,358.8 L663.5,355.5 L661.4,352.0 L659.5,348.4 L657.6,344.7 L655.9,340.8 L654.3,336.9 L652.9,332.9 L651.6,328.9 L650.4,324.9 L649.5,320.9 L648.7,316.9 L648.1,313.0 L647.6,309.2 L647.4,305.6 L647.3,302.0 L647.4,298.6 L647.7,295.4 L648.2,292.4 L648.9,289.7 L649.7,287.1 L650.7,284.8 L651.9,282.8 L653.3,281.1 L654.8,279.6 L656.4,278.4 L658.1,277.6 L685.2,267.2 L685.5,267.1 L685.8,267.0 L686.1,266.9 L686.5,266.8 L686.8,266.7 L687.1,266.7 L687.4,266.6 L687.8,266.5 L688.1,266.5 L688.4,266.5 L688.7,266.4 L689.1,266.4 L689.4,266.4 L689.8,266.4 L690.1,266.4 L690.5,266.4 L690.8,266.5 L691.2,266.5 L691.5,266.6 L691.9,266.6 L692.2,266.7 L692.6,266.7 L693.0,266.8 L693.3,266.9 L693.7,267.0 L694.1,267.1 L694.4,267.2 L694.8,267.4 L695.2,267.5 L695.6,267.6 L695.9,267.8 L696.3,267.9 L696.7,268.1 L697.1,268.3 L697.5,268.5 L697.9,268.6 L698.2,268.8 L698.6,269.1 L699.0,269.3 L699.4,269.5 L708.2,269.8 L709.6,270.7 L711.1,271.8 L712.6,272.9 L714.0,274.2 L715.5,275.5 L716.9,277.0 L718.4,278.6 L719.8,280.3 L721.2,282.0 L722.6,283.9 L724.0,285.8 L725.3,287.9 L726.6,290.0 L727.9,292.1 L729.1,294.3 L730.3,296.6 L731.4,298.9 L732.5,301.3 L733.5,303.7 L734.4,306.1 L735.4,308.6 L736.2,311.1 L737.0,313.5 L737.7,316.0 L738.4,318.5 L738.9,321.0 L739.4,323.4 L739.9,325.8 L740.2,328.2 L740.5,330.6 L740.7,332.9 L740.9,335.2 L740.9,337.4 L740.9,339.5 L740.8,341.6 L740.7,343.6 L740.4,345.5 L740.1,347.3 L739.7,349.0 L739.2,350.7 L732.9,356.8 L732.8,357.2 L732.6,357.7 L732.5,358.1 L732.3,358.5 L732.2,358.9 L732.0,359.3 L731.9,359.7 L731.7,360.0 L731.5,360.4 L731.3,360.8 L731.1,361.1 L731.0,361.5 L730.8,361.8 L730.6,362.2 L730.4,362.5 L730.1,362.8 L729.9,363.1 L729.7,363.4 L729.5,363.7 L729.3,364.0 L729.0,364.3 L728.8,364.5 L728.6,364.8 L728.3,365.1 L728.1,365.3 L727.8,365.6 L727.6,365.8 L727.3,366.0 L727.1,366.2 L726.8,366.4 L726.5,366.6 L726.2,366.8 L726.0,367.0 L725.7,367.2 L725.4,367.3 L725.1,367.5 L724.8,367.6 L724.5,367.8 L724.2,367.9 L723.9,368.0 Z" stroke-width="1.43" fill="#fff" />
<path d="M733.7,353.8 L734.1,352.0 L734.3,350.2 L734.6,348.2 L734.7,346.2 L734.8,344.2 L734.8,342.0 L734.7,339.8 L734.6,337.6 L734.4,335.3 L734.1,333.0 L733.7,330.6 L733.3,328.2 L732.8,325.8 L732.3,323.4 L731.7,320.9 L731.0,318.5 L730.3,316.0 L729.5,313.6 L728.7,311.1 L727.8,308.7 L726.8,306.3 L725.8,303.9 L724.7,301.6 L723.6,299.2 L722.5,297.0 L721.3,294.8 L720.1,292.6 L718.8,290.5 L717.5,288.4 L716.2,286.4 L714.9,284.5 L713.5,282.7 L712.1,280.9 L710.7,279.3 L709.2,277.7 L707.8,276.2 L706.4,274.8 L704.9,273.5 L703.5,272.3 L702.0,271.2" stroke-width="1.04" fill="none" />
<path d="M699.7,377.3 L701.4,376.5 L703.0,375.3 L704.5,373.9 L705.9,372.1 L707.1,370.1 L708.1,367.8 L708.9,365.3 L709.6,362.5 L710.1,359.5 L710.4,356.3 L710.5,352.9 L710.4,349.4 L710.2,345.7 L709.7,341.9 L709.1,338.0 L708.3,334.0 L707.4,330.0 L706.2,326.0 L704.9,322.0 L703.5,318.0 L701.9,314.1 L700.2,310.2 L698.3,306.5 L696.4,302.9 L694.3,299.4 L692.2,296.1 L690.0,293.0 L687.7,290.1 L685.4,287.4 L683.0,285.0 L680.6,282.8 L678.3,280.9 L675.9,279.3 L673.6,278.0 L671.3,276.9 L669.1,276.2 L666.9,275.8 L664.8,275.7 L662.8,276.0 L660.9,276.5" stroke-width="1.04" fill="none" />
<path d="M672.8,273.2 L679.1,270.8 L675.6,271.0 L669.3,273.5 Z" stroke-width="1.30" fill="#fff" />
<path d="M679.7,275.1 L686.0,272.7 L682.1,271.3 L675.7,273.7 Z" stroke-width="1.30" fill="#fff" />
<path d="M687.0,280.0 L693.3,277.6 L689.2,274.5 L682.9,276.9 Z" stroke-width="1.30" fill="#fff" />
<path d="M694.3,287.5 L700.6,285.0 L696.6,280.6 L690.2,283.0 Z" stroke-width="1.30" fill="#fff" />
<path d="M701.1,297.2 L707.5,294.7 L703.7,289.1 L697.4,291.5 Z" stroke-width="1.30" fill="#fff" />
<path d="M707.2,308.5 L713.5,306.0 L710.3,299.6 L703.9,302.0 Z" stroke-width="1.30" fill="#fff" />
<path d="M714.1,327.9 L720.4,325.4 L718.4,318.4 L712.0,320.9 Z" stroke-width="1.30" fill="#fff" />
<path d="M716.5,340.1 L722.8,337.7 L721.7,330.9 L715.4,333.3 Z" stroke-width="1.30" fill="#fff" />
<path d="M716.2,359.9 L722.6,357.4 L723.3,352.1 L717.0,354.5 Z" stroke-width="1.30" fill="#fff" />
<path d="M714.1,366.8 L720.4,364.3 L722.0,360.0 L715.6,362.5 Z" stroke-width="1.30" fill="#fff" />
<path d="M711.0,371.5 L717.4,369.0 L719.6,365.9 L713.3,368.3 Z" stroke-width="1.30" fill="#fff" />
<path d="M707.5,374.2 L713.9,371.8 L716.7,369.8 L710.3,372.2 Z" stroke-width="1.30" fill="#fff" />
<ellipse cx="677.5" cy="328.0" rx="24.8" ry="54.0" transform="rotate(-21 677.5 328.0)" stroke-width="1.56" fill="#fff" />
<ellipse cx="677.5" cy="328.0" rx="23.8" ry="51.8" transform="rotate(-21 677.5 328.0)" stroke-width="1.17" fill="none" />
<path d="M657.9,282.4 L656.4,283.4 L655.2,284.7 L654.0,286.2 L652.9,288.0 L652.0,289.9 L651.3,292.1 L650.6,294.5 L650.2,297.0 L649.8,299.8 L649.7,302.6 L649.7,305.7 L649.8,308.8 L650.1,312.1 L650.5,315.4 L651.1,318.8 L651.8,322.3 L652.7,325.7 L653.7,329.2 L654.8,332.7 L656.1,336.2 L657.5,339.6 L659.0,343.0 L660.6,346.3 L662.3,349.4 L664.0,352.5 L665.9,355.4 L667.8,358.2 L669.7,360.8 L671.8,363.2 L673.8,365.5 L675.8,367.5 L677.9,369.3 L680.0,370.9 L682.0,372.2 L684.0,373.3 L686.0,374.2 L688.0,374.8 L689.9,375.1 L691.7,375.2 L693.4,375.0" stroke-width="1.04" fill="none" />
<ellipse cx="682.8" cy="300.8" rx="3.9" ry="6.5" transform="rotate(-21 682.8 300.8)" stroke-width="1.30" fill="#fff" />
<path d="M680.8,295.5 L680.6,295.7 L680.5,296.0 L680.4,296.2 L680.3,296.4 L680.2,296.7 L680.1,297.0 L680.0,297.3 L680.0,297.6 L680.0,297.9 L679.9,298.2 L679.9,298.5 L679.9,298.9 L680.0,299.2 L680.0,299.6 L680.1,299.9 L680.1,300.3 L680.2,300.6 L680.3,301.0 L680.4,301.3 L680.6,301.7 L680.7,302.0 L680.8,302.3 L681.0,302.7 L681.2,303.0 L681.4,303.3 L681.6,303.6 L681.8,303.9 L682.0,304.1 L682.2,304.4 L682.4,304.6 L682.6,304.9 L682.9,305.1 L683.1,305.3 L683.3,305.4 L683.6,305.6 L683.8,305.7 L684.1,305.9 L684.3,305.9 L684.6,306.0 L684.8,306.1" stroke-width="1.04" fill="none" />
<path d="M704.7,339.3 L704.2,338.7 L703.6,338.2 L703.1,337.7 L702.5,337.3 L701.9,337.0 L701.3,336.7 L700.8,336.5 L700.2,336.4 L699.7,336.4 L699.1,336.4 L698.6,336.6 L698.1,336.8 L697.7,337.0 L697.2,337.4 L696.9,337.8 L696.5,338.2 L696.2,338.8 L696.0,339.3 L695.8,340.0 L695.6,340.7 L695.5,341.4 L695.5,342.2 L695.5,342.9 L695.6,343.8 L695.7,344.6 L695.8,345.4 L696.0,346.2 L696.3,347.1 L696.6,347.9 L697.0,348.7 L697.4,349.4 L697.8,350.2 L698.3,350.9 L698.7,351.5 L699.3,352.1 L699.8,352.7 L700.4,353.2 L700.9,353.6 L701.5,353.9 L702.1,354.2" stroke-width="1.30" fill="none" />
<path d="M700.9,336.4 L700.5,336.4 L700.2,336.5 L699.8,336.6 L699.5,336.8 L699.1,337.0 L698.9,337.3 L698.6,337.6 L698.3,337.9 L698.1,338.3 L697.9,338.7 L697.7,339.1 L697.6,339.5 L697.4,340.0 L697.3,340.5 L697.3,341.0 L697.2,341.6 L697.2,342.2 L697.2,342.7 L697.3,343.3 L697.4,343.9 L697.5,344.5 L697.6,345.1 L697.8,345.7 L697.9,346.3 L698.2,346.9 L698.4,347.5 L698.7,348.0 L698.9,348.6 L699.2,349.1 L699.6,349.7 L699.9,350.1 L700.3,350.6 L700.6,351.1 L701.0,351.5 L701.4,351.8 L701.8,352.2 L702.2,352.5 L702.6,352.8 L703.1,353.0 L703.5,353.2" stroke-width="1.04" fill="none" />
<path d="M663.7,357.5 L663.9,357.6 L664.2,357.7 L664.5,357.7 L664.7,357.7 L665.0,357.7 L665.2,357.7 L665.4,357.7 L665.7,357.6 L665.9,357.5 L666.1,357.4 L666.3,357.2 L666.4,357.1 L666.6,356.9 L666.8,356.7 L666.9,356.5 L667.0,356.2 L667.2,355.9 L667.3,355.7 L667.3,355.4 L667.4,355.0 L667.4,354.7 L667.5,354.4 L667.5,354.0 L667.5,353.7 L667.5,353.3 L667.4,353.0 L667.4,352.6 L667.3,352.2 L667.2,351.8 L667.1,351.5 L667.0,351.1 L666.9,350.7 L666.7,350.3 L666.6,350.0 L666.4,349.6 L666.2,349.3 L666.0,349.0 L665.8,348.7 L665.6,348.4 L665.3,348.1" stroke-width="1.17" fill="none" />
<path d="M689.8,340.3 L689.2,340.4 L688.6,340.5 L688.0,340.5 L687.4,340.4 L686.8,340.1 L686.1,339.9 L685.5,339.5 L684.8,339.0 L684.1,338.5 L683.4,337.8 L682.7,337.1 L682.1,336.4 L681.4,335.5 L680.8,334.6 L680.2,333.7 L679.6,332.7 L679.0,331.7 L678.5,330.6 L678.0,329.5 L677.5,328.4 L677.1,327.2 L676.8,326.1 L676.4,324.9 L676.2,323.8 L675.9,322.6 L675.7,321.5 L675.6,320.4 L675.5,319.4 L675.5,318.3 L675.6,317.4 L675.7,316.5 L675.8,315.6 L676.0,314.8 L676.2,314.1 L676.5,313.4 L676.9,312.8 L677.2,312.3 L677.7,311.9 L678.1,311.6 L678.6,311.3 L685.2,308.8 L685.7,308.7 L686.3,308.6 L686.9,308.6 L687.5,308.7 L688.2,308.9 L688.8,309.2 L689.5,309.6 L690.2,310.1 L690.8,310.6 L691.5,311.3 L692.2,312.0 L692.9,312.7 L693.5,313.6 L694.1,314.4 L694.8,315.4 L695.3,316.4 L695.9,317.4 L696.4,318.5 L696.9,319.6 L697.4,320.7 L697.8,321.9 L698.2,323.0 L698.5,324.2 L698.8,325.3 L699.0,326.5 L699.2,327.6 L699.3,328.7 L699.4,329.7 L699.4,330.7 L699.4,331.7 L699.3,332.6 L699.1,333.5 L698.9,334.3 L698.7,335.0 L698.4,335.7 L698.1,336.3 L697.7,336.8 L697.3,337.2 L696.8,337.5 L696.3,337.8 Z" stroke-width="1.30" fill="#222" />
<ellipse cx="684.2" cy="325.8" rx="7.1" ry="15.5" transform="rotate(-21 684.2 325.8)" stroke-width="1.30" fill="#222" />
<path d="M690.3,340.0 L696.8,337.5" stroke-width="0.91" stroke="#bbb"/>
<path d="M691.5,338.8 L698.1,336.3" stroke-width="0.91" stroke="#bbb"/>
<path d="M692.4,336.9 L698.9,334.4" stroke-width="0.91" stroke="#bbb"/>
<path d="M692.8,334.4 L699.4,331.9" stroke-width="0.91" stroke="#bbb"/>
<path d="M692.8,331.5 L699.3,329.0" stroke-width="0.91" stroke="#bbb"/>
<path d="M692.4,328.3 L698.9,325.8" stroke-width="0.91" stroke="#bbb"/>
<path d="M691.5,325.0 L698.0,322.5" stroke-width="0.91" stroke="#bbb"/>
<path d="M690.2,321.7 L696.8,319.2" stroke-width="0.91" stroke="#bbb"/>
<path d="M688.7,318.7 L695.2,316.2" stroke-width="0.91" stroke="#bbb"/>
<path d="M686.9,316.0 L693.4,313.5" stroke-width="0.91" stroke="#bbb"/>
<path d="M685.0,313.8 L691.5,311.3" stroke-width="0.91" stroke="#bbb"/>
<path d="M683.0,312.2 L689.6,309.7" stroke-width="0.91" stroke="#bbb"/>
<path d="M681.1,311.3 L687.7,308.8" stroke-width="0.91" stroke="#bbb"/>
<path d="M679.4,311.1 L685.9,308.6" stroke-width="0.91" stroke="#bbb"/>
<ellipse cx="684.2" cy="325.8" rx="7.1" ry="15.5" transform="rotate(-21 684.2 325.8)" stroke-width="1.30" fill="#fff" />
<ellipse cx="684.2" cy="325.8" rx="5.8" ry="12.5" transform="rotate(-21 684.2 325.8)" stroke-width="1.17" fill="#fff" />
<ellipse cx="684.2" cy="325.8" rx="4.6" ry="10.0" transform="rotate(-21 684.2 325.8)" stroke-width="1.30" fill="#fff" />
<path d="M690.5,333.2 L690.7,333.0 L690.9,332.7 L691.1,332.4 L691.3,332.0 L691.4,331.7 L691.5,331.2 L691.6,330.8 L691.7,330.3 L691.7,329.8 L691.7,329.3 L691.7,328.8 L691.7,328.2 L691.6,327.6 L691.5,327.0 L691.4,326.4 L691.3,325.8 L691.1,325.2 L691.0,324.6 L690.8,324.0 L690.5,323.4 L690.3,322.8 L690.0,322.2 L689.7,321.6 L689.5,321.0 L689.1,320.5 L688.8,320.0 L688.5,319.5 L688.2,319.0 L687.8,318.6 L687.5,318.1 L687.1,317.8 L686.7,317.4 L686.4,317.1 L686.0,316.8 L685.6,316.6 L685.3,316.4 L684.9,316.3 L684.6,316.2 L684.3,316.1 L683.9,316.1" stroke-width="1.04" fill="none" />
<path d="M688.5,334.7 L685.2,334.7" stroke-width="1.04" fill="none" />
<path d="M526.0,254.5 L528.5,251.5 L533.0,251.8 L540.0,258.0 L543.5,258.5 L546.0,262.0 L545.0,265.0 L563.5,287.0 L567.0,287.0 L569.5,291.0 L568.0,294.0 L582.0,315.5 L588.0,338.0 L591.5,341.5 L593.0,346.0 L590.5,349.0 L592.3,375.5 L593.0,394.0 L596.5,397.0 L597.5,401.5 L594.5,404.5 L590.2,416.5 L588.3,432.0 L586.5,438.0 L583.0,441.0 L580.0,439.5 L578.5,436.0 L573.0,432.3 L566.0,433.5 L560.0,434.3 L557.0,435.5 L552.0,434.0 L547.5,429.5 L546.0,425.0 L541.0,416.0 L536.1,408.4 L531.0,403.0 L527.0,400.8 L523.0,399.5 L519.5,397.0 L518.0,393.0 L515.0,389.0 L510.5,381.0 L508.0,372.0 L507.5,361.0 L505.5,358.0 L503.5,355.5 L504.0,351.0 L507.0,349.0 L508.0,339.0 L515.0,328.5 L513.0,325.0 L515.0,321.0 L518.5,320.5 L520.0,322.0 L534.0,314.5 L532.5,311.5 L534.5,308.0 L537.0,308.0 L534.0,298.6 L529.0,277.0 L526.5,276.5 L525.0,272.5 L527.0,270.0 Z" stroke-width="1.30" fill="#fff" />
<path d="M528.8,256.0 L530.5,254.2 L532.5,254.5 L539.0,260.5 L562.0,289.0 L565.5,294.5 L579.5,316.5 L585.5,338.5 L588.0,347.0 L590.0,375.5 L590.8,394.5 L591.0,404.0 L587.6,416.5 L585.8,431.0 L583.5,434.8 L581.0,433.0 L574.0,429.6 L566.0,430.8 L558.5,431.6 L554.0,428.5 L549.5,422.5 L545.0,414.5 L540.0,407.5 L536.5,403.5 L533.0,399.0 L531.5,395.0 L530.0,383.0 L526.0,366.0 L521.0,357.8 L512.0,357.0 L509.5,351.5 L510.5,339.8 L517.0,330.0 L520.5,325.0 L535.5,317.5 L539.0,311.0 L536.5,298.2 L531.5,276.5 L529.5,271.0 Z" stroke-width="1.17" fill="#fff" />
<ellipse cx="542.8" cy="261.3" rx="1.6" ry="2.5" transform="rotate(-21 542.8 261.3)" fill="#fff" stroke-width="1.17"/>
<ellipse cx="566.5" cy="290.3" rx="1.6" ry="2.5" transform="rotate(-21 566.5 290.3)" fill="#fff" stroke-width="1.17"/>
<ellipse cx="590.3" cy="345.3" rx="1.6" ry="2.5" transform="rotate(-21 590.3 345.3)" fill="#fff" stroke-width="1.17"/>
<ellipse cx="594.7" cy="400.5" rx="1.6" ry="2.5" transform="rotate(-21 594.7 400.5)" fill="#fff" stroke-width="1.17"/>
<ellipse cx="583" cy="438" rx="1.6" ry="2.5" transform="rotate(-21 583 438)" fill="#fff" stroke-width="1.17"/>
<ellipse cx="555.6" cy="431.4" rx="1.6" ry="2.5" transform="rotate(-21 555.6 431.4)" fill="#fff" stroke-width="1.17"/>
<ellipse cx="550.3" cy="428" rx="1.6" ry="2.5" transform="rotate(-21 550.3 428)" fill="#fff" stroke-width="1.17"/>
<ellipse cx="521.3" cy="395.5" rx="1.6" ry="2.5" transform="rotate(-21 521.3 395.5)" fill="#fff" stroke-width="1.17"/>
<ellipse cx="507" cy="354" rx="1.6" ry="2.5" transform="rotate(-21 507 354)" fill="#fff" stroke-width="1.17"/>
<ellipse cx="516.2" cy="323.5" rx="1.6" ry="2.5" transform="rotate(-21 516.2 323.5)" fill="#fff" stroke-width="1.17"/>
<ellipse cx="535.3" cy="311.3" rx="1.6" ry="2.5" transform="rotate(-21 535.3 311.3)" fill="#fff" stroke-width="1.17"/>
<ellipse cx="527.3" cy="273.5" rx="1.6" ry="2.5" transform="rotate(-21 527.3 273.5)" fill="#fff" stroke-width="1.17"/>
<path d="M513.3,365.8 Q513.6,363 517,363 L521.3,362.8 Q523.6,364 524,368 L524.4,374 Q523,377 520.6,375.6 L518.6,370.6 Q515.5,369.6 513.3,365.8 Z" stroke-width="1.17" fill="none" />
<rect class="s" x="511.8" y="382.5" width="20" height="3.6" rx="1.8" transform="rotate(64 521.8 384.3)" fill="#fff" stroke-width="1.17"/>
<path d="M628.3,326.6 L638.1,322.9 L638.1,322.9 L638.2,322.8 L638.4,322.7 L638.5,322.6 L638.6,322.5 L638.7,322.4 L638.8,322.2 L638.9,322.0 L639.0,321.9 L639.0,321.7 L639.1,321.5 L639.1,321.3 L639.1,321.0 L639.1,320.8 L639.1,320.6 L639.1,320.4 L639.1,320.1 L639.0,319.9 L638.9,319.6 L638.9,319.4 L638.8,319.2 L638.7,318.9 L638.6,318.7 L638.5,318.5 L638.3,318.3 L638.2,318.1 L638.1,317.9 L637.9,317.7 L637.8,317.5 L637.6,317.4 L637.4,317.3 L637.3,317.1 L637.1,317.0 L636.9,316.9 L636.8,316.9 L636.6,316.8 L636.4,316.8 L636.3,316.8 L636.1,316.8 L635.9,316.8 L635.8,316.9 L626.0,320.6" stroke-width="1.30" fill="#fff" />
<path d="M624.2,331.4 L623.9,331.5 L623.6,331.5 L623.3,331.5 L623.0,331.5 L622.7,331.5 L622.4,331.4 L622.0,331.3 L621.7,331.1 L621.4,330.9 L621.0,330.7 L620.7,330.4 L620.4,330.1 L620.1,329.8 L619.8,329.5 L619.5,329.1 L619.3,328.7 L619.0,328.3 L618.8,327.9 L618.6,327.4 L618.4,327.0 L618.2,326.5 L618.1,326.1 L618.0,325.6 L617.9,325.1 L617.8,324.7 L617.8,324.2 L617.8,323.8 L617.8,323.3 L617.8,322.9 L617.9,322.5 L618.0,322.1 L618.1,321.7 L618.2,321.4 L618.4,321.1 L618.6,320.8 L618.8,320.5 L619.0,320.3 L619.2,320.1 L619.5,319.9 L619.8,319.8 L624.9,317.8 L625.2,317.8 L625.5,317.7 L625.8,317.7 L626.1,317.7 L626.5,317.8 L626.8,317.8 L627.1,318.0 L627.4,318.1 L627.8,318.3 L628.1,318.6 L628.4,318.8 L628.7,319.1 L629.0,319.4 L629.3,319.8 L629.6,320.1 L629.9,320.5 L630.1,320.9 L630.3,321.4 L630.5,321.8 L630.7,322.3 L630.9,322.7 L631.0,323.2 L631.1,323.6 L631.2,324.1 L631.3,324.6 L631.3,325.0 L631.4,325.5 L631.3,325.9 L631.3,326.3 L631.2,326.7 L631.2,327.1 L631.0,327.5 L630.9,327.8 L630.7,328.2 L630.6,328.4 L630.4,328.7 L630.1,328.9 L629.9,329.1 L629.6,329.3 L629.4,329.4 Z" stroke-width="1.30" fill="#fff" />
<ellipse cx="622.0" cy="325.6" rx="3.8" ry="6.2" transform="rotate(-21 622.0 325.6)" stroke-width="1.30" fill="#fff" />
<ellipse cx="622.0" cy="325.6" rx="3.8" ry="6.2" transform="rotate(-21 622.0 325.6)" stroke-width="1.56" fill="none" />
<ellipse cx="622.0" cy="325.6" rx="2.1" ry="3.4" transform="rotate(-21 622.0 325.6)" stroke-width="1.30" fill="#666" />
<path d="M629.3,375.6 L639.1,371.9 L639.1,371.9 L639.2,371.8 L639.4,371.7 L639.5,371.6 L639.6,371.5 L639.7,371.4 L639.8,371.2 L639.9,371.0 L640.0,370.9 L640.0,370.7 L640.1,370.5 L640.1,370.3 L640.1,370.0 L640.1,369.8 L640.1,369.6 L640.1,369.4 L640.1,369.1 L640.0,368.9 L639.9,368.6 L639.9,368.4 L639.8,368.2 L639.7,367.9 L639.6,367.7 L639.5,367.5 L639.3,367.3 L639.2,367.1 L639.1,366.9 L638.9,366.7 L638.8,366.5 L638.6,366.4 L638.4,366.3 L638.3,366.1 L638.1,366.0 L637.9,365.9 L637.8,365.9 L637.6,365.8 L637.4,365.8 L637.3,365.8 L637.1,365.8 L636.9,365.8 L636.8,365.9 L627.0,369.6" stroke-width="1.30" fill="#fff" />
<path d="M625.2,380.4 L624.9,380.5 L624.6,380.5 L624.3,380.5 L624.0,380.5 L623.7,380.5 L623.4,380.4 L623.0,380.3 L622.7,380.1 L622.4,379.9 L622.0,379.7 L621.7,379.4 L621.4,379.1 L621.1,378.8 L620.8,378.5 L620.5,378.1 L620.3,377.7 L620.0,377.3 L619.8,376.9 L619.6,376.4 L619.4,376.0 L619.2,375.5 L619.1,375.1 L619.0,374.6 L618.9,374.1 L618.8,373.7 L618.8,373.2 L618.8,372.8 L618.8,372.3 L618.8,371.9 L618.9,371.5 L619.0,371.1 L619.1,370.7 L619.2,370.4 L619.4,370.1 L619.6,369.8 L619.8,369.5 L620.0,369.3 L620.2,369.1 L620.5,368.9 L620.8,368.8 L625.9,366.8 L626.2,366.8 L626.5,366.7 L626.8,366.7 L627.1,366.7 L627.5,366.8 L627.8,366.8 L628.1,367.0 L628.4,367.1 L628.8,367.3 L629.1,367.6 L629.4,367.8 L629.7,368.1 L630.0,368.4 L630.3,368.8 L630.6,369.1 L630.9,369.5 L631.1,369.9 L631.3,370.4 L631.5,370.8 L631.7,371.3 L631.9,371.7 L632.0,372.2 L632.1,372.6 L632.2,373.1 L632.3,373.6 L632.3,374.0 L632.4,374.5 L632.3,374.9 L632.3,375.3 L632.2,375.7 L632.2,376.1 L632.0,376.5 L631.9,376.8 L631.7,377.2 L631.6,377.4 L631.4,377.7 L631.1,377.9 L630.9,378.1 L630.6,378.3 L630.4,378.4 Z" stroke-width="1.30" fill="#fff" />
<ellipse cx="623.0" cy="374.6" rx="3.8" ry="6.2" transform="rotate(-21 623.0 374.6)" stroke-width="1.30" fill="#fff" />
<ellipse cx="623.0" cy="374.6" rx="3.8" ry="6.2" transform="rotate(-21 623.0 374.6)" stroke-width="1.56" fill="none" />
<ellipse cx="623.0" cy="374.6" rx="2.1" ry="3.4" transform="rotate(-21 623.0 374.6)" stroke-width="1.30" fill="#666" />
<path d="M639.0,395.6 L648.8,391.9 L648.8,391.9 L648.9,391.8 L649.1,391.7 L649.2,391.6 L649.3,391.5 L649.4,391.4 L649.5,391.2 L649.6,391.0 L649.7,390.9 L649.7,390.7 L649.8,390.5 L649.8,390.3 L649.8,390.0 L649.8,389.8 L649.8,389.6 L649.8,389.4 L649.8,389.1 L649.7,388.9 L649.6,388.6 L649.6,388.4 L649.5,388.2 L649.4,387.9 L649.3,387.7 L649.2,387.5 L649.0,387.3 L648.9,387.1 L648.8,386.9 L648.6,386.7 L648.5,386.5 L648.3,386.4 L648.1,386.3 L648.0,386.1 L647.8,386.0 L647.6,385.9 L647.5,385.9 L647.3,385.8 L647.1,385.8 L647.0,385.8 L646.8,385.8 L646.6,385.8 L646.5,385.9 L636.7,389.6" stroke-width="1.30" fill="#fff" />
<path d="M634.9,400.4 L634.6,400.5 L634.3,400.5 L634.0,400.5 L633.7,400.5 L633.4,400.5 L633.1,400.4 L632.7,400.3 L632.4,400.1 L632.1,399.9 L631.7,399.7 L631.4,399.4 L631.1,399.1 L630.8,398.8 L630.5,398.5 L630.2,398.1 L630.0,397.7 L629.7,397.3 L629.5,396.9 L629.3,396.4 L629.1,396.0 L628.9,395.5 L628.8,395.1 L628.7,394.6 L628.6,394.1 L628.5,393.7 L628.5,393.2 L628.5,392.8 L628.5,392.3 L628.5,391.9 L628.6,391.5 L628.7,391.1 L628.8,390.7 L628.9,390.4 L629.1,390.1 L629.3,389.8 L629.5,389.5 L629.7,389.3 L629.9,389.1 L630.2,388.9 L630.5,388.8 L635.6,386.8 L635.9,386.8 L636.2,386.7 L636.5,386.7 L636.8,386.7 L637.2,386.8 L637.5,386.8 L637.8,387.0 L638.1,387.1 L638.5,387.3 L638.8,387.6 L639.1,387.8 L639.4,388.1 L639.7,388.4 L640.0,388.8 L640.3,389.1 L640.6,389.5 L640.8,389.9 L641.0,390.4 L641.2,390.8 L641.4,391.3 L641.6,391.7 L641.7,392.2 L641.8,392.6 L641.9,393.1 L642.0,393.6 L642.0,394.0 L642.1,394.5 L642.0,394.9 L642.0,395.3 L641.9,395.7 L641.9,396.1 L641.7,396.5 L641.6,396.8 L641.4,397.2 L641.3,397.4 L641.1,397.7 L640.8,397.9 L640.6,398.1 L640.3,398.3 L640.1,398.4 Z" stroke-width="1.30" fill="#fff" />
<ellipse cx="632.7" cy="394.6" rx="3.8" ry="6.2" transform="rotate(-21 632.7 394.6)" stroke-width="1.30" fill="#fff" />
<ellipse cx="632.7" cy="394.6" rx="3.8" ry="6.2" transform="rotate(-21 632.7 394.6)" stroke-width="1.56" fill="none" />
<ellipse cx="632.7" cy="394.6" rx="2.1" ry="3.4" transform="rotate(-21 632.7 394.6)" stroke-width="1.30" fill="#666" />
<ellipse cx="644.8" cy="345.9" rx="7.7" ry="12.4" transform="rotate(-21 644.8 345.9)" stroke-width="1.43" fill="#fff" />
<ellipse cx="644.8" cy="345.9" rx="4.0" ry="7.6" transform="rotate(-21 644.8 345.9)" stroke-width="1.30" fill="#fff" />
<path d="M642.6,339.2 L642.4,339.3 L642.2,339.6 L642.0,339.8 L641.9,340.1 L641.8,340.4 L641.6,340.7 L641.5,341.1 L641.5,341.4 L641.4,341.8 L641.4,342.2 L641.4,342.7 L641.4,343.1 L641.4,343.6 L641.5,344.0 L641.6,344.5 L641.7,345.0 L641.8,345.5 L641.9,345.9 L642.1,346.4 L642.2,346.9 L642.4,347.3 L642.6,347.8 L642.9,348.3 L643.1,348.7 L643.3,349.1 L643.6,349.5 L643.9,349.9 L644.1,350.2 L644.4,350.6 L644.7,350.9 L645.0,351.2 L645.3,351.4 L645.6,351.7 L645.9,351.9 L646.2,352.0 L646.5,352.2 L646.8,352.3 L647.1,352.3 L647.4,352.4 L647.7,352.4" stroke-width="1.04" fill="none" />
<path d="M611.5,364.1 L634.8,355.1 L634.8,355.1 L635.1,355.0 L635.3,354.8 L635.6,354.7 L635.8,354.5 L635.9,354.2 L636.1,354.0 L636.2,353.7 L636.4,353.4 L636.5,353.0 L636.6,352.7 L636.6,352.3 L636.6,351.9 L636.7,351.5 L636.6,351.1 L636.6,350.7 L636.5,350.3 L636.5,349.9 L636.4,349.5 L636.2,349.0 L636.1,348.6 L635.9,348.2 L635.7,347.8 L635.5,347.4 L635.3,347.1 L635.1,346.7 L634.8,346.4 L634.6,346.1 L634.3,345.8 L634.0,345.5 L633.7,345.3 L633.4,345.1 L633.1,344.9 L632.8,344.8 L632.5,344.7 L632.2,344.6 L631.9,344.5 L631.6,344.5 L631.4,344.5 L631.1,344.6 L630.8,344.6 L607.5,353.6" stroke-width="1.30" fill="#fff" />
<path d="M603.3,371.9 L602.8,372.1 L602.3,372.2 L601.8,372.2 L601.3,372.2 L600.8,372.1 L600.3,371.9 L599.7,371.7 L599.2,371.5 L598.7,371.1 L598.1,370.8 L597.6,370.4 L597.1,369.9 L596.6,369.4 L596.2,368.8 L595.7,368.2 L595.3,367.6 L594.9,366.9 L594.5,366.3 L594.2,365.5 L593.9,364.8 L593.6,364.1 L593.4,363.3 L593.2,362.6 L593.1,361.8 L593.0,361.1 L592.9,360.3 L592.9,359.6 L592.9,358.9 L593.0,358.2 L593.1,357.6 L593.2,356.9 L593.4,356.4 L593.6,355.8 L593.9,355.3 L594.2,354.8 L594.5,354.4 L594.9,354.0 L595.3,353.7 L595.7,353.5 L596.1,353.3 L605.9,349.5 L606.4,349.4 L606.9,349.3 L607.4,349.2 L607.9,349.3 L608.4,349.4 L608.9,349.5 L609.5,349.7 L610.0,350.0 L610.5,350.3 L611.1,350.7 L611.6,351.1 L612.1,351.6 L612.6,352.1 L613.0,352.6 L613.5,353.2 L613.9,353.8 L614.3,354.5 L614.7,355.2 L615.0,355.9 L615.3,356.6 L615.6,357.4 L615.8,358.1 L616.0,358.9 L616.1,359.6 L616.2,360.4 L616.3,361.1 L616.3,361.8 L616.3,362.5 L616.2,363.2 L616.1,363.9 L616.0,364.5 L615.8,365.1 L615.6,365.6 L615.3,366.1 L615.0,366.6 L614.7,367.0 L614.3,367.4 L613.9,367.7 L613.5,368.0 L613.1,368.2 Z" stroke-width="1.30" fill="#fff" />
<ellipse cx="599.7" cy="362.6" rx="6.2" ry="10.0" transform="rotate(-21 599.7 362.6)" stroke-width="1.30" fill="#fff" />
<ellipse cx="599.7" cy="362.6" rx="6.2" ry="10.0" transform="rotate(-21 599.7 362.6)" stroke-width="1.56" fill="none" />
<ellipse cx="599.7" cy="362.6" rx="4.2" ry="6.8" transform="rotate(-21 599.7 362.6)" stroke-width="1.30" fill="#fff" />
<ellipse cx="601.1" cy="362.1" rx="2.9" ry="4.6" transform="rotate(-21 601.1 362.1)" stroke-width="1.17" fill="#fff" />
<path d="M603.8,367.3 L603.9,365.3" stroke-width="1.04" />
<path d="M599.6,356.3 L601.0,357.8" stroke-width="1.04" />
<path d="M595.8,364.1 L598.4,363.1" stroke-width="1.04" />
<path d="M469.5,266.8 C465.8,267.2 454.1,268.4 447.0,269.2 C439.9,270.0 432.0,270.8 427.0,271.8 C422.0,272.8 419.6,273.4 417.0,275.0 C414.4,276.6 412.7,279.2 411.5,281.5 C410.3,283.8 409.9,287.3 409.6,288.5" stroke="#1a1a1a" stroke-width="9.62" fill="none" style="stroke:#111;stroke-linecap:butt"/>
<path d="M469.5,266.8 C465.8,267.2 454.1,268.4 447.0,269.2 C439.9,270.0 432.0,270.8 427.0,271.8 C422.0,272.8 419.6,273.4 417.0,275.0 C414.4,276.6 412.7,279.2 411.5,281.5 C410.3,283.8 409.9,287.3 409.6,288.5" stroke-width="7.02" fill="none" style="stroke:#fff;stroke-linecap:butt"/>
<path d="M469.0,263.5 L478.0,258.5" stroke-width="1.30" />
<path d="M470.0,265.5 L479.0,261.0" stroke-width="1.30" />
<path d="M470.5,268.0 L478.5,274.0" stroke-width="1.30" />
<path d="M469.5,269.5 L476.5,276.5" stroke-width="1.30" />
<path d="M470.0,266.5 L477.0,268.0" stroke-width="1.30" />
<g transform="rotate(-24 481.5 259.5)"><rect x="476.0" y="256.3" width="11" height="6.4" fill="#fff" stroke="#111" stroke-width="1.43"/><rect x="476.0" y="256.3" width="3.6" height="6.4" fill="#333" stroke="#111" stroke-width="1.04"/><path d="M480.5 259.5 h5" stroke-width="1.04"/></g>
<g transform="rotate(30 482.8 276.6)"><rect x="477.3" y="273.4" width="11" height="6.4" fill="#fff" stroke="#111" stroke-width="1.43"/><rect x="477.3" y="273.4" width="3.6" height="6.4" fill="#333" stroke="#111" stroke-width="1.04"/><path d="M481.8 276.6 h5" stroke-width="1.04"/></g>
<path d="M407.0,295.0 C406.1,297.7 403.3,305.5 401.5,311.0 C399.7,316.5 397.4,322.2 396.0,328.0 C394.6,333.8 393.3,340.8 393.2,346.0 C393.1,351.2 394.1,355.7 395.5,359.0 C396.9,362.3 400.5,364.8 401.5,366.0" stroke="#1a1a1a" stroke-width="8.06" fill="none" style="stroke:#111;stroke-linecap:butt"/>
<path d="M407.0,295.0 C406.1,297.7 403.3,305.5 401.5,311.0 C399.7,316.5 397.4,322.2 396.0,328.0 C394.6,333.8 393.3,340.8 393.2,346.0 C393.1,351.2 394.1,355.7 395.5,359.0 C396.9,362.3 400.5,364.8 401.5,366.0" stroke-width="5.46" fill="none" style="stroke:#fff;stroke-linecap:butt"/>
<path d="M413.0,295.0 C413.8,297.8 415.6,304.7 417.5,312.0 C419.4,319.3 421.9,329.5 424.5,339.0 C427.1,348.5 430.1,359.5 432.8,369.0 C435.6,378.5 438.8,388.7 441.0,396.0 C443.2,403.3 444.8,407.3 446.0,413.0 C447.2,418.7 448.1,427.2 448.5,430.0" stroke="#1a1a1a" stroke-width="9.62" fill="none" style="stroke:#111;stroke-linecap:butt"/>
<path d="M413.0,295.0 C413.8,297.8 415.6,304.7 417.5,312.0 C419.4,319.3 421.9,329.5 424.5,339.0 C427.1,348.5 430.1,359.5 432.8,369.0 C435.6,378.5 438.8,388.7 441.0,396.0 C443.2,403.3 444.8,407.3 446.0,413.0 C447.2,418.7 448.1,427.2 448.5,430.0" stroke-width="7.02" fill="none" style="stroke:#fff;stroke-linecap:butt"/>
<path d="M404.6,289.3 L414.6,286.6 L416.0,292.6 L406.0,295.6 Z" stroke-width="1.43" fill="#fff" />
<path d="M405.2,291.8 L415.2,289.0" stroke-width="1.04" />
<path d="M401.5,357.5 L414.0,353.5 L418.5,356.0 L418.5,372.0 L406.0,376.0 L401.5,373.5 Z" stroke-width="1.43" fill="#fff" />
<path d="M401.5,357.5 L406.0,360.0 L418.5,356.0" stroke-width="1.17" fill="none" />
<path d="M406.0,360.0 L406.0,376.0" stroke-width="1.17" />
<path d="M410,354.5 Q409.5,347.5 413.5,347 Q417.5,347.5 416.5,355" stroke-width="1.30" fill="#fff" />
<circle cx="413.3" cy="351.2" r="1.6" fill="#fff" stroke-width="1.17"/>
<path d="M407.5,375.6 Q407,384.5 411.3,385 Q415.5,384.2 415,373" stroke-width="1.30" fill="#fff" />
<circle cx="411.3" cy="380.8" r="1.6" fill="#fff" stroke-width="1.17"/>
<path d="M416.1,389.3 L440.9,379.8 L442.7,383.1 L418.0,392.6 Z" stroke-width="1.04" fill="#fff" />
<path d="M419.5,386.2 L444.3,376.7 L445.8,380.4 L421.1,389.9 Z" stroke-width="1.04" fill="#fff" />
<path d="M419.5,386.2 L444.3,376.7 Q446.8,376.3 440.9,379.8 L416.1,389.3 Z" stroke-width="1.30" fill="#fff" />
<path d="M420.5,386.0 L440.6,378.3" stroke-width="0.91" />
<path d="M421.4,385.4 L446.2,376.0 L447.5,379.7 L422.8,389.2 Z" stroke-width="1.04" fill="#fff" />
<path d="M426.0,385.4 L450.8,375.9 L451.7,379.7 L426.9,389.2 Z" stroke-width="1.04" fill="#fff" />
<path d="M426.0,385.4 L450.8,375.9 Q452.8,374.0 446.2,376.0 L421.4,385.4 Z" stroke-width="1.30" fill="#fff" />
<path d="M426.8,384.5 L446.9,376.8" stroke-width="0.91" />
<path d="M428.4,386.2 L453.1,376.7 L453.8,380.4 L429.0,389.9 Z" stroke-width="1.04" fill="#fff" />
<path d="M433.6,389.2 L458.4,379.8 L458.5,383.1 L433.7,392.6 Z" stroke-width="1.04" fill="#fff" />
<path d="M433.6,389.2 L458.4,379.8 Q460.1,376.3 453.1,376.7 L428.4,386.2 Z" stroke-width="1.30" fill="#fff" />
<path d="M434.3,387.7 L454.4,380.0" stroke-width="0.91" />
<path d="M436.1,391.4 L460.8,381.9 L460.7,385.0 L436.0,394.5 Z" stroke-width="1.04" fill="#fff" />
<path d="M441.3,397.1 L466.1,387.6 L465.4,390.2 L440.7,399.7 Z" stroke-width="1.04" fill="#fff" />
<path d="M441.3,397.1 L466.1,387.6 Q467.9,382.9 460.8,381.9 L436.1,391.4 Z" stroke-width="1.30" fill="#fff" />
<path d="M442.0,395.0 L462.1,387.3" stroke-width="0.91" />
<path d="M443.7,400.4 L468.4,390.9 L467.5,393.2 L442.8,402.6 Z" stroke-width="1.04" fill="#fff" />
<path d="M448.3,408.2 L473.0,398.7 L471.6,400.2 L446.9,409.6 Z" stroke-width="1.04" fill="#fff" />
<path d="M448.3,408.2 L473.0,398.7 Q475.2,393.0 468.4,390.9 L443.7,400.4 Z" stroke-width="1.30" fill="#fff" />
<path d="M449.1,405.6 L469.2,397.9" stroke-width="0.91" />
<path d="M450.2,412.1 L474.9,402.6 L473.4,403.7 L448.6,413.2 Z" stroke-width="1.04" fill="#fff" />
<path d="M453.6,421.0 L478.3,411.5 L476.4,411.7 L451.7,421.2 Z" stroke-width="1.04" fill="#fff" />
<path d="M453.6,421.0 L478.3,411.5 Q481.1,405.3 474.9,402.6 L450.2,412.1 Z" stroke-width="1.30" fill="#fff" />
<path d="M454.7,418.2 L474.8,410.5" stroke-width="0.91" />
<path d="M454.8,425.2 L479.5,415.7 L477.5,415.5 L452.8,425.0 Z" stroke-width="1.04" fill="#fff" />
<path d="M456.6,434.1 L481.3,424.6 L479.2,423.5 L454.4,433.0 Z" stroke-width="1.04" fill="#fff" />
<path d="M456.6,434.1 L481.3,424.6 Q485.0,418.5 479.5,415.7 L454.8,425.2 Z" stroke-width="1.30" fill="#fff" />
<path d="M458.2,431.4 L478.2,423.7" stroke-width="0.91" />
<path d="M457.0,438.0 L481.8,428.5 L479.5,427.0 L454.8,436.5 Z" stroke-width="1.04" fill="#fff" />
<path d="M457.0,445.8 L481.7,436.3 L479.5,434.0 L454.8,443.5 Z" stroke-width="1.04" fill="#fff" />
<path d="M457.0,445.8 L481.7,436.3 Q486.3,430.9 481.8,428.5 L457.0,438.0 Z" stroke-width="1.30" fill="#fff" />
<path d="M459.0,443.4 L479.1,435.7" stroke-width="0.91" />
<path d="M456.6,449.1 L481.3,439.6 L479.1,437.0 L454.4,446.5 Z" stroke-width="1.04" fill="#fff" />
<path d="M454.7,454.8 L479.5,445.3 L477.5,442.2 L452.7,451.7 Z" stroke-width="1.04" fill="#fff" />
<path d="M454.7,454.8 L479.5,445.3 Q484.9,441.0 481.3,439.6 L456.6,449.1 Z" stroke-width="1.30" fill="#fff" />
<path d="M457.1,453.0 L477.2,445.3" stroke-width="0.91" />
<path d="M453.5,456.9 L478.2,447.4 L476.4,444.1 L451.6,453.6 Z" stroke-width="1.04" fill="#fff" />
<path d="M450.1,460.0 L474.8,450.5 L473.3,446.8 L448.5,456.3 Z" stroke-width="1.04" fill="#fff" />
<path d="M450.1,460.0 L474.8,450.5 Q481.0,447.5 478.2,447.4 L453.5,456.9 Z" stroke-width="1.30" fill="#fff" />
<path d="M452.8,458.8 L472.9,451.1" stroke-width="0.91" />
<path d="M448.2,460.8 L472.9,451.3 L471.6,447.5 L446.8,457.0 Z" stroke-width="1.04" fill="#fff" />
<path d="M443.6,460.8 L468.3,451.3 L467.4,447.5 L442.7,457.0 Z" stroke-width="1.04" fill="#fff" />
<path d="M443.6,460.8 L468.3,451.3 Q475.1,449.8 472.9,451.3 L448.2,460.8 Z" stroke-width="1.30" fill="#fff" />
<path d="M446.5,460.2 L466.6,452.5" stroke-width="0.91" />
<path d="M446.0,447.4 L449.6,455.4 L448.7,456.0 L450.4,459.9 L453.3,457.2 L451.3,453.7 L450.5,454.6 L446.7,446.8 Z" stroke-width="1.30" fill="#fff" />
<path d="M450.4,459.9 L452.8,458.9 L455.7,456.3 L453.3,457.2" stroke-width="1.04" fill="none" />
<path d="M448.8,443.2 L453.5,449.9 L452.7,451.7 L454.7,454.8 L456.6,449.1 L454.4,446.5 L453.9,448.5 L449.1,442.2 Z" stroke-width="1.30" fill="#fff" />
<path d="M449.9,436.6 L454.9,441.1 L454.8,443.5 L457.0,445.8 L457.0,438.0 L454.8,436.5 L454.9,439.2 L449.9,435.2 Z" stroke-width="1.30" fill="#fff" />
<path d="M449.2,428.3 L453.9,430.1 L454.4,433.0 L456.6,434.1 L454.8,425.2 L452.8,425.0 L453.5,428.0 L448.8,426.7 Z" stroke-width="1.30" fill="#fff" />
<path d="M446.7,419.4 L450.7,418.2 L451.7,421.2 L453.6,421.0 L450.2,412.1 L448.6,413.2 L449.8,416.1 L446.1,417.9 Z" stroke-width="1.30" fill="#fff" />
<path d="M442.8,411.0 L445.5,407.0 L446.9,409.6 L448.3,408.2 L443.7,400.4 L442.8,402.6 L444.4,405.1 L442.0,409.6 Z" stroke-width="1.30" fill="#fff" />
<path d="M437.9,404.0 L439.0,397.7 L440.7,399.7 L441.3,397.1 L436.1,391.4 L436.0,394.5 L437.7,396.3 L437.0,403.0 Z" stroke-width="1.30" fill="#fff" />
<path d="M432.7,399.3 L432.0,391.4 L433.7,392.6 L433.6,389.2 L428.4,386.2 L429.0,389.9 L430.7,390.7 L431.8,398.8 Z" stroke-width="1.30" fill="#fff" />
<path d="M427.7,397.5 L425.4,389.2 L426.6,389.3 L425.7,385.4 L421.8,385.4 L423.1,389.3 L424.2,389.2 L426.8,397.5 Z" stroke-width="1.30" fill="#fff" />
<path d="M425.7,385.4 L428.1,384.4 L424.2,384.4 L421.8,385.4" stroke-width="1.04" fill="none" />
<path d="M423.6,398.8 L420.0,390.8 L420.9,390.2 L419.2,386.3 L416.3,389.0 L418.3,392.5 L419.1,391.6 L422.9,399.4 Z" stroke-width="1.30" fill="#fff" />
<path d="M419.2,386.3 L421.7,385.4 L418.8,388.0 L416.3,389.0" stroke-width="1.04" fill="none" />
<path d="M420.8,402.9 L416.3,396.4 L416.8,395.0 L414.7,391.7 L413.1,396.7 L415.4,399.4 L415.8,397.9 L420.4,404.1 Z" stroke-width="1.30" fill="#fff" />
<path d="M414.7,391.7 L417.1,390.8 L415.6,395.7 L413.1,396.7" stroke-width="1.04" fill="none" />
<path d="M419.7,409.5 L414.8,405.1 L414.9,403.3 L412.5,400.9 L412.5,407.6 L414.9,409.2 L414.8,407.2 L419.7,411.1 Z" stroke-width="1.30" fill="#fff" />
<path d="M412.5,400.9 L415.0,400.0 L415.0,406.6 L412.5,407.6" stroke-width="1.04" fill="none" />
<path d="M420.4,417.8 L415.7,416.1 L415.4,413.9 L413.1,412.8 L414.6,420.3 L416.7,420.6 L416.2,418.4 L420.8,419.5 Z" stroke-width="1.30" fill="#fff" />
<path d="M413.1,412.8 L415.5,411.9 L417.1,419.4 L414.6,420.3" stroke-width="1.04" fill="none" />
<path d="M422.9,426.7 L419.0,427.8 L418.2,425.6 L416.3,425.9 L419.2,433.4 L420.8,432.3 L419.9,430.2 L423.5,428.4 Z" stroke-width="1.30" fill="#fff" />
<path d="M416.3,425.9 L418.7,425.0 L421.6,432.5 L419.2,433.4" stroke-width="1.04" fill="none" />
<path d="M426.8,435.1 L424.1,439.0 L423.0,437.0 L421.7,438.7 L425.6,445.3 L426.5,443.0 L425.4,441.1 L427.7,436.7 Z" stroke-width="1.30" fill="#fff" />
<path d="M421.7,438.7 L424.1,437.7 L428.0,444.4 L425.6,445.3" stroke-width="1.04" fill="none" />
<path d="M431.6,442.1 L430.6,448.3 L429.3,446.8 L428.6,449.5 L433.1,454.5 L433.3,451.2 L432.0,449.8 L432.7,443.3 Z" stroke-width="1.30" fill="#fff" />
<path d="M428.6,449.5 L431.1,448.6 L435.5,453.5 L433.1,454.5" stroke-width="1.04" fill="none" />
<path d="M436.9,446.8 L437.5,454.6 L436.2,453.7 L436.4,457.2 L440.8,459.9 L440.2,456.0 L438.9,455.4 L437.9,447.4 Z" stroke-width="1.30" fill="#fff" />
<path d="M436.4,457.2 L438.8,456.3 L443.3,458.9 L440.8,459.9" stroke-width="1.04" fill="none" />
<path d="M441.9,448.7 L444.2,457.0 L443.0,456.9 L443.9,460.8 L447.8,460.8 L446.5,456.9 L445.4,457.0 L442.8,448.7 Z" stroke-width="1.30" fill="#fff" />
<path d="M443.9,460.8 L446.3,459.9 L450.3,459.9 L447.8,460.8" stroke-width="1.04" fill="none" />
<ellipse cx="434.8" cy="423.1" rx="12.4" ry="27.0" transform="rotate(-21 434.8 423.1)" stroke-width="1.43" fill="#fff" />
<ellipse cx="434.8" cy="423.1" rx="9.9" ry="21.5" transform="rotate(-21 434.8 423.1)" stroke-width="1.30" fill="#fff" />
<path d="M444.3,440.3 L445.0,440.1 L445.7,439.7 L446.3,439.3 L446.9,438.7 L447.4,438.1 L447.8,437.3 L448.2,436.4 L448.5,435.4 L448.7,434.3 L448.9,433.1 L449.0,431.8 L449.0,430.5 L448.9,429.1 L448.8,427.7 L448.5,426.2 L448.3,424.7 L447.9,423.2 L447.5,421.7 L447.0,420.1 L446.4,418.6 L445.8,417.1 L445.2,415.7 L444.5,414.2 L443.7,412.9 L442.9,411.6 L442.1,410.3 L441.2,409.2 L440.4,408.1 L439.5,407.1 L438.6,406.3 L437.7,405.5 L436.8,404.8 L435.9,404.3 L435.0,403.9 L434.1,403.6 L433.3,403.4 L432.5,403.4 L431.8,403.4 L431.0,403.7 L430.4,404.0" stroke-width="1.30" fill="none" />
<ellipse cx="436.9" cy="422.3" rx="7.9" ry="17.2" transform="rotate(-21 436.9 422.3)" stroke-width="1.17" fill="none" />
<ellipse cx="422.5" cy="404.2" rx="0.5" ry="1.0" transform="rotate(-21 422.5 404.2)" stroke-width="1.04" fill="none" />
<ellipse cx="438.3" cy="445.4" rx="0.5" ry="1.0" transform="rotate(-21 438.3 445.4)" stroke-width="1.04" fill="none" />
<path d="M427.5,350.0 C428.4,353.2 430.6,361.3 432.8,369.0 C435.1,376.7 438.8,388.7 441.0,396.0 C443.2,403.3 444.8,406.8 446.0,413.0 C447.2,419.2 448.1,429.7 448.5,433.0" stroke="#1a1a1a" stroke-width="9.62" fill="none" style="stroke:#111;stroke-linecap:butt"/>
<path d="M427.5,350.0 C428.4,353.2 430.6,361.3 432.8,369.0 C435.1,376.7 438.8,388.7 441.0,396.0 C443.2,403.3 444.8,406.8 446.0,413.0 C447.2,419.2 448.1,429.7 448.5,433.0" stroke-width="7.02" fill="none" style="stroke:#fff;stroke-linecap:butt"/>
<path d="M445.0,432.2 L450.0,429.6 L456.3,432.5 L458.0,459.0 L452.5,462.5 L447.5,461.5 Z" stroke-width="1.30" fill="#fff" />
<path d="M445.0,432.2 L451.0,434.5 L456.3,432.5" stroke-width="1.17" fill="none" />
<path d="M451.0,434.5 L452.5,462.5" stroke-width="1.17" />
<ellipse cx="502.0" cy="380.0" rx="2.4" ry="3.6" transform="rotate(-20.5 502.0 380.0)" fill="#fff"/>
<path d="M497.5,377.8 L500.7,376.6" stroke-width="1.17" fill="none" />
<path d="M500.1,384.6 L503.2,383.4" stroke-width="1.17" fill="none" />
<ellipse cx="498.8" cy="381.2" rx="3.1" ry="5.2" transform="rotate(-20.5 498.8 381.2)" fill="#fff" stroke-width="1.43"/>
<path d="M496.5,379.4 L473.3,388.1 L475.1,392.7 L498.3,384.0" stroke-width="1.30" fill="#fff" />
<ellipse cx="474.2" cy="390.4" rx="1.5" ry="2.45" transform="rotate(-20.5 474.2 390.4)" fill="#fff" stroke-width="1.17"/>
<ellipse cx="496.6" cy="382.0" rx="1.3" ry="2.1" transform="rotate(-20.5 496.6 382.0)" fill="none" stroke-width="1.04"/>
<ellipse cx="511.7" cy="390.0" rx="2.4" ry="3.6" transform="rotate(-21.2 511.7 390.0)" fill="#fff"/>
<path d="M507.2,387.8 L510.4,386.6" stroke-width="1.17" fill="none" />
<path d="M509.8,394.6 L513.0,393.3" stroke-width="1.17" fill="none" />
<ellipse cx="508.5" cy="391.2" rx="3.1" ry="5.2" transform="rotate(-21.2 508.5 391.2)" fill="#fff" stroke-width="1.43"/>
<path d="M506.2,389.5 L482.3,398.7 L484.1,403.3 L508.0,394.0" stroke-width="1.30" fill="#fff" />
<ellipse cx="483.2" cy="401.0" rx="1.5" ry="2.45" transform="rotate(-21.2 483.2 401.0)" fill="#fff" stroke-width="1.17"/>
<ellipse cx="506.4" cy="392.0" rx="1.3" ry="2.1" transform="rotate(-21.2 506.4 392.0)" fill="none" stroke-width="1.04"/>
<ellipse cx="520.7" cy="412.0" rx="2.4" ry="3.6" transform="rotate(-22.3 520.7 412.0)" fill="#fff"/>
<path d="M516.2,410.0 L519.4,408.7" stroke-width="1.17" fill="none" />
<path d="M519.0,416.6 L522.1,415.3" stroke-width="1.17" fill="none" />
<ellipse cx="517.6" cy="413.3" rx="3.1" ry="5.2" transform="rotate(-22.3 517.6 413.3)" fill="#fff" stroke-width="1.43"/>
<path d="M515.3,411.6 L491.6,421.3 L493.4,425.9 L517.1,416.1" stroke-width="1.30" fill="#fff" />
<ellipse cx="492.5" cy="423.6" rx="1.5" ry="2.45" transform="rotate(-22.3 492.5 423.6)" fill="#fff" stroke-width="1.17"/>
<ellipse cx="515.5" cy="414.2" rx="1.3" ry="2.1" transform="rotate(-22.3 515.5 414.2)" fill="none" stroke-width="1.04"/>
<path d="M471.9,479.1 L491.5,473.2 Q498.5,479 503.2,491.5 L482.5,508.6 L478,490 Z" stroke-width="1.30" fill="#fff" />
<path d="M477.8,490.2 L498.0,482.3" stroke-width="1.30" />
<path d="M481.2,501.4 L503.2,491.5" stroke-width="1.30" />
<path d="M466.7,475.2 Q469,474.3 470.6,476.5 L474,482 Q480,497 482.3,511 Q481.5,514.2 479.1,513.6 Q476,512.5 471.9,503.8 L469.3,494.7 L464.1,481.7 Q464,477 466.7,475.2 Z" stroke-width="1.43" fill="#fff" />
<ellipse cx="468.4" cy="480.1" rx="1.3" ry="1.9" transform="rotate(-20 468.4 480.1)" fill="#fff" stroke-width="1.17"/>
<ellipse cx="478.8" cy="510.5" rx="1.3" ry="1.9" transform="rotate(-20 478.8 510.5)" fill="#fff" stroke-width="1.17"/>
<path d="M482.3,508.6 L509.0,496.9" stroke-width="1.17" />
<path d="M497.5,466.6 L502.3,464.6 L503.3,467.6 L498.5,469.6 Z" stroke-width="1.17" fill="#fff" />
<ellipse cx="498.0" cy="468.1" rx="1.1" ry="1.7" transform="rotate(-20 498.0 468.1)" fill="#fff" stroke-width="1.04"/>
<ellipse cx="503.8" cy="465.4" rx="2.7" ry="3.5" transform="rotate(-20 503.8 465.4)" fill="#222" stroke-width="1.30"/>
<ellipse cx="502.5" cy="465.9" rx="2.3" ry="3.1" transform="rotate(-20 502.5 465.9)" fill="#555" stroke-width="1.17"/>
<path d="M509.3,495.3 L514.1,493.3 L515.1,496.3 L510.3,498.3 Z" stroke-width="1.17" fill="#fff" />
<ellipse cx="509.8" cy="496.8" rx="1.1" ry="1.7" transform="rotate(-20 509.8 496.8)" fill="#fff" stroke-width="1.04"/>
<ellipse cx="515.6" cy="494.1" rx="2.7" ry="3.5" transform="rotate(-20 515.6 494.1)" fill="#222" stroke-width="1.30"/>
<ellipse cx="514.3000000000001" cy="494.6" rx="2.3" ry="3.1" transform="rotate(-20 514.3000000000001 494.6)" fill="#555" stroke-width="1.17"/>
<path d="M54.0,550.3 L278.5,457.8" stroke-width="1.17" />
<path d="M48.3,561.1 L47.9,561.3 L47.4,561.4 L46.9,561.4 L46.4,561.4 L45.8,561.3 L45.3,561.2 L44.8,561.0 L44.2,560.8 L43.7,560.5 L43.2,560.1 L42.7,559.7 L42.2,559.3 L41.7,558.8 L41.3,558.3 L40.8,557.7 L40.4,557.1 L40.0,556.5 L39.7,555.9 L39.4,555.2 L39.1,554.5 L38.8,553.8 L38.6,553.1 L38.4,552.4 L38.3,551.7 L38.2,550.9 L38.2,550.2 L38.2,549.5 L38.2,548.9 L38.3,548.2 L38.4,547.6 L38.5,547.0 L38.7,546.4 L39.0,545.9 L39.2,545.4 L39.5,544.9 L39.9,544.5 L40.3,544.2 L40.7,543.9 L41.1,543.6 L41.5,543.4 L48.5,540.7 L49.0,540.6 L49.5,540.5 L50.0,540.4 L50.5,540.4 L51.0,540.5 L51.6,540.7 L52.1,540.8 L52.6,541.1 L53.1,541.4 L53.7,541.7 L54.2,542.1 L54.7,542.5 L55.1,543.0 L55.6,543.6 L56.0,544.1 L56.5,544.7 L56.8,545.3 L57.2,546.0 L57.5,546.6 L57.8,547.3 L58.0,548.0 L58.3,548.7 L58.4,549.5 L58.6,550.2 L58.6,550.9 L58.7,551.6 L58.7,552.3 L58.7,553.0 L58.6,553.6 L58.5,554.3 L58.3,554.9 L58.1,555.4 L57.9,556.0 L57.6,556.5 L57.3,556.9 L57.0,557.3 L56.6,557.7 L56.2,558.0 L55.8,558.2 L55.3,558.4 Z" stroke-width="1.30" fill="#222" />
<ellipse cx="44.9" cy="552.3" rx="6.3" ry="9.5" transform="rotate(-21 44.9 552.3)" stroke-width="1.30" fill="#222" />
<path d="M45.7,565.5 L45.1,565.7 L44.4,565.8 L43.8,565.8 L43.1,565.8 L42.4,565.7 L41.7,565.5 L41.0,565.3 L40.3,565.0 L39.6,564.6 L38.9,564.1 L38.2,563.6 L37.6,563.0 L36.9,562.4 L36.3,561.7 L35.8,561.0 L35.2,560.2 L34.7,559.3 L34.2,558.5 L33.8,557.6 L33.4,556.7 L33.1,555.7 L32.8,554.8 L32.6,553.9 L32.4,552.9 L32.3,552.0 L32.2,551.0 L32.2,550.1 L32.3,549.2 L32.4,548.3 L32.5,547.5 L32.7,546.7 L33.0,545.9 L33.3,545.2 L33.7,544.6 L34.1,544.0 L34.5,543.4 L35.0,543.0 L35.5,542.5 L36.1,542.2 L36.7,541.9 L40.4,540.5 L41.0,540.3 L41.7,540.2 L42.4,540.1 L43.0,540.2 L43.7,540.3 L44.4,540.4 L45.1,540.7 L45.8,541.0 L46.5,541.4 L47.2,541.8 L47.9,542.4 L48.6,542.9 L49.2,543.6 L49.8,544.3 L50.4,545.0 L50.9,545.8 L51.4,546.6 L51.9,547.5 L52.3,548.4 L52.7,549.3 L53.0,550.2 L53.3,551.2 L53.5,552.1 L53.7,553.1 L53.8,554.0 L53.9,555.0 L53.9,555.9 L53.9,556.8 L53.8,557.6 L53.6,558.5 L53.4,559.3 L53.2,560.0 L52.8,560.7 L52.5,561.4 L52.1,562.0 L51.6,562.5 L51.1,563.0 L50.6,563.4 L50.0,563.8 L49.4,564.0 Z" stroke-width="1.30" fill="#fff" />
<ellipse cx="41.2" cy="553.7" rx="8.3" ry="12.6" transform="rotate(-21 41.2 553.7)" stroke-width="1.30" fill="#fff" />
<ellipse cx="41.2" cy="553.7" rx="8.3" ry="12.6" transform="rotate(-21 41.2 553.7)" stroke-width="1.56" fill="#fff" />
<ellipse cx="41.2" cy="553.7" rx="7.0" ry="10.6" transform="rotate(-21 41.2 553.7)" stroke-width="1.04" fill="none" />
<ellipse cx="41.2" cy="553.7" rx="2.5" ry="3.6" transform="rotate(-21 41.2 553.7)" stroke-width="1.30" fill="#fff" />
<ellipse cx="41.8" cy="553.5" rx="1.4" ry="2.0" transform="rotate(-21 41.8 553.5)" stroke-width="1.04" fill="none" />
<ellipse cx="75.5" cy="539.4" rx="7.8" ry="11.8" transform="rotate(-21 75.5 539.4)" stroke-width="1.43" fill="#fff" />
<ellipse cx="75.5" cy="539.4" rx="6.0" ry="9.6" transform="rotate(-21 75.5 539.4)" stroke-width="1.17" fill="#fff" />
<path d="M71.3,541.0 L79.7,537.8" stroke-width="1.17" />
<ellipse cx="92.5" cy="532.1" rx="6.6" ry="10.0" transform="rotate(-21 92.5 532.1)" stroke-width="1.43" fill="#fff" />
<ellipse cx="92.5" cy="532.1" rx="2.6" ry="4.3" transform="rotate(-21 92.5 532.1)" stroke-width="1.30" fill="#fff" />
<ellipse cx="93.0" cy="531.9" rx="1.7" ry="2.8" transform="rotate(-21 93.0 531.9)" stroke-width="1.04" fill="none" />
<path d="M115.7,532.0 L115.3,532.1 L114.9,532.2 L114.5,532.2 L114.0,532.2 L113.6,532.1 L113.1,532.0 L112.7,531.8 L112.2,531.6 L111.8,531.4 L111.3,531.1 L110.9,530.7 L110.4,530.4 L110.0,530.0 L109.6,529.5 L109.3,529.0 L108.9,528.5 L108.6,528.0 L108.3,527.4 L108.0,526.8 L107.7,526.2 L107.5,525.6 L107.3,525.0 L107.2,524.4 L107.1,523.8 L107.0,523.2 L107.0,522.6 L107.0,522.0 L107.0,521.4 L107.0,520.8 L107.1,520.3 L107.3,519.7 L107.5,519.2 L107.7,518.8 L107.9,518.4 L108.2,518.0 L108.4,517.6 L108.8,517.3 L109.1,517.0 L109.5,516.8 L109.9,516.6 L125.7,510.6 L126.1,510.4 L126.6,510.3 L127.0,510.3 L127.4,510.3 L127.9,510.4 L128.3,510.5 L128.8,510.7 L129.3,510.9 L129.7,511.1 L130.2,511.4 L130.6,511.8 L131.0,512.1 L131.4,512.6 L131.8,513.0 L132.2,513.5 L132.6,514.0 L132.9,514.5 L133.2,515.1 L133.5,515.7 L133.7,516.3 L133.9,516.9 L134.1,517.5 L134.3,518.1 L134.4,518.7 L134.5,519.3 L134.5,520.0 L134.5,520.6 L134.5,521.1 L134.4,521.7 L134.3,522.2 L134.2,522.8 L134.0,523.3 L133.8,523.7 L133.6,524.1 L133.3,524.5 L133.0,524.9 L132.7,525.2 L132.4,525.5 L132.0,525.7 L131.6,525.9 Z" stroke-width="1.30" fill="#fff" />
<ellipse cx="112.8" cy="524.3" rx="5.4" ry="8.2" transform="rotate(-21 112.8 524.3)" stroke-width="1.30" fill="#fff" />
<ellipse cx="112.8" cy="524.3" rx="5.4" ry="8.2" transform="rotate(-21 112.8 524.3)" stroke-width="1.56" fill="#fff" />
<ellipse cx="112.8" cy="524.3" rx="3.7" ry="5.6" transform="rotate(-21 112.8 524.3)" stroke-width="1.30" fill="#444" />
<ellipse cx="113.5" cy="524.0" rx="2.0" ry="3.0" transform="rotate(-21 113.5 524.0)" stroke-width="1.04" fill="#fff" />
<path d="M145.7,506.3 L147.6,513.9" stroke-width="2.27" />
<path d="M147.3,505.7 L149.2,513.3" stroke-width="2.27" />
<path d="M148.9,505.1 L150.8,512.7" stroke-width="2.27" />
<path d="M150.6,504.5 L152.4,512.1" stroke-width="2.27" />
<path d="M152.2,503.8 L154.0,511.5" stroke-width="2.27" />
<path d="M153.8,503.2 L155.6,510.9" stroke-width="2.27" />
<path d="M155.4,502.6 L157.2,510.2" stroke-width="2.27" />
<path d="M157.0,502.0 L158.8,509.6" stroke-width="2.27" />
<path d="M158.6,501.4 L160.4,509.0" stroke-width="2.27" />
<path d="M160.2,500.8 L162.0,508.4" stroke-width="2.27" />
<path d="M161.8,500.1 L163.7,507.8" stroke-width="2.27" />
<path d="M163.4,499.5 L165.3,507.2" stroke-width="2.27" />
<path d="M165.0,498.9 L166.9,506.5" stroke-width="2.27" />
<path d="M166.6,498.3 L168.5,505.9" stroke-width="2.27" />
<path d="M168.2,497.7 L170.1,505.3" stroke-width="2.27" />
<path d="M169.8,497.1 L171.7,504.7" stroke-width="2.27" />
<path d="M171.4,496.4 L173.3,504.1" stroke-width="2.27" />
<path d="M191.4,494.8 L205.9,489.2 L204.8,486.2 L190.3,491.8 Z" stroke-width="1.17" fill="#fff" />
<ellipse cx="190.9" cy="493.3" rx="2.2" ry="3.6" transform="rotate(-21 190.9 493.3)" stroke-width="1.30" fill="#fff" />
<ellipse cx="189.0" cy="494.0" rx="2.2" ry="3.6" transform="rotate(-21 189.0 494.0)" stroke-width="1.43" fill="#fff" />
<ellipse cx="189.0" cy="494.0" rx="1.1" ry="1.8" transform="rotate(-21 189.0 494.0)" stroke-width="1.04" fill="#666" />
<ellipse cx="227.8" cy="477.9" rx="2.4" ry="3.9" transform="rotate(-21 227.8 477.9)" stroke-width="1.30" fill="#fff" />
<ellipse cx="226.3" cy="478.5" rx="2.4" ry="3.9" transform="rotate(-21 226.3 478.5)" stroke-width="1.43" fill="#fff" />
<ellipse cx="226.3" cy="478.5" rx="1.2" ry="1.9" transform="rotate(-21 226.3 478.5)" stroke-width="1.17" fill="#fff" />
<path d="M202.5,534.5 L202.0,534.7 L201.4,534.8 L200.9,534.8 L200.3,534.8 L199.8,534.7 L199.2,534.5 L198.6,534.3 L198.0,534.0 L197.5,533.7 L196.9,533.3 L196.3,532.8 L195.8,532.3 L195.3,531.8 L194.8,531.2 L194.3,530.5 L193.8,529.9 L193.4,529.1 L193.0,528.4 L192.7,527.6 L192.3,526.9 L192.1,526.1 L191.8,525.2 L191.6,524.4 L191.4,523.6 L191.3,522.8 L191.3,522.0 L191.2,521.2 L191.3,520.5 L191.3,519.7 L191.4,519.0 L191.6,518.3 L191.8,517.7 L192.0,517.1 L192.3,516.6 L192.6,516.1 L193.0,515.6 L193.4,515.2 L193.8,514.9 L194.2,514.6 L194.7,514.4 L198.5,512.9 L199.0,512.8 L199.5,512.7 L200.0,512.7 L200.6,512.7 L201.1,512.8 L201.7,512.9 L202.3,513.2 L202.9,513.5 L203.4,513.8 L204.0,514.2 L204.6,514.6 L205.1,515.2 L205.6,515.7 L206.1,516.3 L206.6,516.9 L207.1,517.6 L207.5,518.3 L207.9,519.1 L208.3,519.8 L208.6,520.6 L208.9,521.4 L209.1,522.2 L209.3,523.0 L209.5,523.9 L209.6,524.7 L209.6,525.5 L209.7,526.2 L209.7,527.0 L209.6,527.7 L209.5,528.5 L209.3,529.1 L209.1,529.8 L208.9,530.4 L208.6,530.9 L208.3,531.4 L207.9,531.9 L207.5,532.3 L207.1,532.6 L206.7,532.9 L206.2,533.1 Z" stroke-width="1.30" fill="#1c1c1c" />
<ellipse cx="198.6" cy="524.5" rx="6.7" ry="10.8" transform="rotate(-21 198.6 524.5)" stroke-width="1.30" fill="#1c1c1c" />
<path d="M200.7,539.0 L200.1,539.2 L199.4,539.3 L198.7,539.3 L197.9,539.3 L197.2,539.1 L196.4,538.9 L195.6,538.6 L194.9,538.3 L194.1,537.8 L193.4,537.3 L192.6,536.7 L191.9,536.0 L191.2,535.3 L190.6,534.5 L189.9,533.6 L189.3,532.7 L188.7,531.8 L188.2,530.8 L187.8,529.8 L187.3,528.8 L186.9,527.7 L186.6,526.6 L186.4,525.6 L186.1,524.5 L186.0,523.4 L185.9,522.4 L185.9,521.3 L185.9,520.3 L186.0,519.3 L186.1,518.4 L186.3,517.5 L186.6,516.7 L186.9,515.9 L187.3,515.1 L187.7,514.5 L188.2,513.9 L188.7,513.4 L189.2,512.9 L189.8,512.5 L190.5,512.2 L194.9,513.9 L195.5,513.7 L196.0,513.6 L196.6,513.6 L197.1,513.6 L197.7,513.7 L198.3,513.9 L198.9,514.1 L199.5,514.4 L200.1,514.7 L200.7,515.2 L201.3,515.6 L201.8,516.2 L202.4,516.7 L202.9,517.3 L203.4,518.0 L203.9,518.7 L204.3,519.4 L204.7,520.2 L205.1,521.0 L205.4,521.8 L205.7,522.6 L206.0,523.5 L206.2,524.3 L206.4,525.2 L206.5,526.0 L206.6,526.8 L206.6,527.7 L206.6,528.4 L206.5,529.2 L206.4,529.9 L206.2,530.6 L206.0,531.3 L205.8,531.9 L205.5,532.5 L205.1,533.0 L204.8,533.5 L204.4,533.9 L203.9,534.2 L203.5,534.5 L203.0,534.8 Z" stroke-width="1.30" fill="#fff" />
<ellipse cx="195.6" cy="525.6" rx="8.9" ry="14.3" transform="rotate(-21 195.6 525.6)" stroke-width="1.56" fill="#fff" />
<ellipse cx="195.6" cy="525.6" rx="7.8" ry="12.6" transform="rotate(-21 195.6 525.6)" stroke-width="0.91" fill="none" />
<ellipse cx="195.4" cy="526.5" rx="4.4" ry="6.6" transform="rotate(-21 195.4 526.5)" stroke-width="1.43" fill="#fff" />
<path d="M200.1,530.5 L200.3,530.3 L200.5,530.1 L200.6,529.9 L200.8,529.6 L200.9,529.3 L201.0,529.0 L201.1,528.7 L201.2,528.4 L201.2,528.1 L201.3,527.7 L201.3,527.4 L201.3,527.0 L201.2,526.6 L201.2,526.3 L201.1,525.9 L201.1,525.5 L201.0,525.1 L200.8,524.8 L200.7,524.4 L200.5,524.0 L200.4,523.7 L200.2,523.3 L200.0,523.0 L199.8,522.7 L199.6,522.4 L199.3,522.1 L199.1,521.9 L198.8,521.6 L198.6,521.4 L198.3,521.2 L198.0,521.0 L197.8,520.8 L197.5,520.7 L197.2,520.6 L196.9,520.5 L196.7,520.5 L196.4,520.4 L196.1,520.4 L195.8,520.4 L195.6,520.5" stroke-width="1.17" fill="none" />
<ellipse cx="197.1" cy="526.5" rx="2.2" ry="3.4" transform="rotate(-21 197.1 526.5)" stroke-width="1.04" fill="none" />
<ellipse cx="221.6" cy="515.0" rx="7.6" ry="11.8" transform="rotate(-21 221.6 515.0)" stroke-width="1.43" fill="#fff" />
<ellipse cx="221.6" cy="515.0" rx="6.1" ry="9.8" transform="rotate(-21 221.6 515.0)" stroke-width="1.17" fill="#fff" />
<path d="M216.5,517.0 L225.8,513.4" stroke-width="1.17" />
<path d="M278.3,428.0 L281.0,422.5 L286.0,419.3 L291.0,417.3 L318.0,402.8 L318.5,396.0 L321.0,393.2 L330.5,392.6 L332.0,396.5 L331.5,399.5 L337.3,384.7 L341.7,378.6 L337.3,370.8 L331.3,362.1 L332.1,355.2 L327.8,347.3 L326.9,338.7 L330.4,330.8 L337.3,326.5 L343.0,325.0 L344.0,322.3 L348.0,321.0 L352.0,323.5 L352.5,326.2 L359.9,328.2 L366.0,336.0 L373.8,345.6 L379.0,356.0 L385.1,360.4 L392.0,377.7 L399.9,386.4 L403.3,396.8 L402.5,408.0 L405.5,411.0 L406.0,423.0 L402.5,428.0 L405.5,431.0 L406.0,446.0 L403.0,449.0 L405.9,456.3 L407.0,463.0 L411.0,466.0 L411.0,479.0 L409.8,483.4 L406.0,493.0 L402.0,501.6 L401.5,505.0 L401.7,513.0 L371.3,523.4 L356.0,515.2 L352.5,514.8 L351.8,515.4 L351.0,516.3 L350.0,517.4 L348.9,518.5 L347.7,519.7 L346.4,520.8 L344.9,521.8 L343.4,522.6 L341.8,523.2 L340.0,523.8 L338.0,524.3 L336.0,524.8 L334.0,525.1 L331.9,525.2 L329.8,525.2 L327.7,525.0 L325.6,524.6 L323.6,524.1 L321.5,523.4 L319.3,522.5 L317.2,521.5 L315.1,520.3 L312.9,519.0 L310.8,517.5 L308.7,515.8 L306.5,513.9 L304.2,511.8 L302.0,509.5 L299.8,507.2 L297.8,504.7 L295.8,502.1 L293.9,499.5 L292.2,496.8 L290.5,494.0 L288.9,491.0 L287.4,488.0 L285.9,484.9 L284.6,481.7 L283.4,478.6 L282.3,475.5 L281.3,472.3 L280.4,469.0 L279.7,465.6 L279.0,462.2 L278.4,458.9 L277.9,455.7 L277.5,452.7 L277.2,450.0 L277.0,447.5 L276.9,445.1 L276.9,442.9 L277.0,440.8 L277.2,438.9 L277.4,437.1 L277.5,435.5 L277.6,434.0 L277.7,432.7 L277.8,431.7 L277.9,430.8 L278.0,430.0 L278.1,429.4 L278.2,428.8 L278.2,428.4 L278.3,428.0 Z" stroke-width="1.49" fill="#fff" />
<path d="M333.5,334 Q336,331.5 340.5,333.8" stroke-width="1.17" fill="none" />
<path d="M345.5,324.8 L346.5,328.5 L351.5,330.0 L352.3,326.2" stroke-width="1.17" fill="none" />
<path d="M348.0,321.2 L349.5,328.8" stroke-width="1.04" />
<circle cx="346" cy="339.6" r="5.8" fill="#fff" stroke-width="1.43"/>
<circle cx="346.4" cy="339.2" r="3.3" fill="#fff" stroke-width="1.30"/>
<circle cx="346.6" cy="339" r="1.5" fill="#888" stroke-width="1.04"/>
<path d="M350.5,344 Q353.5,350 351.5,358 L349,366 L320.5,415 L320.5,423" stroke-width="1.43" fill="none" />
<path d="M353.8,343 Q357.3,350 355.7,358.5 L353.5,366 L324.8,415.5 L338.5,437" stroke-width="1.43" fill="none" />
<path d="M352.5,331 L357.3,332.6 L362.5,339.5 L369.5,347.5 L374.7,357 L381.6,362.3 L387.7,378.8 L396.5,388.4 L399.6,397.5 L399.2,408" stroke-width="1.17" fill="none" />
<path d="M359.9,328.2 L357.3,332.6" stroke-width="1.04" />
<path d="M366.0,336.0 L362.5,339.5" stroke-width="1.04" />
<path d="M373.8,345.6 L369.5,347.5" stroke-width="1.04" />
<path d="M379.0,356.0 L374.7,357.0" stroke-width="1.04" />
<path d="M385.1,360.4 L381.6,362.3" stroke-width="1.04" />
<path d="M392.0,377.7 L387.7,378.8" stroke-width="1.04" />
<path d="M399.9,386.4 L396.5,388.4" stroke-width="1.04" />
<path d="M357.5,338.5 L359,344.5 L366.5,356 L368.6,362.1 L382.5,393.4 L386.8,400.3 L401.6,391.6" stroke-width="1.30" fill="none" />
<path d="M381.8,362.6 L386.2,399.8" stroke-width="1.17" />
<path d="M367.5,360.3 L381.6,362.3" stroke-width="1.04" />
<path d="M373.5,366.5 L382.2,366.2" stroke-width="1.04" />
<path d="M372.9,379.5 L383.4,395.1" stroke-width="1.04" />
<path d="M386.8,400.3 L386.5,408.0" stroke-width="1.17" />
<ellipse cx="361" cy="371.2" rx="8" ry="4.6" transform="rotate(-24 361 371.2)" fill="#fff" stroke-width="1.30"/>
<path d="M354,375 Q358,379.5 366,375.5" stroke-width="1.04" fill="none" />
<circle cx="370.9" cy="367.2" r="2.6" fill="#fff" stroke-width="1.30"/>
<circle cx="370.9" cy="367.2" r="1.1" fill="#666" stroke-width="0.91"/>
<path d="M357.5,366.5 L329,415.5 L340.5,433.5 L349.5,433 L378.5,402.5 L366,372" stroke-width="1.17" fill="none" />
<path d="M351.2,436.6 L382.4,397.7" stroke-width="1.43" />
<path d="M339.8,439.6 L348.4,439.4 L344.7,461.0 Z" stroke-width="1.17" fill="none" />
<path d="M334.2,437.5 Q338,462 340.8,486 Q340,509 329,522.8" stroke-width="1.30" fill="none" />
<path d="M338.5,437 Q336.5,440 337.3,446" stroke-width="1.17" fill="none" />
<path d="M351.2,436.6 Q347,465 347.3,486 Q347.2,505 345.8,514.8" stroke-width="1.30" fill="none" />
<path d="M291.0,417.3 L295.3,426.2 L321.0,426.6 L320.5,415.0" stroke-width="1.30" fill="none" />
<path d="M278.3,428 Q280,427.5 282,428 L295.3,426.2" stroke-width="1.17" fill="none" />
<path d="M318.0,402.8 L324.5,400.5" stroke-width="1.30" />
<ellipse cx="320.5" cy="396.3" rx="1.3" ry="1.8" fill="#fff" stroke-width="1.04"/>
<path d="M318.5,399.8 L330.0,396.2" stroke-width="1.04" fill="none" />
<path d="M321,426.6 Q322,428 323.8,428.5" stroke-width="1.04" fill="none" />
<ellipse cx="310.8" cy="469.8" rx="11.4" ry="19.0" transform="rotate(-21 310.8 469.8)" stroke-width="1.43" fill="#fff" />
<ellipse cx="313.2" cy="468.9" rx="8.6" ry="14.4" transform="rotate(-21 313.2 468.9)" stroke-width="1.30" fill="#fff" />
<path d="M319.1,480.8 L319.8,480.6 L320.5,480.4 L321.1,480.1 L321.7,479.8 L322.2,479.3 L322.7,478.7 L323.2,478.1 L323.6,477.3 L323.9,476.5 L324.2,475.7 L324.4,474.7 L324.5,473.8 L324.6,472.8 L324.6,471.7 L324.5,470.6 L324.4,469.5 L324.1,468.4 L323.9,467.3 L323.6,466.2 L323.2,465.1 L322.7,464.0 L322.2,462.9 L321.7,461.9 L321.1,461.0 L320.4,460.0 L319.8,459.2 L319.0,458.4 L318.3,457.7 L317.6,457.1 L316.8,456.5 L316.0,456.0 L315.2,455.7 L314.5,455.4 L313.7,455.2 L313.0,455.1 L312.2,455.1 L311.5,455.2 L310.9,455.4 L310.2,455.7 L309.6,456.1" stroke-width="2.60" fill="none" style="stroke:#555"/>
<ellipse cx="313.2" cy="468.9" rx="8.6" ry="14.4" transform="rotate(-21 313.2 468.9)" stroke-width="1.30" fill="none" />
<path d="M390.4,414.0 L394.4,411.0 L405.4,411.5 L405.9,422.0 L395.4,425.5 L390.9,423.0 Z" stroke-width="1.30" fill="#fff" />
<path d="M390.4,414.0 L395.4,416.5 L405.4,411.5" stroke-width="1.17" fill="none" />
<path d="M395.4,416.5 L395.4,425.5" stroke-width="1.17" />
<circle cx="393.0" cy="420.5" r="1.5" fill="#fff" stroke-width="1.04"/>
<path d="M395.5,467.0 L399.5,464.0 L410.5,464.5 L411.0,475.0 L400.5,478.5 L396.0,476.0 Z" stroke-width="1.30" fill="#fff" />
<path d="M395.5,467.0 L400.5,469.5 L410.5,464.5" stroke-width="1.17" fill="none" />
<path d="M400.5,469.5 L400.5,478.5" stroke-width="1.17" />
<circle cx="398.1" cy="473.5" r="1.5" fill="#fff" stroke-width="1.04"/>
<path d="M404.5,429.5 L398,429.5 Q389.5,431.5 389,438.5 Q389.5,446.5 398,447 L405,446.5 L405,441.5 L399,441.8 Q394.5,441 394.5,438 Q394.8,434.6 399,434.3 L404.5,434.3" stroke-width="1.30" fill="#fff" />
<path d="M353.9,502.6 L390.4,486.1 L392.3,488.7 L400.8,498.2 L401.7,513.0 L371.3,523.4 L352.2,513.0 Z" stroke-width="1.43" fill="#fff" />
<path d="M353.9,502.6 L370.4,514.7 L399.1,501.2 L392.3,488.7" stroke-width="1.30" fill="none" />
<path d="M370.4,514.7 L371.3,523.4" stroke-width="1.30" />
<path d="M356.8,503.4 L391.3,487.6" stroke-width="1.04" />
<path d="M399.1,501.2 L400.8,498.2" stroke-width="1.04" />
<ellipse cx="379.1" cy="513" rx="8" ry="5" transform="rotate(-27 379.1 513)" fill="#fff" stroke-width="1.56"/>
<ellipse cx="379.5" cy="513.2" rx="6.2" ry="3.6" transform="rotate(-27 379.5 513.2)" fill="none" stroke-width="1.17"/>
<ellipse cx="393.5" cy="506.4" rx="1.7" ry="1.1" transform="rotate(-27 393.5 506.4)" fill="#fff" stroke-width="1.04"/>
<path d="M387.5,517.3 L388.5,521 L391.5,520 L390.8,516.2" stroke-width="1.04" fill="none" />
<path d="M227.7,387.7 L251.0,378.9 L249.6,374.9 L226.3,383.8" stroke-width="1.30" fill="#fff" />
<path d="M251.0,378.9 Q251.7,376.4 249.6,374.9" stroke-width="1.30" fill="none" />
<ellipse cx="226.3" cy="386.0" rx="3.7" ry="5.6" transform="rotate(-20.8 226.3 386.0)" fill="#fff" stroke-width="1.30"/>
<ellipse cx="225.3" cy="386.4" rx="3.7" ry="5.6" transform="rotate(-20.8 225.3 386.4)" fill="#fff" stroke-width="1.43"/>
<ellipse cx="223.0" cy="387.3" rx="3.1" ry="4.0" transform="rotate(-20.8 223.0 387.3)" fill="#fff" stroke-width="1.95"/>
<ellipse cx="222.8" cy="387.3" rx="1.7" ry="2.2" transform="rotate(-20.8 222.8 387.3)" fill="#888" stroke-width="1.56"/>
<path d="M272.1,399.9 L295.4,390.7 L293.8,386.7 L270.5,396.0" stroke-width="1.30" fill="#fff" />
<path d="M295.4,390.7 Q296.0,388.1 293.8,386.7" stroke-width="1.30" fill="none" />
<ellipse cx="270.5" cy="398.3" rx="3.7" ry="5.6" transform="rotate(-21.7 270.5 398.3)" fill="#fff" stroke-width="1.30"/>
<ellipse cx="269.6" cy="398.7" rx="3.7" ry="5.6" transform="rotate(-21.7 269.6 398.7)" fill="#fff" stroke-width="1.43"/>
<ellipse cx="267.3" cy="399.6" rx="3.1" ry="4.0" transform="rotate(-21.7 267.3 399.6)" fill="#fff" stroke-width="1.95"/>
<ellipse cx="267.1" cy="399.7" rx="1.7" ry="2.2" transform="rotate(-21.7 267.1 399.7)" fill="#888" stroke-width="1.56"/>
<path d="M225.1,412.2 L249.2,403.2 L247.8,399.2 L223.7,408.3" stroke-width="1.30" fill="#fff" />
<path d="M249.2,403.2 Q249.9,400.7 247.8,399.2" stroke-width="1.30" fill="none" />
<ellipse cx="223.7" cy="410.5" rx="3.7" ry="5.6" transform="rotate(-20.6 223.7 410.5)" fill="#fff" stroke-width="1.30"/>
<ellipse cx="222.7" cy="410.9" rx="3.7" ry="5.6" transform="rotate(-20.6 222.7 410.9)" fill="#fff" stroke-width="1.43"/>
<ellipse cx="220.4" cy="411.8" rx="3.1" ry="4.0" transform="rotate(-20.6 220.4 411.8)" fill="#fff" stroke-width="1.95"/>
<ellipse cx="220.2" cy="411.8" rx="1.7" ry="2.2" transform="rotate(-20.6 220.2 411.8)" fill="#888" stroke-width="1.56"/>
<path d="M253.3,426.6 L277.0,418.0 L275.6,414.0 L251.9,422.6" stroke-width="1.30" fill="#fff" />
<path d="M277.0,418.0 Q277.7,415.5 275.6,414.0" stroke-width="1.30" fill="none" />
<ellipse cx="251.9" cy="424.9" rx="3.7" ry="5.6" transform="rotate(-19.9 251.9 424.9)" fill="#fff" stroke-width="1.30"/>
<ellipse cx="250.9" cy="425.2" rx="3.7" ry="5.6" transform="rotate(-19.9 250.9 425.2)" fill="#fff" stroke-width="1.43"/>
<ellipse cx="248.6" cy="426.0" rx="3.1" ry="4.0" transform="rotate(-19.9 248.6 426.0)" fill="#fff" stroke-width="1.95"/>
<ellipse cx="248.4" cy="426.1" rx="1.7" ry="2.2" transform="rotate(-19.9 248.4 426.1)" fill="#888" stroke-width="1.56"/>
<path d="M221.7,442.2 L245.0,433.6 L243.6,429.6 L220.3,438.3" stroke-width="1.30" fill="#fff" />
<path d="M245.0,433.6 Q245.7,431.1 243.6,429.6" stroke-width="1.30" fill="none" />
<ellipse cx="220.3" cy="440.5" rx="3.7" ry="5.6" transform="rotate(-20.4 220.3 440.5)" fill="#fff" stroke-width="1.30"/>
<ellipse cx="219.3" cy="440.9" rx="3.7" ry="5.6" transform="rotate(-20.4 219.3 440.9)" fill="#fff" stroke-width="1.43"/>
<ellipse cx="217.0" cy="441.8" rx="3.1" ry="4.0" transform="rotate(-20.4 217.0 441.8)" fill="#fff" stroke-width="1.95"/>
<ellipse cx="216.8" cy="441.8" rx="1.7" ry="2.2" transform="rotate(-20.4 216.8 441.8)" fill="#888" stroke-width="1.56"/>
<path d="M242.2,463.0 L265.4,454.0 L263.8,450.0 L240.6,459.1" stroke-width="1.30" fill="#fff" />
<path d="M265.4,454.0 Q266.0,451.5 263.8,450.0" stroke-width="1.30" fill="none" />
<ellipse cx="240.7" cy="461.3" rx="3.7" ry="5.6" transform="rotate(-21.2 240.7 461.3)" fill="#fff" stroke-width="1.30"/>
<ellipse cx="239.7" cy="461.7" rx="3.7" ry="5.6" transform="rotate(-21.2 239.7 461.7)" fill="#fff" stroke-width="1.43"/>
<ellipse cx="237.4" cy="462.6" rx="3.1" ry="4.0" transform="rotate(-21.2 237.4 462.6)" fill="#fff" stroke-width="1.95"/>
<ellipse cx="237.2" cy="462.6" rx="1.7" ry="2.2" transform="rotate(-21.2 237.2 462.6)" fill="#888" stroke-width="1.56"/>
<path d="M248.6,482.0 L271.8,473.5 L270.4,469.5 L247.2,478.1" stroke-width="1.30" fill="#fff" />
<path d="M271.8,473.5 Q272.5,471.0 270.4,469.5" stroke-width="1.30" fill="none" />
<ellipse cx="247.2" cy="480.3" rx="3.7" ry="5.6" transform="rotate(-20.3 247.2 480.3)" fill="#fff" stroke-width="1.30"/>
<ellipse cx="246.2" cy="480.7" rx="3.7" ry="5.6" transform="rotate(-20.3 246.2 480.7)" fill="#fff" stroke-width="1.43"/>
<ellipse cx="243.9" cy="481.6" rx="3.1" ry="4.0" transform="rotate(-20.3 243.9 481.6)" fill="#fff" stroke-width="1.95"/>
<ellipse cx="243.7" cy="481.6" rx="1.7" ry="2.2" transform="rotate(-20.3 243.7 481.6)" fill="#888" stroke-width="1.56"/>
<path d="M270.3,529.7 L294.1,520.4 L292.5,516.4 L268.7,525.8" stroke-width="1.30" fill="#fff" />
<path d="M294.1,520.4 Q294.7,517.9 292.5,516.4" stroke-width="1.30" fill="none" />
<ellipse cx="268.7" cy="528.0" rx="3.7" ry="5.6" transform="rotate(-21.4 268.7 528.0)" fill="#fff" stroke-width="1.30"/>
<ellipse cx="267.8" cy="528.4" rx="3.7" ry="5.6" transform="rotate(-21.4 267.8 528.4)" fill="#fff" stroke-width="1.43"/>
<ellipse cx="265.5" cy="529.3" rx="3.1" ry="4.0" transform="rotate(-21.4 265.5 529.3)" fill="#fff" stroke-width="1.95"/>
<ellipse cx="265.3" cy="529.3" rx="1.7" ry="2.2" transform="rotate(-21.4 265.3 529.3)" fill="#888" stroke-width="1.56"/>
<path d="M292.4,539.2 L316.2,530.0 L314.6,526.0 L290.8,535.3" stroke-width="1.30" fill="#fff" />
<path d="M316.2,530.0 Q316.8,527.5 314.6,526.0" stroke-width="1.30" fill="none" />
<ellipse cx="290.9" cy="537.5" rx="3.7" ry="5.6" transform="rotate(-21.2 290.9 537.5)" fill="#fff" stroke-width="1.30"/>
<ellipse cx="289.9" cy="537.9" rx="3.7" ry="5.6" transform="rotate(-21.2 289.9 537.9)" fill="#fff" stroke-width="1.43"/>
<ellipse cx="287.6" cy="538.8" rx="3.1" ry="4.0" transform="rotate(-21.2 287.6 538.8)" fill="#fff" stroke-width="1.95"/>
<ellipse cx="287.4" cy="538.8" rx="1.7" ry="2.2" transform="rotate(-21.2 287.4 538.8)" fill="#888" stroke-width="1.56"/>
<path d="M316.9,545.6 L341.5,536.9 L340.1,532.9 L315.5,541.6" stroke-width="1.30" fill="#fff" />
<path d="M341.5,536.9 Q342.2,534.4 340.1,532.9" stroke-width="1.30" fill="none" />
<ellipse cx="315.5" cy="543.9" rx="3.7" ry="5.6" transform="rotate(-19.5 315.5 543.9)" fill="#fff" stroke-width="1.30"/>
<ellipse cx="314.5" cy="544.2" rx="3.7" ry="5.6" transform="rotate(-19.5 314.5 544.2)" fill="#fff" stroke-width="1.43"/>
<ellipse cx="312.2" cy="545.0" rx="3.1" ry="4.0" transform="rotate(-19.5 312.2 545.0)" fill="#fff" stroke-width="1.95"/>
<ellipse cx="312.0" cy="545.1" rx="1.7" ry="2.2" transform="rotate(-19.5 312.0 545.1)" fill="#888" stroke-width="1.56"/>
<path d="M258.7,543.3 L281.2,535.0 L279.8,531.0 L257.3,539.4" stroke-width="1.30" fill="#fff" />
<path d="M281.2,535.0 Q281.9,532.5 279.8,531.0" stroke-width="1.30" fill="none" />
<ellipse cx="257.3" cy="541.6" rx="3.7" ry="5.6" transform="rotate(-20.4 257.3 541.6)" fill="#fff" stroke-width="1.30"/>
<ellipse cx="256.3" cy="542.0" rx="3.7" ry="5.6" transform="rotate(-20.4 256.3 542.0)" fill="#fff" stroke-width="1.43"/>
<ellipse cx="254.0" cy="542.9" rx="3.1" ry="4.0" transform="rotate(-20.4 254.0 542.9)" fill="#fff" stroke-width="1.95"/>
<ellipse cx="253.8" cy="542.9" rx="1.7" ry="2.2" transform="rotate(-20.4 253.8 542.9)" fill="#888" stroke-width="1.56"/>
<path d="M252.4,375.6 L269.3,369.9 L271.1,373.0 L340.5,341.0" stroke-width="1.17" fill="none" />
<path d="M379.5,519.0 L396.0,539.0" stroke-width="1.17" />
<path d="M394.0,508.0 L436.5,569.0" stroke-width="1.17" />
<ellipse cx="389" cy="530.2" rx="7.6" ry="4.6" transform="rotate(-27 389 530.2)" fill="#fff" stroke-width="1.43"/>
<ellipse cx="389" cy="530.2" rx="5.8" ry="3.1" transform="rotate(-27 389 530.2)" fill="#fff" stroke-width="1.17"/>
<path d="M384.0,524.5 L394.0,536.5" stroke-width="1.17" />
<path d="M411.1,562.1 L436.0,598.4" stroke-width="1.30" fill="none" />
<path d="M415.4,559.2 L440.3,595.5" stroke-width="1.30" fill="none" />
<path d="M399,555.5 Q398.3,559.5 400.5,562 Q403.5,564.6 408,564.2 L412.5,563.3 Q416.5,561 419,557.5 Q421.5,553.8 425,552.6 Q429.5,551 429.2,547.2 Q427.8,543.5 423.5,543.8 Q419.5,544.2 417.5,547 L415.2,549.6 Z" stroke-width="1.30" fill="#fff" />
<path d="M399.3,553 Q399.5,557 402.5,559 Q406,560.8 410.5,559.6" stroke-width="1.04" fill="none" />
<ellipse cx="422.6" cy="550.2" rx="2.2" ry="1.5" transform="rotate(-27 422.6 550.2)" fill="#fff" stroke-width="1.04"/>
<path d="M392.0,543.7 L402.7,559.4 L410.5,556.5 L415.9,550.4 L405.2,534.7" stroke-width="1.30" fill="#fff" />
<path d="M402.7,559.4 Q412.2,559.0 415.9,550.4" stroke-width="1.30" fill="#fff" />
<ellipse cx="398.6" cy="539.2" rx="8" ry="4.4" transform="rotate(-34 398.6 539.2)" fill="#fff" stroke-width="1.43"/>
<path d="M434.3,598.4 L437.7,603.3 L444.3,598.8 L440.9,593.9 Z" stroke-width="1.30" fill="#fff" />
<path d="M434.8,605.3 L447.2,623.5 L445.0,627.4 L446.7,629.8 L451.0,628.1 L461.8,643.8 L473.3,635.9 L462.6,620.2 L465.0,614.9 L463.3,612.4 L459.0,614.2 L447.2,596.8 Z" stroke-width="1.43" fill="#fff" />
<path d="M447.2,623.5 L459.0,614.2" stroke-width="1.04" />
<path d="M451.0,628.1 L462.6,620.2" stroke-width="1.04" />
<path d="M455.6,648.0 L475.9,677.7 L493.6,665.6 L473.3,635.9 Z" stroke-width="1.43" fill="#fff" />
<path d="M455.6,648.0 L456.8,643.6 L460.1,641.3 L461.8,643.8" stroke-width="1.30" fill="none" />
<path d="M462.0,648.5 L480.0,674.9" stroke-width="1.17" />
<path d="M466.5,645.4 L484.6,671.8" stroke-width="1.17" />
<path d="M470.1,645.4 L481.4,661.9" stroke-width="1.04" />
<path d="M462.0,648.5 L466.5,645.4" stroke-width="1.04" />
<path d="M470.0,638.2 L490.3,667.9" stroke-width="1.04" />
<path d="M438.5,568.3 L446.0,579.0 L442.5,581.5 L435.0,570.8 Z" stroke-width="1.30" fill="#fff" />
<ellipse cx="436.8" cy="569.5" rx="2.2" ry="1.4" transform="rotate(-34 436.8 569.5)" fill="#fff" stroke-width="1.17"/>
<ellipse cx="443.8" cy="579.6" rx="4.6" ry="3" transform="rotate(-34 443.8 579.6)" fill="#fff" stroke-width="1.30"/>
<ellipse cx="444.8" cy="581" rx="4.6" ry="3" transform="rotate(-34 444.8 581)" fill="#fff" stroke-width="1.43"/>
<ellipse cx="445.3" cy="581.7" rx="2.8" ry="1.8" transform="rotate(-34 445.3 581.7)" fill="#666" stroke-width="1.17"/>
<path d="M205.0,518.6 L447.0,423.1" stroke-width="1.10" />
<path d="M478.0,410.9 L594.0,365.1" stroke-width="1.10" />
<path d="M637.0,348.1 L676.0,332.7" stroke-width="1.10" />
<path d="M692.0,326.4 L851.0,263.7" stroke-width="1.10" />
<path d="M638.6,319.8 L775.0,264.6" stroke-width="1.10" />
<path d="M474.2,390.4 L444.0,402.4" stroke-width="1.10" />
<path d="M483.2,401.0 L450.0,414.2" stroke-width="1.10" />
<path d="M663.0,43.2 L706.5,43.2" stroke-width="1.56" />
<path d="M566.0,64.2 L597.0,64.2" stroke-width="1.56" />
<path d="M636.0,120.2 L672.0,120.2" stroke-width="1.56" />
<path d="M729.0,106.2 L754.0,106.2" stroke-width="1.56" />
<path d="M741.5,131.2 L768.0,131.2" stroke-width="1.56" />
<path d="M492.5,178.2 L518.0,178.2" stroke-width="1.56" />
<path d="M688.7,177.2 L722.0,177.2" stroke-width="1.56" />
<path d="M822.2,152.2 L842.2,152.2" stroke-width="1.56" />
<path d="M815.6,194.2 L842.8,194.2" stroke-width="1.56" />
<path d="M891.4,305.0 L905.5,318.0" stroke-width="1.30" />
<path d="M826.3,314.5 L846.9,333.0" stroke-width="1.30" />
<path d="M759.1,323.8 L789.9,349.2" stroke-width="1.30" />
<path d="M726.9,359.4 L749.8,373.7" stroke-width="1.30" />
<path d="M646.4,351.6 L652.1,375.0" stroke-width="1.30" />
<path d="M644.3,392.7 L653.4,412.8" stroke-width="1.30" />
<path d="M606.5,338.6 L630.0,346.9" stroke-width="1.30" />
<path d="M496.6,299.2 L533.8,299.2" stroke-width="1.56" />
<path d="M475.9,350.7 L494.6,380.7" stroke-width="1.30" />
<path d="M482.9,438.2 L512.3,438.2" stroke-width="1.56" />
<path d="M507.6,465.2 L524.0,465.2" stroke-width="1.56" />
<path d="M517.5,493.2 L532.9,493.2" stroke-width="1.56" />
<path d="M458.1,501.4 L477.7,500.7" stroke-width="1.30" />
<path d="M314.7,372.2 L342.8,372.2" stroke-width="1.56" />
<path d="M213.8,460.3 L225.0,475.9" stroke-width="1.30" />
<path d="M177.4,472.5 L187.8,491.5" stroke-width="1.30" />
<path d="M151.1,484.7 L163.6,499.8" stroke-width="1.30" />
<path d="M112.5,496.4 L123.7,513.9" stroke-width="1.30" />
<path d="M78.7,507.4 L89.9,523.8" stroke-width="1.30" />
<path d="M58.6,519.9 L70.9,530.3" stroke-width="1.30" />
<path d="M29.4,533.7 L39.1,541.5" stroke-width="1.30" />
<path d="M178.1,534.2 L196.9,534.2" stroke-width="1.56" />
<path d="M227.6,519.4 L233.4,529.3" stroke-width="1.30" />
<path d="M367.3,553.7 L385.0,532.8" stroke-width="1.30" />
<path d="M449.9,579.2 L483.0,579.2" stroke-width="1.56" />
<path d="M461.6,629.2 L503.3,629.2" stroke-width="1.56" />
<path d="M257.0,546.8 L264.3,567.5" stroke-width="1.30" />
<circle cx="636.0" cy="120.0" r="1.2" fill="#111" stroke="none"/>
<circle cx="688.7" cy="177.0" r="1.2" fill="#111" stroke="none"/>
<circle cx="880.5" cy="294.2" r="1.2" fill="#111" stroke="none"/>
<circle cx="759.1" cy="323.8" r="1.2" fill="#111" stroke="none"/>
<circle cx="726.9" cy="359.4" r="1.2" fill="#111" stroke="none"/>
<circle cx="477.7" cy="500.7" r="1.2" fill="#111" stroke="none"/>
<circle cx="461.6" cy="629.8" r="1.2" fill="#111" stroke="none"/>
<circle cx="533.8" cy="299.4" r="1.2" fill="#111" stroke="none"/>
<circle cx="630.5" cy="347.0" r="1.2" fill="#111" stroke="none"/>
<circle cx="342.8" cy="372.9" r="1.2" fill="#111" stroke="none"/>
<circle cx="123.7" cy="513.9" r="1.2" fill="#111" stroke="none"/>
<circle cx="197.5" cy="534.0" r="1.2" fill="#111" stroke="none"/>
<path d="M861.5,116.0 L877.7,150.0 L934.0,127.5" stroke-width="1.17" fill="none" />
<path d="M945.0,120.0 L985.0,99.5 L952.7,45.0" stroke-width="1.17" fill="none" />
<path d="M406.0,490.5 L420.4,485.0 L448.5,522.1 L477.8,511.7" stroke-width="1.17" fill="none" />
<text x="707.4" y="49.9" font-size="22.1" textLength="17.2" lengthAdjust="spacingAndGlyphs">33</text>
<text x="548.4" y="70.9" font-size="22.1" textLength="17.3" lengthAdjust="spacingAndGlyphs">32</text>
<text x="672.4" y="126.1" font-size="22.1" textLength="17.1" lengthAdjust="spacingAndGlyphs">30</text>
<text x="720.2" y="113.4" font-size="22.1" textLength="8.8" lengthAdjust="spacingAndGlyphs">2</text>
<text x="724.2" y="139.4" font-size="22.1" textLength="17.4" lengthAdjust="spacingAndGlyphs">29</text>
<text x="476.8" y="183.9" font-size="22.1" textLength="14.6" lengthAdjust="spacingAndGlyphs">31</text>
<text x="723.1" y="184.1" font-size="22.1" textLength="16.9" lengthAdjust="spacingAndGlyphs">34</text>
<text x="935.7" y="132.9" font-size="22.1" textLength="6.1" lengthAdjust="spacingAndGlyphs">1</text>
<text x="842.4" y="158.7" font-size="22.1" textLength="8.5" lengthAdjust="spacingAndGlyphs">3</text>
<text x="843.7" y="200.9" font-size="22.1" textLength="8.0" lengthAdjust="spacingAndGlyphs">4</text>
<text x="906.0" y="324.8" font-size="22.1" textLength="8.5" lengthAdjust="spacingAndGlyphs">5</text>
<text x="846.8" y="341.8" font-size="22.1" textLength="8.5" lengthAdjust="spacingAndGlyphs">8</text>
<text x="789.7" y="355.4" font-size="22.1" textLength="8.8" lengthAdjust="spacingAndGlyphs">7</text>
<text x="750.2" y="379.6" font-size="22.1" textLength="12.3" lengthAdjust="spacingAndGlyphs">11</text>
<text x="652.4" y="381.4" font-size="22.1" textLength="15.1" lengthAdjust="spacingAndGlyphs">12</text>
<text x="652.7" y="418.6" font-size="22.1" textLength="8.7" lengthAdjust="spacingAndGlyphs">9</text>
<text x="591.4" y="343.9" font-size="22.1" textLength="15.0" lengthAdjust="spacingAndGlyphs">13</text>
<text x="479.2" y="306.2" font-size="22.1" textLength="17.5" lengthAdjust="spacingAndGlyphs">27</text>
<text x="459.7" y="356.4" font-size="22.1" textLength="14.8" lengthAdjust="spacingAndGlyphs">14</text>
<text x="513.1" y="445.2" font-size="22.1" textLength="15.0" lengthAdjust="spacingAndGlyphs">10</text>
<text x="525.0" y="471.7" font-size="22.1" textLength="15.0" lengthAdjust="spacingAndGlyphs">16</text>
<text x="533.5" y="500.4" font-size="22.1" textLength="15.0" lengthAdjust="spacingAndGlyphs">16</text>
<text x="442.3" y="508.2" font-size="22.1" textLength="15.0" lengthAdjust="spacingAndGlyphs">15</text>
<text x="299.4" y="379.2" font-size="22.1" textLength="15.1" lengthAdjust="spacingAndGlyphs">17</text>
<text x="197.1" y="466.6" font-size="22.1" textLength="17.1" lengthAdjust="spacingAndGlyphs">35</text>
<text x="163.0" y="478.4" font-size="22.1" textLength="15.0" lengthAdjust="spacingAndGlyphs">18</text>
<text x="136.5" y="491.8" font-size="22.1" textLength="15.1" lengthAdjust="spacingAndGlyphs">19</text>
<text x="95.6" y="504.0" font-size="22.1" textLength="17.3" lengthAdjust="spacingAndGlyphs">20</text>
<text x="70.8" y="514.4" font-size="22.1" textLength="8.7" lengthAdjust="spacingAndGlyphs">6</text>
<text x="44.1" y="526.7" font-size="22.1" textLength="14.7" lengthAdjust="spacingAndGlyphs">21</text>
<text x="10.9" y="539.7" font-size="22.1" textLength="17.5" lengthAdjust="spacingAndGlyphs">22</text>
<text x="161.5" y="540.9" font-size="22.1" textLength="17.4" lengthAdjust="spacingAndGlyphs">26</text>
<text x="232.6" y="535.6" font-size="22.1" textLength="17.4" lengthAdjust="spacingAndGlyphs">25</text>
<text x="264.7" y="576.9" font-size="22.1" textLength="14.8" lengthAdjust="spacingAndGlyphs">14</text>
<text x="350.4" y="561.8" font-size="22.1" textLength="17.4" lengthAdjust="spacingAndGlyphs">28</text>
<text x="483.7" y="585.8" font-size="22.1" textLength="17.1" lengthAdjust="spacingAndGlyphs">24</text>
<text x="503.8" y="636.1" font-size="22.1" textLength="17.4" lengthAdjust="spacingAndGlyphs">23</text>
</svg></body></html>
